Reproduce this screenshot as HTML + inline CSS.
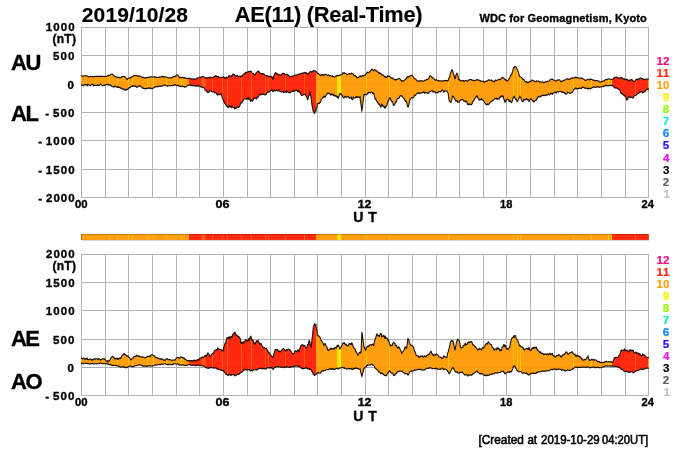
<!DOCTYPE html><html><head><meta charset="utf-8"><title>AE(11) Real-Time 2019/10/28</title>
<style>html,body{margin:0;padding:0;background:#fff;width:700px;height:450px;overflow:hidden}svg{display:block}text{font-family:"Liberation Sans",Arial,Helvetica,sans-serif;font-weight:bold;stroke-width:0.35px}</style></head><body>
<svg width="700" height="450" viewBox="0 0 700 450">
<rect width="700" height="450" fill="#fff"/>
<g stroke="#b4b4b4" stroke-width="1" shape-rendering="crispEdges">
<line x1="81.5" y1="27" x2="81.5" y2="198"/>
<line x1="105.5" y1="27" x2="105.5" y2="198"/>
<line x1="128.5" y1="27" x2="128.5" y2="198"/>
<line x1="152.5" y1="27" x2="152.5" y2="198"/>
<line x1="176.5" y1="27" x2="176.5" y2="198"/>
<line x1="199.5" y1="27" x2="199.5" y2="198"/>
<line x1="223.5" y1="27" x2="223.5" y2="198"/>
<line x1="247.5" y1="27" x2="247.5" y2="198"/>
<line x1="270.5" y1="27" x2="270.5" y2="198"/>
<line x1="294.5" y1="27" x2="294.5" y2="198"/>
<line x1="317.5" y1="27" x2="317.5" y2="198"/>
<line x1="341.5" y1="27" x2="341.5" y2="198"/>
<line x1="365.5" y1="27" x2="365.5" y2="198"/>
<line x1="388.5" y1="27" x2="388.5" y2="198"/>
<line x1="412.5" y1="27" x2="412.5" y2="198"/>
<line x1="436.5" y1="27" x2="436.5" y2="198"/>
<line x1="459.5" y1="27" x2="459.5" y2="198"/>
<line x1="483.5" y1="27" x2="483.5" y2="198"/>
<line x1="506.5" y1="27" x2="506.5" y2="198"/>
<line x1="530.5" y1="27" x2="530.5" y2="198"/>
<line x1="554.5" y1="27" x2="554.5" y2="198"/>
<line x1="577.5" y1="27" x2="577.5" y2="198"/>
<line x1="601.5" y1="27" x2="601.5" y2="198"/>
<line x1="625.5" y1="27" x2="625.5" y2="198"/>
<line x1="648.5" y1="27" x2="648.5" y2="198"/>
<line x1="81" y1="27.5" x2="649" y2="27.5"/>
<line x1="81" y1="55.5" x2="649" y2="55.5"/>
<line x1="81" y1="84.5" x2="649" y2="84.5"/>
<line x1="81" y1="112.5" x2="649" y2="112.5"/>
<line x1="81" y1="140.5" x2="649" y2="140.5"/>
<line x1="81" y1="169.5" x2="649" y2="169.5"/>
<line x1="81" y1="197.5" x2="649" y2="197.5"/>
<line x1="81.5" y1="254" x2="81.5" y2="396"/>
<line x1="105.5" y1="254" x2="105.5" y2="396"/>
<line x1="128.5" y1="254" x2="128.5" y2="396"/>
<line x1="152.5" y1="254" x2="152.5" y2="396"/>
<line x1="176.5" y1="254" x2="176.5" y2="396"/>
<line x1="199.5" y1="254" x2="199.5" y2="396"/>
<line x1="223.5" y1="254" x2="223.5" y2="396"/>
<line x1="247.5" y1="254" x2="247.5" y2="396"/>
<line x1="270.5" y1="254" x2="270.5" y2="396"/>
<line x1="294.5" y1="254" x2="294.5" y2="396"/>
<line x1="317.5" y1="254" x2="317.5" y2="396"/>
<line x1="341.5" y1="254" x2="341.5" y2="396"/>
<line x1="365.5" y1="254" x2="365.5" y2="396"/>
<line x1="388.5" y1="254" x2="388.5" y2="396"/>
<line x1="412.5" y1="254" x2="412.5" y2="396"/>
<line x1="436.5" y1="254" x2="436.5" y2="396"/>
<line x1="459.5" y1="254" x2="459.5" y2="396"/>
<line x1="483.5" y1="254" x2="483.5" y2="396"/>
<line x1="506.5" y1="254" x2="506.5" y2="396"/>
<line x1="530.5" y1="254" x2="530.5" y2="396"/>
<line x1="554.5" y1="254" x2="554.5" y2="396"/>
<line x1="577.5" y1="254" x2="577.5" y2="396"/>
<line x1="601.5" y1="254" x2="601.5" y2="396"/>
<line x1="625.5" y1="254" x2="625.5" y2="396"/>
<line x1="648.5" y1="254" x2="648.5" y2="396"/>
<line x1="81" y1="254.5" x2="649" y2="254.5"/>
<line x1="81" y1="282.5" x2="649" y2="282.5"/>
<line x1="81" y1="310.5" x2="649" y2="310.5"/>
<line x1="81" y1="339.5" x2="649" y2="339.5"/>
<line x1="81" y1="367.5" x2="649" y2="367.5"/>
<line x1="81" y1="395.5" x2="649" y2="395.5"/>
</g>
<clipPath id="c1"><polygon points="81,75.8 81.2,75.8 81.6,75.7 82,75.8 82.4,76 82.8,76.1 83.2,76.2 83.6,76.1 84,75.7 84.3,75.8 84.7,76 85.1,75.8 85.5,75.7 85.9,75.8 86.3,76 86.7,76 87.1,75.8 87.5,76.2 87.9,76.2 88.3,76.6 88.7,76.7 89.1,76.9 89.5,76.7 89.9,76.8 90.3,76.5 90.6,76.3 91,76.3 91.4,76.8 91.8,76.7 92.2,76.6 92.6,76.4 93,76.7 93.4,76.6 93.8,76.7 94.2,76.8 94.6,76.4 95,76.5 95.4,76.4 95.8,76.2 96.2,76.4 96.6,76.4 96.9,76.3 97.3,76.3 97.7,76.6 98.1,76.5 98.5,76.2 98.9,76.6 99.3,76.4 99.7,76.4 100.1,76.6 100.5,76.1 100.9,76.1 101.3,76.5 101.7,76.5 102.1,76.4 102.5,76.5 102.9,76.4 103.2,76.5 103.6,76.4 104,76.2 104.4,76.5 104.8,76.5 105.2,76.6 105.6,76.4 106,76.5 106.4,76.5 106.8,76.3 107.2,75.8 107.6,75.4 108,75.6 108.4,75.6 108.8,75.3 109.2,75.6 109.5,75.4 109.9,75.2 110.3,74.6 110.7,74.3 111.1,74.3 111.5,74.3 111.9,74.2 112.3,74 112.7,74.5 113.1,75 113.5,75.2 113.9,75.6 114.3,75.9 114.7,76.5 115.1,76.7 115.5,77 115.8,76.8 116.2,76.8 116.6,77 117,77.1 117.4,77.4 117.8,77.4 118.2,77.5 118.6,77.3 119,77.6 119.4,77.4 119.8,77.7 120.2,78 120.6,77.8 121,77.7 121.4,77.4 121.8,76.5 122.1,76.7 122.5,76.8 122.9,76.6 123.3,76.3 123.7,76.3 124.1,76.4 124.5,76.6 124.9,76.9 125.3,77.6 125.7,78 126.1,78.3 126.5,79 126.9,79.2 127.3,79.4 127.7,78.8 128.1,78.5 128.4,78.3 128.8,78.3 129.2,78 129.6,78.3 130,78.2 130.4,77.6 130.8,77.8 131.2,77.2 131.6,77.3 132,76.7 132.4,76.6 132.8,76 133.2,75.8 133.6,76.2 134,75.7 134.4,75.3 134.7,75.4 135.1,75.5 135.5,75.6 135.9,75.8 136.3,75.4 136.7,75.6 137.1,75.6 137.5,75.9 137.9,76 138.3,76.4 138.7,76 139.1,76.1 139.5,75.9 139.9,76.1 140.3,76.4 140.7,76.6 141,76.8 141.4,76.8 141.8,77 142.2,77.1 142.6,77.5 143,77.7 143.4,77.3 143.8,77.6 144.2,77.9 144.6,77.8 145,77.6 145.4,77.9 145.8,77.8 146.2,77.8 146.6,78.1 147,77.6 147.3,77.5 147.7,77.3 148.1,77.4 148.5,77.1 148.9,77.1 149.3,77 149.7,77.2 150.1,77.3 150.5,76.8 150.9,76.9 151.3,76.8 151.7,76.9 152.1,77 152.5,77.1 152.9,76.9 153.3,77 153.6,77.1 154,77.1 154.4,76.8 154.8,76.8 155.2,76.9 155.6,77.2 156,77.7 156.4,77.4 156.8,77.3 157.2,77.5 157.6,77.5 158,77.5 158.4,77.3 158.8,77.1 159.2,77.3 159.6,77 159.9,77.3 160.3,77.1 160.7,77 161.1,76.8 161.5,76.4 161.9,76.2 162.3,76.6 162.7,77 163.1,76.7 163.5,76.9 163.9,76.8 164.3,76.5 164.7,76.9 165.1,77.2 165.5,77 165.9,77 166.2,77 166.6,77 167,77.3 167.4,77.6 167.8,77.6 168.2,77.7 168.6,78 169,77.8 169.4,77.8 169.8,77.7 170.2,77.9 170.6,77.8 171,77.9 171.4,77.8 171.8,77.5 172.2,77.5 172.5,77.2 172.9,77 173.3,76.5 173.7,76.8 174.1,76.5 174.5,76.5 174.9,76.4 175.3,76.5 175.7,76.2 176.1,75.6 176.5,75.3 176.9,74.9 177.3,75.1 177.7,75 178.1,75.3 178.5,76.1 178.8,76.4 179.2,77 179.6,77.8 180,77.7 180.4,77.2 180.8,77.2 181.2,77.5 181.6,77.7 182,77.4 182.4,77.4 182.8,77.5 183.2,77.6 183.6,77.7 184,77.6 184.4,77.7 184.8,77.8 185.1,78.2 185.5,78.1 185.9,78.3 186.3,78.1 186.7,78.4 187.1,78.5 187.5,78.5 187.9,78.8 188.3,78.3 188.7,78.1 189.1,78.3 189.5,78.3 189.9,78.3 190.3,79 190.7,78.9 191.1,78.9 191.4,78.9 191.8,79.1 192.2,79.1 192.6,79.1 193,78.9 193.4,78.9 193.8,79 194.2,78.7 194.6,79 195,79.2 195.4,79.4 195.8,78.9 196.2,78.6 196.6,78.3 197,78.2 197.4,78.1 197.7,78.1 198.1,78.1 198.5,78 198.9,77.9 199.3,77.4 199.7,77.3 200.1,77.3 200.5,77.4 200.9,77.4 201.3,76.9 201.7,76.8 202.1,76.7 202.5,76.8 202.9,77 203.3,76.9 203.7,76.8 204,77 204.4,77.2 204.8,77.3 205.2,77.4 205.6,77.9 206,77.9 206.4,78.2 206.8,77.9 207.2,78.1 207.6,77.8 208,77.3 208.4,77.5 208.8,77.8 209.2,77.7 209.6,77.7 210,77.9 210.3,77.7 210.7,77.1 211.1,77.3 211.5,77.5 211.9,77.8 212.3,77.5 212.7,77.7 213.1,77.8 213.5,77.1 213.9,77.2 214.3,76.6 214.7,76.1 215.1,76 215.5,76 215.9,75.6 216.3,76 216.6,76.4 217,77 217.4,77 217.8,76.5 218.2,76.3 218.6,76.8 219,77.2 219.4,77.3 219.8,77.2 220.2,77.3 220.6,77.2 221,77.2 221.4,77.4 221.8,77.5 222.2,77.4 222.6,77.6 222.9,77.4 223.3,76.9 223.7,76.9 224.1,77.2 224.5,77.9 224.9,77.6 225.3,78.3 225.7,78.5 226.1,77.7 226.5,77.1 226.9,77.1 227.3,77.7 227.7,77.6 228.1,77.5 228.5,76.8 228.9,75.5 229.2,75.5 229.6,76 230,76.4 230.4,76.1 230.8,76 231.2,76.3 231.6,75.8 232,76.1 232.4,75.1 232.8,74.4 233.2,74 233.6,74.6 234,74.5 234.4,74.8 234.8,75.1 235.2,75.4 235.5,76 235.9,76.6 236.3,75.9 236.7,75.9 237.1,75.8 237.5,75.4 237.9,76.3 238.3,76.6 238.7,76.4 239.1,76.2 239.5,76.4 239.9,76 240.3,76 240.7,76.7 241.1,77.1 241.5,76.3 241.8,75.8 242.2,76.3 242.6,75.3 243,74.8 243.4,74 243.8,74.2 244.2,74.1 244.6,74.3 245,72.9 245.4,73 245.8,72.2 246.2,72.5 246.6,72.3 247,72.8 247.4,72.6 247.8,71.8 248.1,72.1 248.5,71.4 248.9,71.2 249.3,71.5 249.7,71.6 250.1,71.5 250.5,71.2 250.9,71.2 251.3,71.8 251.7,72.1 252.1,72.9 252.5,73.6 252.9,73.7 253.3,73.4 253.7,74.2 254.1,74.3 254.4,74.6 254.8,75.1 255.2,74.4 255.6,74.1 256,72.9 256.4,72.9 256.8,72.2 257.2,71.9 257.6,71.8 258,71 258.4,71.4 258.8,71.5 259.2,71.9 259.6,72.7 260,73 260.4,73.3 260.7,73.2 261.1,73.8 261.5,73.6 261.9,74.1 262.3,73.5 262.7,73.7 263.1,74.1 263.5,74.1 263.9,73.8 264.3,74.5 264.7,75 265.1,75.3 265.5,75.7 265.9,75.5 266.3,75.8 266.7,76 267,75.7 267.4,75.9 267.8,75.8 268.2,76.1 268.6,76.5 269,77 269.4,76.2 269.8,76.3 270.2,76.4 270.6,76.5 271,76.6 271.4,76.8 271.8,76.4 272.2,77.3 272.6,78.5 273,79.5 273.3,78.6 273.7,76.9 274.1,75.2 274.5,74.2 274.9,73.2 275.3,73 275.7,72.6 276.1,73.7 276.5,73.4 276.9,73.8 277.3,73.5 277.7,74 278.1,74.1 278.5,74.8 278.9,75.1 279.3,74.7 279.6,74.7 280,75.1 280.4,75 280.8,75.2 281.2,74.8 281.6,74.3 282,73.8 282.4,73.4 282.8,73.4 283.2,73.3 283.6,73.6 284,73.6 284.4,73.6 284.8,74.3 285.2,74.9 285.6,74.7 285.9,74.6 286.3,74.5 286.7,74.2 287.1,74.4 287.5,74.4 287.9,74.7 288.3,74.9 288.7,75.4 289.1,75.9 289.5,76.5 289.9,76.8 290.3,76.8 290.7,76.5 291.1,76.3 291.5,76.5 291.9,76.2 292.2,76.4 292.6,76.2 293,76 293.4,76.3 293.8,75.9 294.2,75.5 294.6,75.3 295,75.2 295.4,75.1 295.8,75.2 296.2,75 296.6,75 297,74.7 297.4,74.9 297.8,74.6 298.2,74.3 298.5,74.2 298.9,74.2 299.3,73.9 299.7,74.3 300.1,73.9 300.5,73.7 300.9,73.5 301.3,73.3 301.7,73.5 302.1,73.5 302.5,73.2 302.9,73 303.3,72.9 303.7,73.4 304.1,73.1 304.5,72.6 304.8,72.4 305.2,72.5 305.6,73.2 306,72.8 306.4,72.9 306.8,73.9 307.2,73.5 307.6,74 308,74.2 308.4,74 308.8,73 309.2,72.9 309.6,72.6 310,71.9 310.4,71.3 310.8,71.5 311.1,71.6 311.5,72.1 311.9,72.2 312.3,71.7 312.7,71.2 313.1,71 313.5,70.3 313.9,70.7 314.3,71 314.7,70.9 315.1,71 315.5,70.9 315.9,71.3 316.3,72 316.7,72.1 317.1,72.9 317.4,73.8 317.8,73.4 318.2,73.5 318.6,73.5 319,74.4 319.4,74.5 319.8,74.7 320.2,74.9 320.6,75.7 321,75.4 321.4,74.8 321.8,74.6 322.2,74.8 322.6,74.8 323,74.5 323.4,75.7 323.7,75.6 324.1,75.2 324.5,74.9 324.9,74.4 325.3,74.3 325.7,74.5 326.1,74.8 326.5,74.8 326.9,75.2 327.3,75.4 327.7,75.3 328.1,74.9 328.5,75.3 328.9,75.6 329.3,75.7 329.7,75.5 330,75.7 330.4,75.4 330.8,76 331.2,76.2 331.6,76.3 332,76.1 332.4,75.8 332.8,76.5 333.2,76.8 333.6,76.6 334,76.8 334.4,77.2 334.8,76.7 335.2,76.4 335.6,76.1 336,76.3 336.3,75.8 336.7,75.9 337.1,75.4 337.5,75.8 337.9,76 338.3,75.7 338.7,75.8 339.1,75.3 339.5,75.1 339.9,75.4 340.3,75.2 340.7,75.1 341.1,74.6 341.5,74.8 341.9,74.8 342.3,74.2 342.6,73.3 343,72.7 343.4,73.1 343.8,73.2 344.2,72.7 344.6,73 345,73.5 345.4,73.5 345.8,73.4 346.2,73.8 346.6,74.4 347,74.8 347.4,74.2 347.8,74.3 348.2,74.2 348.6,74 348.9,73.6 349.3,73.8 349.7,73.6 350.1,73.9 350.5,73.8 350.9,74 351.3,73.2 351.7,73.1 352.1,73.4 352.5,73.8 352.9,74.2 353.3,74.1 353.7,75.2 354.1,75.7 354.5,76 354.9,75.2 355.2,75.5 355.6,76.2 356,76.7 356.4,76.6 356.8,77.6 357.2,78.1 357.6,77.6 358,77.4 358.4,77.2 358.8,77.4 359.2,76.6 359.6,76.1 360,76.1 360.4,75.9 360.8,76.8 361.2,76.3 361.5,76.2 361.9,75.8 362.3,75.4 362.7,75.5 363.1,76.1 363.5,75.6 363.9,75.6 364.3,75.3 364.7,75.1 365.1,74.8 365.5,75.2 365.9,74.2 366.3,73.7 366.7,73 367.1,72.1 367.5,72.1 367.8,72.7 368.2,72.7 368.6,72.7 369,72.4 369.4,71.7 369.8,71.9 370.2,71 370.6,71 371,70.2 371.4,69.6 371.8,69.2 372.2,69 372.6,69.4 373,69.9 373.4,70.7 373.8,70.7 374.1,70.1 374.5,69.7 374.9,69.7 375.3,70 375.7,70.7 376.1,70.4 376.5,70.9 376.9,71.2 377.3,71.6 377.7,71.8 378.1,72.2 378.5,72.5 378.9,73.3 379.3,73.5 379.7,72.6 380.1,73.1 380.4,73.6 380.8,73.6 381.2,73.7 381.6,74.6 382,75 382.4,74.8 382.8,75.1 383.2,75.4 383.6,75.1 384,76 384.4,76.4 384.8,77 385.2,76.4 385.6,77.4 386,77.5 386.4,77.5 386.7,76.9 387.1,76.5 387.5,75.9 387.9,76.7 388.3,76.2 388.7,76.2 389.1,76.4 389.5,75.9 389.9,76.2 390.3,77.1 390.7,77.3 391.1,78 391.5,78.2 391.9,78.1 392.3,78.1 392.7,77.8 393,78.3 393.4,79 393.8,79.3 394.2,79.5 394.6,79.8 395,79.4 395.4,79.6 395.8,80.2 396.2,79.6 396.6,79.5 397,79.4 397.4,79.2 397.8,79 398.2,79 398.6,78.5 399,78.5 399.3,78.5 399.7,78.5 400.1,79.2 400.5,79.7 400.9,80.2 401.3,80.5 401.7,81.4 402.1,81.1 402.5,80.8 402.9,80.9 403.3,81.1 403.7,80.8 404.1,80.3 404.5,80.2 404.9,79.7 405.3,79.5 405.6,78.9 406,78.9 406.4,78.5 406.8,77.8 407.2,76.5 407.6,77 408,77.1 408.4,77.2 408.8,76.5 409.2,76.7 409.6,76.4 410,75.9 410.4,75.8 410.8,75.6 411.2,75.2 411.6,75.5 411.9,75.3 412.3,75.6 412.7,75.9 413.1,76.5 413.5,77.7 413.9,78.3 414.3,78.2 414.7,78.3 415.1,78.7 415.5,79.3 415.9,79.4 416.3,79.9 416.7,80.5 417.1,81 417.5,80.8 417.9,81.1 418.2,80.9 418.6,81.2 419,81 419.4,81.2 419.8,81.3 420.2,80.6 420.6,80.6 421,81 421.4,81.1 421.8,81.1 422.2,80.8 422.6,81 423,81.4 423.4,81.3 423.8,81.1 424.2,80.9 424.5,80.4 424.9,80.3 425.3,80.1 425.7,80.4 426.1,80.1 426.5,79.5 426.9,79.4 427.3,79.5 427.7,79.5 428.1,78.9 428.5,78.6 428.9,77.9 429.3,77 429.7,76.1 430.1,75.7 430.5,75.9 430.8,76.3 431.2,76.6 431.6,76.9 432,77.5 432.4,77.6 432.8,77.6 433.2,78.2 433.6,78.6 434,78.7 434.4,79.4 434.8,79.6 435.2,80.2 435.6,80.2 436,79.9 436.4,79.6 436.8,80.1 437.1,80.2 437.5,80.4 437.9,80.6 438.3,80.4 438.7,81 439.1,80.8 439.5,81 439.9,80.8 440.3,80.9 440.7,81.1 441.1,81 441.5,80.8 441.9,80.8 442.3,80.7 442.7,80.9 443.1,81.4 443.4,80.9 443.8,80.7 444.2,80.6 444.6,80.6 445,80.3 445.4,80.5 445.8,80.8 446.2,80.8 446.6,80.5 447,81 447.4,80.7 447.8,80.9 448.2,80.7 448.6,79.1 449,78 449.4,77.4 449.7,76.3 450.1,74.7 450.5,73.1 450.9,72.3 451.3,71.1 451.7,69.8 452.1,69.8 452.5,70.7 452.9,71.9 453.3,73.2 453.7,74.4 454.1,75.5 454.5,77.1 454.9,78.9 455.3,78.5 455.7,76.3 456,74.8 456.4,74 456.8,73.1 457.2,73.6 457.6,74.4 458,76.5 458.4,77.8 458.8,79.5 459.2,79.7 459.6,79.5 460,80.6 460.4,81 460.8,80.8 461.2,80.7 461.6,80.6 462,80.8 462.3,80.8 462.7,80.8 463.1,80.9 463.5,80.5 463.9,81.4 464.3,80.9 464.7,81.1 465.1,80.5 465.5,80.6 465.9,80.8 466.3,80.5 466.7,80.8 467.1,81 467.5,81.3 467.9,81 468.3,80.5 468.6,79.9 469,80 469.4,79.5 469.8,79.6 470.2,79.7 470.6,79.6 471,79.4 471.4,79.8 471.8,80 472.2,80.2 472.6,80.2 473,80.6 473.4,80.2 473.8,80.5 474.2,80.3 474.6,80.7 474.9,80.6 475.3,80.5 475.7,80.6 476.1,79.9 476.5,80 476.9,79.6 477.3,79.5 477.7,80 478.1,80.2 478.5,80.1 478.9,80.1 479.3,80.2 479.7,80.3 480.1,80.9 480.5,80.8 480.9,81.5 481.2,81.1 481.6,81.2 482,81.3 482.4,81.2 482.8,81 483.2,81.4 483.6,81.9 484,82 484.4,82.4 484.8,82.3 485.2,81.3 485.6,81.5 486,81 486.4,81.4 486.8,81.1 487.2,81 487.5,80.9 487.9,80.5 488.3,79.8 488.7,79.9 489.1,80 489.5,80.4 489.9,80.1 490.3,80.3 490.7,80.2 491.1,80.4 491.5,79.9 491.9,80.9 492.3,81.1 492.7,80.8 493.1,81.1 493.5,81.4 493.8,81.5 494.2,81.9 494.6,81.5 495,80.4 495.4,80 495.8,80.5 496.2,80.7 496.6,80.7 497,80.1 497.4,80.3 497.8,80.3 498.2,79.7 498.6,79.2 499,79.2 499.4,79.4 499.8,79.6 500.1,79.4 500.5,79.7 500.9,78.8 501.3,78.6 501.7,78.1 502.1,77.3 502.5,77.2 502.9,78 503.3,77.9 503.7,77.9 504.1,78.5 504.5,79.1 504.9,79.3 505.3,80.1 505.7,79.5 506.1,80.5 506.4,80.9 506.8,80.8 507.2,80.9 507.6,80.8 508,80.7 508.4,79.9 508.8,78.7 509.2,78.7 509.6,77.8 510,77.1 510.4,76.2 510.8,75.3 511.2,75 511.6,74.4 512,73.2 512.4,72.1 512.7,71.4 513.1,69.6 513.5,67.8 513.9,68 514.3,67.7 514.7,66.5 515.1,66.4 515.5,66.6 515.9,66.9 516.3,67.8 516.7,68.6 517.1,69.6 517.5,69.9 517.9,70.8 518.3,71.9 518.7,73.4 519,74.3 519.4,75.6 519.8,76.5 520.2,76.7 520.6,76.9 521,77.1 521.4,77.4 521.8,77.9 522.2,78.3 522.6,78.9 523,78.9 523.4,79.7 523.8,79.5 524.2,79.9 524.6,80.6 525,81.1 525.3,81.6 525.7,81.7 526.1,82.1 526.5,81.5 526.9,81.8 527.3,82.5 527.7,82.4 528.1,82.8 528.5,82.4 528.9,81.7 529.3,81.4 529.7,81.8 530.1,81.9 530.5,81.1 530.9,81 531.3,81.1 531.6,80.8 532,80.1 532.4,80 532.8,80.3 533.2,80.5 533.6,80.5 534,81 534.4,81.4 534.8,81.4 535.2,81.7 535.6,81.6 536,81.5 536.4,80.7 536.8,81.1 537.2,81.2 537.6,81.3 537.9,81.2 538.3,80.9 538.7,81.2 539.1,81.4 539.5,81.9 539.9,82 540.3,81.7 540.7,81.7 541.1,82.1 541.5,82.2 541.9,82.1 542.3,82 542.7,82.3 543.1,82.4 543.5,82.8 543.9,82.8 544.2,82 544.6,82.5 545,82.3 545.4,82 545.8,81.9 546.2,81.9 546.6,81.7 547,81.5 547.4,81.3 547.8,81.6 548.2,81.3 548.6,81.2 549,81 549.4,80.6 549.8,80.1 550.2,79.7 550.5,79.7 550.9,79.3 551.3,79.1 551.7,79 552.1,78.9 552.5,79.3 552.9,79.7 553.3,79.7 553.7,80.3 554.1,80.3 554.5,80.6 554.9,80.8 555.3,81.2 555.7,81.1 556.1,80.9 556.5,80.4 556.8,80.1 557.2,80.1 557.6,80.1 558,80.3 558.4,80 558.8,80 559.2,79.9 559.6,79.8 560,80.2 560.4,81 560.8,81.5 561.2,81.8 561.6,81.8 562,81.1 562.4,80.9 562.8,81.1 563.1,80.7 563.5,80.2 563.9,80.2 564.3,80.3 564.7,80.2 565.1,79.9 565.5,79.7 565.9,79.3 566.3,79.1 566.7,78.9 567.1,78.7 567.5,78.7 567.9,79.3 568.3,79.4 568.7,79.2 569.1,79.3 569.4,79 569.8,79.1 570.2,79.3 570.6,78.7 571,78.4 571.4,78.3 571.8,78 572.2,77.7 572.6,77.6 573,78.2 573.4,78.2 573.8,78 574.2,78 574.6,77.6 575,77 575.4,77.2 575.7,77.6 576.1,77.1 576.5,77.4 576.9,77.8 577.3,77.8 577.7,77.7 578.1,78 578.5,77.8 578.9,78 579.3,78.3 579.7,78.2 580.1,78.1 580.5,78.3 580.9,78.3 581.3,78.4 581.7,77.8 582,78.2 582.4,78.3 582.8,78.7 583.2,79.1 583.6,79.3 584,79.5 584.4,79.6 584.8,80 585.2,80.4 585.6,80.4 586,80.2 586.4,80.1 586.8,79.7 587.2,79.7 587.6,79.5 588,79.2 588.3,79.2 588.7,79.6 589.1,79.7 589.5,79.9 589.9,79.2 590.3,79.5 590.7,79.3 591.1,79.4 591.5,79.2 591.9,79.3 592.3,79.6 592.7,80 593.1,80.1 593.5,80.2 593.9,80.4 594.3,80.4 594.6,80.1 595,80.6 595.4,80.5 595.8,80.7 596.2,80.6 596.6,80.5 597,80.5 597.4,80.5 597.8,81 598.2,80.9 598.6,81.2 599,81.2 599.4,81.3 599.8,81.9 600.2,82.1 600.6,82 600.9,81.8 601.3,81.7 601.7,81.5 602.1,81.7 602.5,81.3 602.9,80.8 603.3,80.8 603.7,80.8 604.1,81.1 604.5,80.7 604.9,80.1 605.3,79.9 605.7,79.6 606.1,79.5 606.5,79.7 606.9,79.3 607.2,79.5 607.6,79.4 608,79.2 608.4,79 608.8,78.9 609.2,78.9 609.6,79.1 610,79.3 610.4,79.2 610.8,79.3 611.2,79.4 611.6,79.5 612,79.4 612.4,79.5 612.8,79.3 613.2,79.2 613.5,78.6 613.9,78.1 614.3,77.3 614.7,77.5 615.1,77.4 615.5,77.2 615.9,77.3 616.3,77.4 616.7,77 617.1,77.3 617.5,77.7 617.9,78.1 618.3,77.9 618.7,77.8 619.1,78.2 619.5,78.3 619.8,78 620.2,77.7 620.6,77.9 621,77.6 621.4,77.4 621.8,78 622.2,78.1 622.6,78.1 623,78.4 623.4,79.2 623.8,79.3 624.2,79.1 624.6,78.8 625,79.8 625.4,79 625.8,79.8 626.1,79.6 626.5,79.4 626.9,79.3 627.3,79.5 627.7,80.2 628.1,80.1 628.5,80.4 628.9,81.2 629.3,80.2 629.7,80.1 630.1,79.8 630.5,80.3 630.9,79.9 631.3,79.6 631.7,79.4 632.1,79.8 632.4,80.4 632.8,80.5 633.2,81.2 633.6,81.6 634,81.2 634.4,81.3 634.8,81.2 635.2,80.9 635.6,80 636,79.6 636.4,79.6 636.8,79.1 637.2,79.4 637.6,79.4 638,78.9 638.4,79.2 638.7,79 639.1,79.2 639.5,78.8 639.9,78.1 640.3,78.2 640.7,77.9 641.1,78.1 641.5,78.6 641.9,79.1 642.3,78.8 642.7,78.4 643.1,78.7 643.5,79.3 643.9,79.5 644.3,79.7 644.7,79.4 645,79.2 645.4,79.1 645.8,78.9 646.2,79 646.6,79 647,79.3 647.4,79.1 647.8,79.2 649,79.2 649,89.1 647.8,89.1 647.4,89.5 647,89.2 646.6,89.5 646.2,89.7 645.8,90.5 645.4,91 645,91.5 644.7,91.8 644.3,91.8 643.9,91.8 643.5,92.5 643.1,92 642.7,93 642.3,92.3 641.9,92.2 641.5,91.6 641.1,91.8 640.7,91.5 640.3,91.8 639.9,92.5 639.5,92.5 639.1,92.6 638.7,93.5 638.4,93.2 638,93.4 637.6,94 637.2,94.1 636.8,94.2 636.4,94.6 636,95.5 635.6,95.5 635.2,95.5 634.8,95.4 634.4,95.9 634,96.2 633.6,97.2 633.2,98.1 632.8,98 632.4,97.2 632.1,97.3 631.7,97.2 631.3,97.5 630.9,97 630.5,97.5 630.1,97.4 629.7,97.5 629.3,97 628.9,96.5 628.5,97 628.1,97.6 627.7,99.1 627.3,99.8 626.9,100.2 626.5,98.8 626.1,98 625.8,96.8 625.4,95.5 625,95 624.6,96.2 624.2,95.6 623.8,95.4 623.4,94.7 623,94.5 622.6,93.9 622.2,93.6 621.8,93.8 621.4,93.7 621,93.2 620.6,92.4 620.2,90.9 619.8,89.7 619.5,89.9 619.1,89.8 618.7,89.3 618.3,88.7 617.9,88.8 617.5,88.5 617.1,87.9 616.7,87.9 616.3,88 615.9,88.3 615.5,87.9 615.1,87.5 614.7,87.9 614.3,87.6 613.9,86.8 613.5,86.5 613.2,86.3 612.8,85.5 612.4,85.7 612,85.6 611.6,85.7 611.2,85 610.8,85.2 610.4,85.4 610,85.8 609.6,85.5 609.2,85.3 608.8,85.7 608.4,85.6 608,85.6 607.6,85.8 607.2,85.7 606.9,85.5 606.5,85.3 606.1,85.8 605.7,85.3 605.3,85.6 604.9,85.9 604.5,86.2 604.1,85.9 603.7,86.5 603.3,86.6 602.9,86.4 602.5,86.4 602.1,86.7 601.7,86.7 601.3,86.9 600.9,87.1 600.6,87 600.2,86.9 599.8,87.1 599.4,87.2 599,87.1 598.6,87.3 598.2,86.8 597.8,86.5 597.4,86.6 597,86.7 596.6,87 596.2,87.3 595.8,87.4 595.4,87.5 595,87.4 594.6,87 594.3,86.9 593.9,86.8 593.5,87 593.1,87.5 592.7,87.4 592.3,87.3 591.9,88 591.5,88.2 591.1,88.1 590.7,88.3 590.3,88.9 589.9,88.9 589.5,88.5 589.1,88.3 588.7,88.2 588.3,88.4 588,89.2 587.6,88.4 587.2,88.5 586.8,88.5 586.4,88.4 586,88 585.6,88.4 585.2,87.8 584.8,88 584.4,88.1 584,87.6 583.6,87.2 583.2,87.4 582.8,86.9 582.4,87.6 582,87.4 581.7,88.3 581.3,88 580.9,88.4 580.5,88.2 580.1,88.2 579.7,88.4 579.3,88 578.9,88.5 578.5,88.4 578.1,88.6 577.7,89.1 577.3,89.1 576.9,88.4 576.5,88.6 576.1,88.1 575.7,87.8 575.4,88.1 575,89.1 574.6,88.8 574.2,89.3 573.8,89.4 573.4,90.1 573,91 572.6,91.6 572.2,92.6 571.8,92.7 571.4,92.7 571,92.9 570.6,93.2 570.2,93.4 569.8,93.2 569.4,93.3 569.1,93 568.7,92.8 568.3,92.2 567.9,92.2 567.5,92.1 567.1,93.4 566.7,93.9 566.3,93.8 565.9,94.2 565.5,94 565.1,93.4 564.7,93.6 564.3,92.5 563.9,92.4 563.5,92.5 563.1,92.6 562.8,92.3 562.4,91.6 562,92.2 561.6,92.3 561.2,91.5 560.8,91.4 560.4,91.4 560,91.6 559.6,91.5 559.2,91.5 558.8,91.5 558.4,92.1 558,91.7 557.6,91.7 557.2,91.7 556.8,91.8 556.5,92.4 556.1,93.2 555.7,92.6 555.3,92 554.9,92.3 554.5,92.2 554.1,92.8 553.7,92.9 553.3,93.1 552.9,93.1 552.5,94.4 552.1,93.8 551.7,93.4 551.3,93.7 550.9,93.1 550.5,93.2 550.2,94.2 549.8,94.5 549.4,94.9 549,94.4 548.6,93.8 548.2,94.3 547.8,94.5 547.4,94.9 547,95.2 546.6,94.7 546.2,95.1 545.8,95.1 545.4,95.3 545,95.7 544.6,95.4 544.2,95.4 543.9,95.6 543.5,95.1 543.1,95.5 542.7,95.5 542.3,95.8 541.9,95.4 541.5,95.5 541.1,96.1 540.7,96.8 540.3,96.4 539.9,96.2 539.5,96.7 539.1,96.9 538.7,97 538.3,96.4 537.9,96.9 537.6,97.8 537.2,98.6 536.8,98.3 536.4,100.1 536,100.3 535.6,100.1 535.2,100.4 534.8,101.3 534.4,101.4 534,101.8 533.6,101.9 533.2,100.7 532.8,100.5 532.4,100.9 532,100.3 531.6,99.4 531.3,99.4 530.9,98.7 530.5,99.2 530.1,99.4 529.7,99.8 529.3,100.4 528.9,101.5 528.5,99.9 528.1,99.7 527.7,99.2 527.3,99.9 526.9,98.9 526.5,98.5 526.1,99.6 525.7,99.5 525.3,99.8 525,99.7 524.6,99.3 524.2,100.1 523.8,99.6 523.4,100.4 523,101.5 522.6,101.6 522.2,101.6 521.8,100.6 521.4,99.7 521,98.5 520.6,97.2 520.2,96.9 519.8,96.1 519.4,97.1 519,98.5 518.7,98.7 518.3,99.3 517.9,100.7 517.5,100.9 517.1,101.9 516.7,100.3 516.3,99.5 515.9,99.2 515.5,99.6 515.1,98.3 514.7,98 514.3,96.3 513.9,96.4 513.5,97.5 513.1,97.8 512.7,99.6 512.4,100.8 512,101.6 511.6,102.5 511.2,102.6 510.8,101.6 510.4,101.7 510,100.9 509.6,100.3 509.2,101.6 508.8,100.1 508.4,99.4 508,99.4 507.6,99 507.2,99.3 506.8,100 506.4,99.8 506.1,99.9 505.7,101.7 505.3,101.6 504.9,102.3 504.5,99.8 504.1,99.7 503.7,99 503.3,96.7 502.9,95.8 502.5,96.2 502.1,96.9 501.7,96 501.3,95.5 500.9,96.9 500.5,97 500.1,97.8 499.8,97.1 499.4,97.5 499,99.2 498.6,98.9 498.2,99.1 497.8,98.5 497.4,98.6 497,99.6 496.6,98.3 496.2,98.1 495.8,98.6 495.4,98.5 495,98.8 494.6,98.8 494.2,99.2 493.8,99.8 493.5,100.2 493.1,100.2 492.7,100.3 492.3,100.5 491.9,101.4 491.5,101.2 491.1,101.8 490.7,102 490.3,102.3 489.9,102.5 489.5,103.6 489.1,103.7 488.7,104.3 488.3,104.6 487.9,104.7 487.5,103.8 487.2,104.4 486.8,104.5 486.4,105 486,104.5 485.6,103.5 485.2,103.5 484.8,102.9 484.4,102.1 484,101.4 483.6,100.4 483.2,100.4 482.8,100.1 482.4,99.8 482,99.9 481.6,98.5 481.2,99 480.9,99.6 480.5,99.4 480.1,99.8 479.7,100.2 479.3,99.2 478.9,99.1 478.5,99.2 478.1,98.1 477.7,97.7 477.3,96.2 476.9,95.5 476.5,96.2 476.1,96.9 475.7,97.4 475.3,97.9 474.9,98 474.6,98.7 474.2,99.9 473.8,100.6 473.4,101.3 473,101.3 472.6,101.7 472.2,103.2 471.8,104.3 471.4,104.8 471,104.3 470.6,104.4 470.2,104.1 469.8,104.4 469.4,104.4 469,103.9 468.6,103.7 468.3,104.8 467.9,104.4 467.5,104.5 467.1,102.3 466.7,101.9 466.3,101.6 465.9,100.6 465.5,101.8 465.1,101.9 464.7,101.2 464.3,100.8 463.9,100.9 463.5,100.9 463.1,100.1 462.7,99.5 462.3,99.3 462,99.5 461.6,99.8 461.2,99.6 460.8,100.1 460.4,100.1 460,100.7 459.6,101 459.2,102.1 458.8,102 458.4,102.1 458,102.4 457.6,102 457.2,100.6 456.8,100.8 456.4,101.3 456,100.4 455.7,101.1 455.3,100 454.9,99.3 454.5,98.7 454.1,97.6 453.7,97.3 453.3,96.3 452.9,95.9 452.5,96.8 452.1,98.1 451.7,100.1 451.3,101.1 450.9,102.6 450.5,102.2 450.1,102 449.7,101.5 449.4,101.3 449,99.6 448.6,96.4 448.2,93.5 447.8,92.6 447.4,92 447,91.6 446.6,90.8 446.2,91 445.8,91 445.4,90.8 445,90.8 444.6,91.1 444.2,91.7 443.8,91.9 443.4,92.1 443.1,90.8 442.7,90.4 442.3,89.8 441.9,89.8 441.5,90.8 441.1,91.3 440.7,91.9 440.3,91.6 439.9,91.8 439.5,91.7 439.1,91.6 438.7,91.8 438.3,92.3 437.9,92.9 437.5,92.7 437.1,92.3 436.8,92.2 436.4,92.3 436,92.3 435.6,92.9 435.2,92.2 434.8,91.9 434.4,91.9 434,92.2 433.6,91.8 433.2,91.2 432.8,91.8 432.4,91.2 432,90.5 431.6,90.6 431.2,91 430.8,91.4 430.5,91.5 430.1,91.7 429.7,91.6 429.3,92.3 428.9,92.5 428.5,93.4 428.1,93.4 427.7,93.2 427.3,92.9 426.9,92.7 426.5,92.6 426.1,92.3 425.7,92.3 425.3,92.9 424.9,93.3 424.5,92.7 424.2,93.1 423.8,91.9 423.4,91.9 423,92.1 422.6,92.5 422.2,92.9 421.8,92.9 421.4,93 421,92.8 420.6,92.8 420.2,93.5 419.8,93.1 419.4,93.3 419,92.8 418.6,93 418.2,93.6 417.9,93 417.5,93 417.1,93.3 416.7,93.7 416.3,94.1 415.9,94.8 415.5,95.3 415.1,95.7 414.7,95.1 414.3,96.2 413.9,97 413.5,97.7 413.1,97.7 412.7,97.5 412.3,97.5 411.9,97.8 411.6,97.7 411.2,97.7 410.8,98.7 410.4,98.8 410,99.6 409.6,101 409.2,102.9 408.8,105.1 408.4,106.4 408,107.3 407.6,106.3 407.2,104.8 406.8,102.8 406.4,102.1 406,101.1 405.6,101.2 405.3,101.4 404.9,100.3 404.5,99.3 404.1,98.6 403.7,98.2 403.3,98 402.9,97.2 402.5,96.5 402.1,96.7 401.7,95.5 401.3,95.6 400.9,95.6 400.5,95.9 400.1,95.9 399.7,96.8 399.3,97.9 399,97.6 398.6,98.5 398.2,98.5 397.8,98.2 397.4,98.3 397,99.9 396.6,101.6 396.2,102 395.8,102.2 395.4,101.9 395,104.1 394.6,104.6 394.2,105 393.8,105.5 393.4,105.2 393,103.3 392.7,102.7 392.3,101.5 391.9,101.7 391.5,101.2 391.1,100.3 390.7,99.8 390.3,98 389.9,97.9 389.5,97.7 389.1,98.7 388.7,100.7 388.3,100.3 387.9,101.8 387.5,103.2 387.1,104.3 386.7,105.7 386.4,106.4 386,106.3 385.6,107 385.2,108 384.8,106.3 384.4,107.8 384,107.1 383.6,106.8 383.2,106.5 382.8,105.2 382.4,104.9 382,105.4 381.6,104.1 381.2,106.3 380.8,107.2 380.4,106.6 380.1,105.7 379.7,104.8 379.3,103.8 378.9,104.5 378.5,103.8 378.1,103.4 377.7,101.9 377.3,102.2 376.9,101.7 376.5,100.5 376.1,100 375.7,99 375.3,99.4 374.9,97.9 374.5,96.5 374.1,94.5 373.8,93.4 373.4,92.9 373,93.6 372.6,93.3 372.2,92.3 371.8,92.3 371.4,91.9 371,92.2 370.6,92.7 370.2,92.9 369.8,92.6 369.4,92.5 369,92.2 368.6,92.2 368.2,92.5 367.8,93.8 367.5,93.3 367.1,94.1 366.7,94.4 366.3,94.9 365.9,94.4 365.5,94.1 365.1,94.2 364.7,94.2 364.3,95.2 363.9,94.5 363.5,98.4 363.1,101.5 362.7,104.9 362.3,108 361.9,111.3 361.5,108.4 361.2,105.7 360.8,103.1 360.4,100.4 360,96.6 359.6,97.4 359.2,97.6 358.8,97.5 358.4,97.2 358,96.5 357.6,96.7 357.2,97.4 356.8,97.5 356.4,96.8 356,97.7 355.6,96.8 355.2,97.5 354.9,97.9 354.5,98.1 354.1,97.9 353.7,97.7 353.3,96.9 352.9,98.6 352.5,99.7 352.1,98.9 351.7,99.2 351.3,97 350.9,97.2 350.5,98 350.1,97.6 349.7,97.7 349.3,98.3 348.9,97.1 348.6,97.1 348.2,96.3 347.8,96.7 347.4,96.7 347,97 346.6,97.3 346.2,97.1 345.8,96.5 345.4,96.3 345,96.8 344.6,97.8 344.2,96.9 343.8,97.8 343.4,97.2 343,97.2 342.6,96.6 342.3,95.5 341.9,94.9 341.5,94.8 341.1,93.8 340.7,94.1 340.3,93.8 339.9,93.6 339.5,94 339.1,96.1 338.7,97 338.3,98.1 337.9,97.3 337.5,96.4 337.1,97.5 336.7,96.4 336.3,96.3 336,95.4 335.6,96.1 335.2,95.8 334.8,96.2 334.4,95.6 334,94.6 333.6,95.2 333.2,95.6 332.8,94.7 332.4,94.1 332,94 331.6,94.8 331.2,93.9 330.8,95.1 330.4,94.5 330,94 329.7,93.6 329.3,93.7 328.9,93.9 328.5,93 328.1,93.1 327.7,93.2 327.3,93.6 326.9,94 326.5,94.7 326.1,94.8 325.7,96.1 325.3,97 324.9,97.4 324.5,96.8 324.1,96.8 323.7,96 323.4,97.2 323,97.1 322.6,98.1 322.2,98.4 321.8,98.8 321.4,99.4 321,100.2 320.6,102 320.2,102.4 319.8,102.5 319.4,103.5 319,103.6 318.6,103.2 318.2,103.6 317.8,103.4 317.4,103.9 317.1,106.7 316.7,107.4 316.3,108.7 315.9,111.2 315.5,110.6 315.1,111.4 314.7,113.4 314.3,113.4 313.9,112.4 313.5,111.8 313.1,111.2 312.7,107.9 312.3,106.5 311.9,104.4 311.5,101.4 311.1,97.8 310.8,95.8 310.4,93 310,91.8 309.6,94.2 309.2,95.5 308.8,95.8 308.4,97.2 308,99.5 307.6,99.8 307.2,98.1 306.8,97.5 306.4,96.4 306,96.3 305.6,95.7 305.2,94 304.8,94.3 304.5,94.5 304.1,94.1 303.7,94.2 303.3,94.2 302.9,95.2 302.5,95.1 302.1,95.5 301.7,95.6 301.3,95.2 300.9,94.4 300.5,93.3 300.1,93 299.7,92.5 299.3,91 298.9,90.5 298.5,91.8 298.2,91.8 297.8,91.9 297.4,91 297,90.6 296.6,89.8 296.2,90 295.8,90.6 295.4,90.7 295,90.9 294.6,91 294.2,90.3 293.8,90.5 293.4,91.4 293,91.1 292.6,91.1 292.2,90.9 291.9,91.3 291.5,91.8 291.1,92.1 290.7,91.9 290.3,92.8 289.9,92.6 289.5,92.4 289.1,92.8 288.7,92.3 288.3,92.3 287.9,92.1 287.5,91.4 287.1,90.8 286.7,91.4 286.3,92.4 285.9,92 285.6,91.2 285.2,91.8 284.8,92.3 284.4,92.1 284,92.2 283.6,92.7 283.2,91.8 282.8,91.6 282.4,91.7 282,91.5 281.6,91.6 281.2,92.1 280.8,91.6 280.4,91.6 280,91 279.6,91.3 279.3,91.1 278.9,91.1 278.5,89.8 278.1,90.5 277.7,90.9 277.3,90.6 276.9,90.4 276.5,90.1 276.1,89.9 275.7,90.2 275.3,90.8 274.9,90.5 274.5,90.6 274.1,90.1 273.7,90.9 273.3,91.6 273,91.7 272.6,90.6 272.2,90.7 271.8,90 271.4,90.4 271,89.9 270.6,90.9 270.2,90.8 269.8,91.6 269.4,91.9 269,92.1 268.6,91.8 268.2,91.6 267.8,92.6 267.4,92.4 267,92.5 266.7,93.1 266.3,94.5 265.9,94.5 265.5,94.7 265.1,94.7 264.7,94.9 264.3,94.8 263.9,94.3 263.5,94.5 263.1,94.3 262.7,94.1 262.3,94 261.9,94.7 261.5,94.7 261.1,94.7 260.7,94.6 260.4,94.3 260,94.8 259.6,94.2 259.2,95 258.8,95.8 258.4,96.1 258,97.6 257.6,97.1 257.2,97.1 256.8,98 256.4,99.1 256,97.9 255.6,98.1 255.2,98.3 254.8,97.8 254.4,98.1 254.1,98.7 253.7,98.2 253.3,99.6 252.9,100.4 252.5,101.1 252.1,100.3 251.7,100.5 251.3,99.9 250.9,101.4 250.5,101 250.1,100.1 249.7,98.7 249.3,97.9 248.9,99.3 248.5,98.8 248.1,98.3 247.8,98.7 247.4,98.1 247,99.2 246.6,98.5 246.2,99.1 245.8,99 245.4,98.9 245,98.8 244.6,98.7 244.2,98.9 243.8,99.3 243.4,100.3 243,100.4 242.6,101.4 242.2,101.8 241.8,103 241.5,102.4 241.1,102.2 240.7,103.3 240.3,104.3 239.9,105.7 239.5,106.5 239.1,106.4 238.7,107.5 238.3,107.4 237.9,106.9 237.5,106.7 237.1,106.9 236.7,107.9 236.3,107.3 235.9,108.1 235.5,108.5 235.2,108.8 234.8,109 234.4,107.4 234,108 233.6,107.2 233.2,107.2 232.8,107.4 232.4,106.7 232,105.8 231.6,106.6 231.2,107.7 230.8,106.4 230.4,106.9 230,105.7 229.6,105.4 229.2,107 228.9,106.7 228.5,106.3 228.1,107.6 227.7,107 227.3,105.9 226.9,106.4 226.5,105.3 226.1,105.6 225.7,104.2 225.3,104.3 224.9,103.5 224.5,102.9 224.1,101.3 223.7,101.8 223.3,99.9 222.9,99 222.6,98.7 222.2,97.3 221.8,95.8 221.4,95.5 221,93.6 220.6,94.3 220.2,94.7 219.8,94.7 219.4,94.5 219,94.2 218.6,94.4 218.2,94.3 217.8,95.3 217.4,94.5 217,94 216.6,94.3 216.3,93.4 215.9,92.6 215.5,92.7 215.1,92.5 214.7,92.7 214.3,92.7 213.9,91.5 213.5,91.4 213.1,91.7 212.7,91.7 212.3,91.9 211.9,91.6 211.5,91.5 211.1,90.8 210.7,90.7 210.3,91.1 210,90.6 209.6,90.7 209.2,91.8 208.8,92.4 208.4,92.1 208,92.4 207.6,92.5 207.2,92.2 206.8,91.2 206.4,90.4 206,90.9 205.6,90 205.2,90 204.8,89.1 204.4,88.4 204,88 203.7,87.2 203.3,87.2 202.9,87.2 202.5,87.3 202.1,87.7 201.7,86.8 201.3,86.2 200.9,86.5 200.5,86.9 200.1,86.4 199.7,86.2 199.3,85.9 198.9,85.5 198.5,86.2 198.1,86.1 197.7,85.7 197.4,85.9 197,85.9 196.6,86.2 196.2,85.6 195.8,85.9 195.4,85.8 195,86.2 194.6,85.6 194.2,85.7 193.8,85.5 193.4,85.8 193,85.9 192.6,85.2 192.2,85.3 191.8,85.4 191.4,85.6 191.1,85.2 190.7,85.5 190.3,85.4 189.9,85 189.5,85 189.1,84.9 188.7,85.3 188.3,85.1 187.9,85.5 187.5,85.8 187.1,85.9 186.7,86.2 186.3,86.4 185.9,86.9 185.5,87.1 185.1,86.8 184.8,86.6 184.4,87.2 184,86.5 183.6,86.8 183.2,86.6 182.8,86.3 182.4,85.9 182,86.1 181.6,86.4 181.2,86.7 180.8,86.6 180.4,86.3 180,86 179.6,86.1 179.2,86 178.8,85.6 178.5,86 178.1,85.4 177.7,85.5 177.3,85.4 176.9,85.5 176.5,85.8 176.1,85.6 175.7,85.2 175.3,84.6 174.9,84.9 174.5,84.6 174.1,84.9 173.7,85.4 173.3,85.1 172.9,85.6 172.5,85.8 172.2,85.6 171.8,85.5 171.4,85.5 171,85.7 170.6,86 170.2,85.8 169.8,85.5 169.4,85.7 169,85.8 168.6,85.8 168.2,85.8 167.8,85.8 167.4,86.3 167,85.7 166.6,85.7 166.2,85.7 165.9,85.7 165.5,85 165.1,85 164.7,84.9 164.3,85.2 163.9,85.1 163.5,85.8 163.1,85.8 162.7,86.1 162.3,86.2 161.9,86.1 161.5,85.9 161.1,85.7 160.7,86.5 160.3,86.5 159.9,86.4 159.6,86.1 159.2,86.2 158.8,86.1 158.4,86.6 158,86.6 157.6,86.3 157.2,86.7 156.8,87 156.4,86.7 156,86.8 155.6,86.5 155.2,86.5 154.8,87.3 154.4,87.5 154,87.4 153.6,87.8 153.3,88.1 152.9,88.1 152.5,88.6 152.1,88.7 151.7,88.8 151.3,88.7 150.9,88.6 150.5,88.6 150.1,87.7 149.7,88.1 149.3,88.2 148.9,88.1 148.5,87.9 148.1,88.4 147.7,88.3 147.3,88 147,88.6 146.6,88.7 146.2,88.3 145.8,88.8 145.4,88.5 145,88.7 144.6,88.8 144.2,88.8 143.8,88.3 143.4,88.2 143,88.1 142.6,88.2 142.2,87.3 141.8,87.1 141.4,87 141,86.4 140.7,86.2 140.3,86.2 139.9,85.7 139.5,85.6 139.1,86.3 138.7,86.1 138.3,86.2 137.9,86.7 137.5,86.9 137.1,86.8 136.7,87.4 136.3,87.1 135.9,86.4 135.5,86.5 135.1,86.1 134.7,85.9 134.4,86.1 134,86.4 133.6,86.2 133.2,85.7 132.8,85.6 132.4,86.5 132,86.4 131.6,86.5 131.2,86.6 130.8,86.6 130.4,87 130,87.7 129.6,87.9 129.2,87.6 128.8,87.7 128.4,88.5 128.1,88.7 127.7,89.5 127.3,89.3 126.9,89 126.5,89.8 126.1,90 125.7,89.9 125.3,90.3 124.9,89.3 124.5,89.3 124.1,89.7 123.7,89 123.3,89.2 122.9,88.6 122.5,89.1 122.1,88.7 121.8,88.6 121.4,88.2 121,87.8 120.6,88.2 120.2,88.1 119.8,87.3 119.4,87.6 119,87.3 118.6,87.2 118.2,87.4 117.8,86.3 117.4,87.3 117,87.5 116.6,86.8 116.2,86.7 115.8,86.8 115.5,86.6 115.1,86.1 114.7,86.1 114.3,86.4 113.9,87.2 113.5,86.6 113.1,86.7 112.7,86.8 112.3,86.8 111.9,86.6 111.5,86.2 111.1,85.6 110.7,85.5 110.3,84.9 109.9,85 109.5,84.9 109.2,84.6 108.8,84.9 108.4,85.1 108,84.2 107.6,84.8 107.2,84.8 106.8,84.3 106.4,84.5 106,84.5 105.6,84.9 105.2,85 104.8,85.6 104.4,85.3 104,85.3 103.6,85.2 103.2,85.6 102.9,85.6 102.5,85.6 102.1,85.4 101.7,85.1 101.3,84.7 100.9,84.4 100.5,84.1 100.1,84.1 99.7,84.9 99.3,85.2 98.9,85.3 98.5,85.4 98.1,85.2 97.7,84.9 97.3,85.2 96.9,85.6 96.6,85.5 96.2,85.5 95.8,85.5 95.4,85.2 95,85.2 94.6,85.4 94.2,85.1 93.8,85.8 93.4,85.4 93,84.7 92.6,84.6 92.2,84.1 91.8,84.8 91.4,84.7 91,85.2 90.6,85.3 90.3,85.6 89.9,85.5 89.5,85 89.1,85 88.7,84.9 88.3,84.9 87.9,84.3 87.5,84.8 87.1,85.9 86.7,84.9 86.3,84.6 85.9,85.1 85.5,84.4 85.1,84.8 84.7,84.5 84.3,84.6 84,85.3 83.6,85.7 83.2,85.6 82.8,85.5 82.4,85 82,85.2 81.6,85.3 81.2,85 81,85"/></clipPath>
<g clip-path="url(#c1)" shape-rendering="crispEdges">
<rect x="81" y="0" width="28" height="450" fill="#ff9f10"/>
<rect x="109" y="0" width="1" height="450" fill="#ffc40a"/>
<rect x="110" y="0" width="7" height="450" fill="#ff9f10"/>
<rect x="117" y="0" width="1" height="450" fill="#ffc40a"/>
<rect x="118" y="0" width="10" height="450" fill="#ff9f10"/>
<rect x="128" y="0" width="1" height="450" fill="#ffc40a"/>
<rect x="129" y="0" width="3" height="450" fill="#ff9f10"/>
<rect x="132" y="0" width="1" height="450" fill="#ffc40a"/>
<rect x="133" y="0" width="14" height="450" fill="#ff9f10"/>
<rect x="147" y="0" width="1" height="450" fill="#ffc40a"/>
<rect x="148" y="0" width="5" height="450" fill="#ff9f10"/>
<rect x="153" y="0" width="1" height="450" fill="#ffc40a"/>
<rect x="154" y="0" width="12" height="450" fill="#ff9f10"/>
<rect x="166" y="0" width="1" height="450" fill="#ffc40a"/>
<rect x="167" y="0" width="14" height="450" fill="#ff9f10"/>
<rect x="181" y="0" width="1" height="450" fill="#ffc40a"/>
<rect x="182" y="0" width="7" height="450" fill="#ff9f10"/>
<rect x="189" y="0" width="12" height="450" fill="#ff2a10"/>
<rect x="201" y="0" width="1" height="450" fill="#ff4512"/>
<rect x="202" y="0" width="3" height="450" fill="#ff5a14"/>
<rect x="205" y="0" width="1" height="450" fill="#ff4512"/>
<rect x="206" y="0" width="6" height="450" fill="#ff2a10"/>
<rect x="212" y="0" width="1" height="450" fill="#ff5a14"/>
<rect x="213" y="0" width="9" height="450" fill="#ff2a10"/>
<rect x="222" y="0" width="1" height="450" fill="#ff5a14"/>
<rect x="223" y="0" width="4" height="450" fill="#ff2a10"/>
<rect x="227" y="0" width="1" height="450" fill="#ff5a14"/>
<rect x="228" y="0" width="13" height="450" fill="#ff2a10"/>
<rect x="241" y="0" width="1" height="450" fill="#ff5a14"/>
<rect x="242" y="0" width="9" height="450" fill="#ff2a10"/>
<rect x="251" y="0" width="1" height="450" fill="#ff5a14"/>
<rect x="252" y="0" width="13" height="450" fill="#ff2a10"/>
<rect x="265" y="0" width="1" height="450" fill="#ff5a14"/>
<rect x="266" y="0" width="2" height="450" fill="#ff2a10"/>
<rect x="268" y="0" width="1" height="450" fill="#ff5a14"/>
<rect x="269" y="0" width="16" height="450" fill="#ff2a10"/>
<rect x="285" y="0" width="1" height="450" fill="#ff5a14"/>
<rect x="286" y="0" width="18" height="450" fill="#ff2a10"/>
<rect x="304" y="0" width="1" height="450" fill="#ff5a14"/>
<rect x="305" y="0" width="11" height="450" fill="#ff2a10"/>
<rect x="316" y="0" width="21" height="450" fill="#ff9f10"/>
<rect x="337" y="0" width="2" height="450" fill="#ffdc05"/>
<rect x="339" y="0" width="2" height="450" fill="#ffee00"/>
<rect x="341" y="0" width="25" height="450" fill="#ff9f10"/>
<rect x="366" y="0" width="1" height="450" fill="#ffc40a"/>
<rect x="367" y="0" width="22" height="450" fill="#ff9f10"/>
<rect x="389" y="0" width="1" height="450" fill="#ffc40a"/>
<rect x="390" y="0" width="58" height="450" fill="#ff9f10"/>
<rect x="448" y="0" width="1" height="450" fill="#ffc40a"/>
<rect x="449" y="0" width="64" height="450" fill="#ff9f10"/>
<rect x="513" y="0" width="1" height="450" fill="#ffc40a"/>
<rect x="514" y="0" width="3" height="450" fill="#ff9f10"/>
<rect x="517" y="0" width="1" height="450" fill="#ffc40a"/>
<rect x="518" y="0" width="2" height="450" fill="#ff9f10"/>
<rect x="520" y="0" width="1" height="450" fill="#ffc40a"/>
<rect x="521" y="0" width="52" height="450" fill="#ff9f10"/>
<rect x="573" y="0" width="1" height="450" fill="#ffc40a"/>
<rect x="574" y="0" width="17" height="450" fill="#ff9f10"/>
<rect x="591" y="0" width="1" height="450" fill="#ffc40a"/>
<rect x="592" y="0" width="16" height="450" fill="#ff9f10"/>
<rect x="608" y="0" width="1" height="450" fill="#ffc40a"/>
<rect x="609" y="0" width="2" height="450" fill="#ff9f10"/>
<rect x="611" y="0" width="1" height="450" fill="#ffdc05"/>
<rect x="612" y="0" width="23" height="450" fill="#ff2a10"/>
<rect x="635" y="0" width="1" height="450" fill="#ff5a14"/>
<rect x="636" y="0" width="12" height="450" fill="#ff2a10"/>
<rect x="648" y="0" width="1" height="450" fill="#ff9f10"/>
</g>
<polyline fill="none" stroke="#1a1008" stroke-width="1.1" stroke-linejoin="round" points="81,75.8 81.2,75.8 81.6,75.7 82,75.8 82.4,76 82.8,76.1 83.2,76.2 83.6,76.1 84,75.7 84.3,75.8 84.7,76 85.1,75.8 85.5,75.7 85.9,75.8 86.3,76 86.7,76 87.1,75.8 87.5,76.2 87.9,76.2 88.3,76.6 88.7,76.7 89.1,76.9 89.5,76.7 89.9,76.8 90.3,76.5 90.6,76.3 91,76.3 91.4,76.8 91.8,76.7 92.2,76.6 92.6,76.4 93,76.7 93.4,76.6 93.8,76.7 94.2,76.8 94.6,76.4 95,76.5 95.4,76.4 95.8,76.2 96.2,76.4 96.6,76.4 96.9,76.3 97.3,76.3 97.7,76.6 98.1,76.5 98.5,76.2 98.9,76.6 99.3,76.4 99.7,76.4 100.1,76.6 100.5,76.1 100.9,76.1 101.3,76.5 101.7,76.5 102.1,76.4 102.5,76.5 102.9,76.4 103.2,76.5 103.6,76.4 104,76.2 104.4,76.5 104.8,76.5 105.2,76.6 105.6,76.4 106,76.5 106.4,76.5 106.8,76.3 107.2,75.8 107.6,75.4 108,75.6 108.4,75.6 108.8,75.3 109.2,75.6 109.5,75.4 109.9,75.2 110.3,74.6 110.7,74.3 111.1,74.3 111.5,74.3 111.9,74.2 112.3,74 112.7,74.5 113.1,75 113.5,75.2 113.9,75.6 114.3,75.9 114.7,76.5 115.1,76.7 115.5,77 115.8,76.8 116.2,76.8 116.6,77 117,77.1 117.4,77.4 117.8,77.4 118.2,77.5 118.6,77.3 119,77.6 119.4,77.4 119.8,77.7 120.2,78 120.6,77.8 121,77.7 121.4,77.4 121.8,76.5 122.1,76.7 122.5,76.8 122.9,76.6 123.3,76.3 123.7,76.3 124.1,76.4 124.5,76.6 124.9,76.9 125.3,77.6 125.7,78 126.1,78.3 126.5,79 126.9,79.2 127.3,79.4 127.7,78.8 128.1,78.5 128.4,78.3 128.8,78.3 129.2,78 129.6,78.3 130,78.2 130.4,77.6 130.8,77.8 131.2,77.2 131.6,77.3 132,76.7 132.4,76.6 132.8,76 133.2,75.8 133.6,76.2 134,75.7 134.4,75.3 134.7,75.4 135.1,75.5 135.5,75.6 135.9,75.8 136.3,75.4 136.7,75.6 137.1,75.6 137.5,75.9 137.9,76 138.3,76.4 138.7,76 139.1,76.1 139.5,75.9 139.9,76.1 140.3,76.4 140.7,76.6 141,76.8 141.4,76.8 141.8,77 142.2,77.1 142.6,77.5 143,77.7 143.4,77.3 143.8,77.6 144.2,77.9 144.6,77.8 145,77.6 145.4,77.9 145.8,77.8 146.2,77.8 146.6,78.1 147,77.6 147.3,77.5 147.7,77.3 148.1,77.4 148.5,77.1 148.9,77.1 149.3,77 149.7,77.2 150.1,77.3 150.5,76.8 150.9,76.9 151.3,76.8 151.7,76.9 152.1,77 152.5,77.1 152.9,76.9 153.3,77 153.6,77.1 154,77.1 154.4,76.8 154.8,76.8 155.2,76.9 155.6,77.2 156,77.7 156.4,77.4 156.8,77.3 157.2,77.5 157.6,77.5 158,77.5 158.4,77.3 158.8,77.1 159.2,77.3 159.6,77 159.9,77.3 160.3,77.1 160.7,77 161.1,76.8 161.5,76.4 161.9,76.2 162.3,76.6 162.7,77 163.1,76.7 163.5,76.9 163.9,76.8 164.3,76.5 164.7,76.9 165.1,77.2 165.5,77 165.9,77 166.2,77 166.6,77 167,77.3 167.4,77.6 167.8,77.6 168.2,77.7 168.6,78 169,77.8 169.4,77.8 169.8,77.7 170.2,77.9 170.6,77.8 171,77.9 171.4,77.8 171.8,77.5 172.2,77.5 172.5,77.2 172.9,77 173.3,76.5 173.7,76.8 174.1,76.5 174.5,76.5 174.9,76.4 175.3,76.5 175.7,76.2 176.1,75.6 176.5,75.3 176.9,74.9 177.3,75.1 177.7,75 178.1,75.3 178.5,76.1 178.8,76.4 179.2,77 179.6,77.8 180,77.7 180.4,77.2 180.8,77.2 181.2,77.5 181.6,77.7 182,77.4 182.4,77.4 182.8,77.5 183.2,77.6 183.6,77.7 184,77.6 184.4,77.7 184.8,77.8 185.1,78.2 185.5,78.1 185.9,78.3 186.3,78.1 186.7,78.4 187.1,78.5 187.5,78.5 187.9,78.8 188.3,78.3 188.7,78.1 189.1,78.3 189.5,78.3 189.9,78.3 190.3,79 190.7,78.9 191.1,78.9 191.4,78.9 191.8,79.1 192.2,79.1 192.6,79.1 193,78.9 193.4,78.9 193.8,79 194.2,78.7 194.6,79 195,79.2 195.4,79.4 195.8,78.9 196.2,78.6 196.6,78.3 197,78.2 197.4,78.1 197.7,78.1 198.1,78.1 198.5,78 198.9,77.9 199.3,77.4 199.7,77.3 200.1,77.3 200.5,77.4 200.9,77.4 201.3,76.9 201.7,76.8 202.1,76.7 202.5,76.8 202.9,77 203.3,76.9 203.7,76.8 204,77 204.4,77.2 204.8,77.3 205.2,77.4 205.6,77.9 206,77.9 206.4,78.2 206.8,77.9 207.2,78.1 207.6,77.8 208,77.3 208.4,77.5 208.8,77.8 209.2,77.7 209.6,77.7 210,77.9 210.3,77.7 210.7,77.1 211.1,77.3 211.5,77.5 211.9,77.8 212.3,77.5 212.7,77.7 213.1,77.8 213.5,77.1 213.9,77.2 214.3,76.6 214.7,76.1 215.1,76 215.5,76 215.9,75.6 216.3,76 216.6,76.4 217,77 217.4,77 217.8,76.5 218.2,76.3 218.6,76.8 219,77.2 219.4,77.3 219.8,77.2 220.2,77.3 220.6,77.2 221,77.2 221.4,77.4 221.8,77.5 222.2,77.4 222.6,77.6 222.9,77.4 223.3,76.9 223.7,76.9 224.1,77.2 224.5,77.9 224.9,77.6 225.3,78.3 225.7,78.5 226.1,77.7 226.5,77.1 226.9,77.1 227.3,77.7 227.7,77.6 228.1,77.5 228.5,76.8 228.9,75.5 229.2,75.5 229.6,76 230,76.4 230.4,76.1 230.8,76 231.2,76.3 231.6,75.8 232,76.1 232.4,75.1 232.8,74.4 233.2,74 233.6,74.6 234,74.5 234.4,74.8 234.8,75.1 235.2,75.4 235.5,76 235.9,76.6 236.3,75.9 236.7,75.9 237.1,75.8 237.5,75.4 237.9,76.3 238.3,76.6 238.7,76.4 239.1,76.2 239.5,76.4 239.9,76 240.3,76 240.7,76.7 241.1,77.1 241.5,76.3 241.8,75.8 242.2,76.3 242.6,75.3 243,74.8 243.4,74 243.8,74.2 244.2,74.1 244.6,74.3 245,72.9 245.4,73 245.8,72.2 246.2,72.5 246.6,72.3 247,72.8 247.4,72.6 247.8,71.8 248.1,72.1 248.5,71.4 248.9,71.2 249.3,71.5 249.7,71.6 250.1,71.5 250.5,71.2 250.9,71.2 251.3,71.8 251.7,72.1 252.1,72.9 252.5,73.6 252.9,73.7 253.3,73.4 253.7,74.2 254.1,74.3 254.4,74.6 254.8,75.1 255.2,74.4 255.6,74.1 256,72.9 256.4,72.9 256.8,72.2 257.2,71.9 257.6,71.8 258,71 258.4,71.4 258.8,71.5 259.2,71.9 259.6,72.7 260,73 260.4,73.3 260.7,73.2 261.1,73.8 261.5,73.6 261.9,74.1 262.3,73.5 262.7,73.7 263.1,74.1 263.5,74.1 263.9,73.8 264.3,74.5 264.7,75 265.1,75.3 265.5,75.7 265.9,75.5 266.3,75.8 266.7,76 267,75.7 267.4,75.9 267.8,75.8 268.2,76.1 268.6,76.5 269,77 269.4,76.2 269.8,76.3 270.2,76.4 270.6,76.5 271,76.6 271.4,76.8 271.8,76.4 272.2,77.3 272.6,78.5 273,79.5 273.3,78.6 273.7,76.9 274.1,75.2 274.5,74.2 274.9,73.2 275.3,73 275.7,72.6 276.1,73.7 276.5,73.4 276.9,73.8 277.3,73.5 277.7,74 278.1,74.1 278.5,74.8 278.9,75.1 279.3,74.7 279.6,74.7 280,75.1 280.4,75 280.8,75.2 281.2,74.8 281.6,74.3 282,73.8 282.4,73.4 282.8,73.4 283.2,73.3 283.6,73.6 284,73.6 284.4,73.6 284.8,74.3 285.2,74.9 285.6,74.7 285.9,74.6 286.3,74.5 286.7,74.2 287.1,74.4 287.5,74.4 287.9,74.7 288.3,74.9 288.7,75.4 289.1,75.9 289.5,76.5 289.9,76.8 290.3,76.8 290.7,76.5 291.1,76.3 291.5,76.5 291.9,76.2 292.2,76.4 292.6,76.2 293,76 293.4,76.3 293.8,75.9 294.2,75.5 294.6,75.3 295,75.2 295.4,75.1 295.8,75.2 296.2,75 296.6,75 297,74.7 297.4,74.9 297.8,74.6 298.2,74.3 298.5,74.2 298.9,74.2 299.3,73.9 299.7,74.3 300.1,73.9 300.5,73.7 300.9,73.5 301.3,73.3 301.7,73.5 302.1,73.5 302.5,73.2 302.9,73 303.3,72.9 303.7,73.4 304.1,73.1 304.5,72.6 304.8,72.4 305.2,72.5 305.6,73.2 306,72.8 306.4,72.9 306.8,73.9 307.2,73.5 307.6,74 308,74.2 308.4,74 308.8,73 309.2,72.9 309.6,72.6 310,71.9 310.4,71.3 310.8,71.5 311.1,71.6 311.5,72.1 311.9,72.2 312.3,71.7 312.7,71.2 313.1,71 313.5,70.3 313.9,70.7 314.3,71 314.7,70.9 315.1,71 315.5,70.9 315.9,71.3 316.3,72 316.7,72.1 317.1,72.9 317.4,73.8 317.8,73.4 318.2,73.5 318.6,73.5 319,74.4 319.4,74.5 319.8,74.7 320.2,74.9 320.6,75.7 321,75.4 321.4,74.8 321.8,74.6 322.2,74.8 322.6,74.8 323,74.5 323.4,75.7 323.7,75.6 324.1,75.2 324.5,74.9 324.9,74.4 325.3,74.3 325.7,74.5 326.1,74.8 326.5,74.8 326.9,75.2 327.3,75.4 327.7,75.3 328.1,74.9 328.5,75.3 328.9,75.6 329.3,75.7 329.7,75.5 330,75.7 330.4,75.4 330.8,76 331.2,76.2 331.6,76.3 332,76.1 332.4,75.8 332.8,76.5 333.2,76.8 333.6,76.6 334,76.8 334.4,77.2 334.8,76.7 335.2,76.4 335.6,76.1 336,76.3 336.3,75.8 336.7,75.9 337.1,75.4 337.5,75.8 337.9,76 338.3,75.7 338.7,75.8 339.1,75.3 339.5,75.1 339.9,75.4 340.3,75.2 340.7,75.1 341.1,74.6 341.5,74.8 341.9,74.8 342.3,74.2 342.6,73.3 343,72.7 343.4,73.1 343.8,73.2 344.2,72.7 344.6,73 345,73.5 345.4,73.5 345.8,73.4 346.2,73.8 346.6,74.4 347,74.8 347.4,74.2 347.8,74.3 348.2,74.2 348.6,74 348.9,73.6 349.3,73.8 349.7,73.6 350.1,73.9 350.5,73.8 350.9,74 351.3,73.2 351.7,73.1 352.1,73.4 352.5,73.8 352.9,74.2 353.3,74.1 353.7,75.2 354.1,75.7 354.5,76 354.9,75.2 355.2,75.5 355.6,76.2 356,76.7 356.4,76.6 356.8,77.6 357.2,78.1 357.6,77.6 358,77.4 358.4,77.2 358.8,77.4 359.2,76.6 359.6,76.1 360,76.1 360.4,75.9 360.8,76.8 361.2,76.3 361.5,76.2 361.9,75.8 362.3,75.4 362.7,75.5 363.1,76.1 363.5,75.6 363.9,75.6 364.3,75.3 364.7,75.1 365.1,74.8 365.5,75.2 365.9,74.2 366.3,73.7 366.7,73 367.1,72.1 367.5,72.1 367.8,72.7 368.2,72.7 368.6,72.7 369,72.4 369.4,71.7 369.8,71.9 370.2,71 370.6,71 371,70.2 371.4,69.6 371.8,69.2 372.2,69 372.6,69.4 373,69.9 373.4,70.7 373.8,70.7 374.1,70.1 374.5,69.7 374.9,69.7 375.3,70 375.7,70.7 376.1,70.4 376.5,70.9 376.9,71.2 377.3,71.6 377.7,71.8 378.1,72.2 378.5,72.5 378.9,73.3 379.3,73.5 379.7,72.6 380.1,73.1 380.4,73.6 380.8,73.6 381.2,73.7 381.6,74.6 382,75 382.4,74.8 382.8,75.1 383.2,75.4 383.6,75.1 384,76 384.4,76.4 384.8,77 385.2,76.4 385.6,77.4 386,77.5 386.4,77.5 386.7,76.9 387.1,76.5 387.5,75.9 387.9,76.7 388.3,76.2 388.7,76.2 389.1,76.4 389.5,75.9 389.9,76.2 390.3,77.1 390.7,77.3 391.1,78 391.5,78.2 391.9,78.1 392.3,78.1 392.7,77.8 393,78.3 393.4,79 393.8,79.3 394.2,79.5 394.6,79.8 395,79.4 395.4,79.6 395.8,80.2 396.2,79.6 396.6,79.5 397,79.4 397.4,79.2 397.8,79 398.2,79 398.6,78.5 399,78.5 399.3,78.5 399.7,78.5 400.1,79.2 400.5,79.7 400.9,80.2 401.3,80.5 401.7,81.4 402.1,81.1 402.5,80.8 402.9,80.9 403.3,81.1 403.7,80.8 404.1,80.3 404.5,80.2 404.9,79.7 405.3,79.5 405.6,78.9 406,78.9 406.4,78.5 406.8,77.8 407.2,76.5 407.6,77 408,77.1 408.4,77.2 408.8,76.5 409.2,76.7 409.6,76.4 410,75.9 410.4,75.8 410.8,75.6 411.2,75.2 411.6,75.5 411.9,75.3 412.3,75.6 412.7,75.9 413.1,76.5 413.5,77.7 413.9,78.3 414.3,78.2 414.7,78.3 415.1,78.7 415.5,79.3 415.9,79.4 416.3,79.9 416.7,80.5 417.1,81 417.5,80.8 417.9,81.1 418.2,80.9 418.6,81.2 419,81 419.4,81.2 419.8,81.3 420.2,80.6 420.6,80.6 421,81 421.4,81.1 421.8,81.1 422.2,80.8 422.6,81 423,81.4 423.4,81.3 423.8,81.1 424.2,80.9 424.5,80.4 424.9,80.3 425.3,80.1 425.7,80.4 426.1,80.1 426.5,79.5 426.9,79.4 427.3,79.5 427.7,79.5 428.1,78.9 428.5,78.6 428.9,77.9 429.3,77 429.7,76.1 430.1,75.7 430.5,75.9 430.8,76.3 431.2,76.6 431.6,76.9 432,77.5 432.4,77.6 432.8,77.6 433.2,78.2 433.6,78.6 434,78.7 434.4,79.4 434.8,79.6 435.2,80.2 435.6,80.2 436,79.9 436.4,79.6 436.8,80.1 437.1,80.2 437.5,80.4 437.9,80.6 438.3,80.4 438.7,81 439.1,80.8 439.5,81 439.9,80.8 440.3,80.9 440.7,81.1 441.1,81 441.5,80.8 441.9,80.8 442.3,80.7 442.7,80.9 443.1,81.4 443.4,80.9 443.8,80.7 444.2,80.6 444.6,80.6 445,80.3 445.4,80.5 445.8,80.8 446.2,80.8 446.6,80.5 447,81 447.4,80.7 447.8,80.9 448.2,80.7 448.6,79.1 449,78 449.4,77.4 449.7,76.3 450.1,74.7 450.5,73.1 450.9,72.3 451.3,71.1 451.7,69.8 452.1,69.8 452.5,70.7 452.9,71.9 453.3,73.2 453.7,74.4 454.1,75.5 454.5,77.1 454.9,78.9 455.3,78.5 455.7,76.3 456,74.8 456.4,74 456.8,73.1 457.2,73.6 457.6,74.4 458,76.5 458.4,77.8 458.8,79.5 459.2,79.7 459.6,79.5 460,80.6 460.4,81 460.8,80.8 461.2,80.7 461.6,80.6 462,80.8 462.3,80.8 462.7,80.8 463.1,80.9 463.5,80.5 463.9,81.4 464.3,80.9 464.7,81.1 465.1,80.5 465.5,80.6 465.9,80.8 466.3,80.5 466.7,80.8 467.1,81 467.5,81.3 467.9,81 468.3,80.5 468.6,79.9 469,80 469.4,79.5 469.8,79.6 470.2,79.7 470.6,79.6 471,79.4 471.4,79.8 471.8,80 472.2,80.2 472.6,80.2 473,80.6 473.4,80.2 473.8,80.5 474.2,80.3 474.6,80.7 474.9,80.6 475.3,80.5 475.7,80.6 476.1,79.9 476.5,80 476.9,79.6 477.3,79.5 477.7,80 478.1,80.2 478.5,80.1 478.9,80.1 479.3,80.2 479.7,80.3 480.1,80.9 480.5,80.8 480.9,81.5 481.2,81.1 481.6,81.2 482,81.3 482.4,81.2 482.8,81 483.2,81.4 483.6,81.9 484,82 484.4,82.4 484.8,82.3 485.2,81.3 485.6,81.5 486,81 486.4,81.4 486.8,81.1 487.2,81 487.5,80.9 487.9,80.5 488.3,79.8 488.7,79.9 489.1,80 489.5,80.4 489.9,80.1 490.3,80.3 490.7,80.2 491.1,80.4 491.5,79.9 491.9,80.9 492.3,81.1 492.7,80.8 493.1,81.1 493.5,81.4 493.8,81.5 494.2,81.9 494.6,81.5 495,80.4 495.4,80 495.8,80.5 496.2,80.7 496.6,80.7 497,80.1 497.4,80.3 497.8,80.3 498.2,79.7 498.6,79.2 499,79.2 499.4,79.4 499.8,79.6 500.1,79.4 500.5,79.7 500.9,78.8 501.3,78.6 501.7,78.1 502.1,77.3 502.5,77.2 502.9,78 503.3,77.9 503.7,77.9 504.1,78.5 504.5,79.1 504.9,79.3 505.3,80.1 505.7,79.5 506.1,80.5 506.4,80.9 506.8,80.8 507.2,80.9 507.6,80.8 508,80.7 508.4,79.9 508.8,78.7 509.2,78.7 509.6,77.8 510,77.1 510.4,76.2 510.8,75.3 511.2,75 511.6,74.4 512,73.2 512.4,72.1 512.7,71.4 513.1,69.6 513.5,67.8 513.9,68 514.3,67.7 514.7,66.5 515.1,66.4 515.5,66.6 515.9,66.9 516.3,67.8 516.7,68.6 517.1,69.6 517.5,69.9 517.9,70.8 518.3,71.9 518.7,73.4 519,74.3 519.4,75.6 519.8,76.5 520.2,76.7 520.6,76.9 521,77.1 521.4,77.4 521.8,77.9 522.2,78.3 522.6,78.9 523,78.9 523.4,79.7 523.8,79.5 524.2,79.9 524.6,80.6 525,81.1 525.3,81.6 525.7,81.7 526.1,82.1 526.5,81.5 526.9,81.8 527.3,82.5 527.7,82.4 528.1,82.8 528.5,82.4 528.9,81.7 529.3,81.4 529.7,81.8 530.1,81.9 530.5,81.1 530.9,81 531.3,81.1 531.6,80.8 532,80.1 532.4,80 532.8,80.3 533.2,80.5 533.6,80.5 534,81 534.4,81.4 534.8,81.4 535.2,81.7 535.6,81.6 536,81.5 536.4,80.7 536.8,81.1 537.2,81.2 537.6,81.3 537.9,81.2 538.3,80.9 538.7,81.2 539.1,81.4 539.5,81.9 539.9,82 540.3,81.7 540.7,81.7 541.1,82.1 541.5,82.2 541.9,82.1 542.3,82 542.7,82.3 543.1,82.4 543.5,82.8 543.9,82.8 544.2,82 544.6,82.5 545,82.3 545.4,82 545.8,81.9 546.2,81.9 546.6,81.7 547,81.5 547.4,81.3 547.8,81.6 548.2,81.3 548.6,81.2 549,81 549.4,80.6 549.8,80.1 550.2,79.7 550.5,79.7 550.9,79.3 551.3,79.1 551.7,79 552.1,78.9 552.5,79.3 552.9,79.7 553.3,79.7 553.7,80.3 554.1,80.3 554.5,80.6 554.9,80.8 555.3,81.2 555.7,81.1 556.1,80.9 556.5,80.4 556.8,80.1 557.2,80.1 557.6,80.1 558,80.3 558.4,80 558.8,80 559.2,79.9 559.6,79.8 560,80.2 560.4,81 560.8,81.5 561.2,81.8 561.6,81.8 562,81.1 562.4,80.9 562.8,81.1 563.1,80.7 563.5,80.2 563.9,80.2 564.3,80.3 564.7,80.2 565.1,79.9 565.5,79.7 565.9,79.3 566.3,79.1 566.7,78.9 567.1,78.7 567.5,78.7 567.9,79.3 568.3,79.4 568.7,79.2 569.1,79.3 569.4,79 569.8,79.1 570.2,79.3 570.6,78.7 571,78.4 571.4,78.3 571.8,78 572.2,77.7 572.6,77.6 573,78.2 573.4,78.2 573.8,78 574.2,78 574.6,77.6 575,77 575.4,77.2 575.7,77.6 576.1,77.1 576.5,77.4 576.9,77.8 577.3,77.8 577.7,77.7 578.1,78 578.5,77.8 578.9,78 579.3,78.3 579.7,78.2 580.1,78.1 580.5,78.3 580.9,78.3 581.3,78.4 581.7,77.8 582,78.2 582.4,78.3 582.8,78.7 583.2,79.1 583.6,79.3 584,79.5 584.4,79.6 584.8,80 585.2,80.4 585.6,80.4 586,80.2 586.4,80.1 586.8,79.7 587.2,79.7 587.6,79.5 588,79.2 588.3,79.2 588.7,79.6 589.1,79.7 589.5,79.9 589.9,79.2 590.3,79.5 590.7,79.3 591.1,79.4 591.5,79.2 591.9,79.3 592.3,79.6 592.7,80 593.1,80.1 593.5,80.2 593.9,80.4 594.3,80.4 594.6,80.1 595,80.6 595.4,80.5 595.8,80.7 596.2,80.6 596.6,80.5 597,80.5 597.4,80.5 597.8,81 598.2,80.9 598.6,81.2 599,81.2 599.4,81.3 599.8,81.9 600.2,82.1 600.6,82 600.9,81.8 601.3,81.7 601.7,81.5 602.1,81.7 602.5,81.3 602.9,80.8 603.3,80.8 603.7,80.8 604.1,81.1 604.5,80.7 604.9,80.1 605.3,79.9 605.7,79.6 606.1,79.5 606.5,79.7 606.9,79.3 607.2,79.5 607.6,79.4 608,79.2 608.4,79 608.8,78.9 609.2,78.9 609.6,79.1 610,79.3 610.4,79.2 610.8,79.3 611.2,79.4 611.6,79.5 612,79.4 612.4,79.5 612.8,79.3 613.2,79.2 613.5,78.6 613.9,78.1 614.3,77.3 614.7,77.5 615.1,77.4 615.5,77.2 615.9,77.3 616.3,77.4 616.7,77 617.1,77.3 617.5,77.7 617.9,78.1 618.3,77.9 618.7,77.8 619.1,78.2 619.5,78.3 619.8,78 620.2,77.7 620.6,77.9 621,77.6 621.4,77.4 621.8,78 622.2,78.1 622.6,78.1 623,78.4 623.4,79.2 623.8,79.3 624.2,79.1 624.6,78.8 625,79.8 625.4,79 625.8,79.8 626.1,79.6 626.5,79.4 626.9,79.3 627.3,79.5 627.7,80.2 628.1,80.1 628.5,80.4 628.9,81.2 629.3,80.2 629.7,80.1 630.1,79.8 630.5,80.3 630.9,79.9 631.3,79.6 631.7,79.4 632.1,79.8 632.4,80.4 632.8,80.5 633.2,81.2 633.6,81.6 634,81.2 634.4,81.3 634.8,81.2 635.2,80.9 635.6,80 636,79.6 636.4,79.6 636.8,79.1 637.2,79.4 637.6,79.4 638,78.9 638.4,79.2 638.7,79 639.1,79.2 639.5,78.8 639.9,78.1 640.3,78.2 640.7,77.9 641.1,78.1 641.5,78.6 641.9,79.1 642.3,78.8 642.7,78.4 643.1,78.7 643.5,79.3 643.9,79.5 644.3,79.7 644.7,79.4 645,79.2 645.4,79.1 645.8,78.9 646.2,79 646.6,79 647,79.3 647.4,79.1 647.8,79.2 649,79.2"/>
<polyline fill="none" stroke="#1a1008" stroke-width="1.1" stroke-linejoin="round" points="81,85 81.2,85 81.6,85.3 82,85.2 82.4,85 82.8,85.5 83.2,85.6 83.6,85.7 84,85.3 84.3,84.6 84.7,84.5 85.1,84.8 85.5,84.4 85.9,85.1 86.3,84.6 86.7,84.9 87.1,85.9 87.5,84.8 87.9,84.3 88.3,84.9 88.7,84.9 89.1,85 89.5,85 89.9,85.5 90.3,85.6 90.6,85.3 91,85.2 91.4,84.7 91.8,84.8 92.2,84.1 92.6,84.6 93,84.7 93.4,85.4 93.8,85.8 94.2,85.1 94.6,85.4 95,85.2 95.4,85.2 95.8,85.5 96.2,85.5 96.6,85.5 96.9,85.6 97.3,85.2 97.7,84.9 98.1,85.2 98.5,85.4 98.9,85.3 99.3,85.2 99.7,84.9 100.1,84.1 100.5,84.1 100.9,84.4 101.3,84.7 101.7,85.1 102.1,85.4 102.5,85.6 102.9,85.6 103.2,85.6 103.6,85.2 104,85.3 104.4,85.3 104.8,85.6 105.2,85 105.6,84.9 106,84.5 106.4,84.5 106.8,84.3 107.2,84.8 107.6,84.8 108,84.2 108.4,85.1 108.8,84.9 109.2,84.6 109.5,84.9 109.9,85 110.3,84.9 110.7,85.5 111.1,85.6 111.5,86.2 111.9,86.6 112.3,86.8 112.7,86.8 113.1,86.7 113.5,86.6 113.9,87.2 114.3,86.4 114.7,86.1 115.1,86.1 115.5,86.6 115.8,86.8 116.2,86.7 116.6,86.8 117,87.5 117.4,87.3 117.8,86.3 118.2,87.4 118.6,87.2 119,87.3 119.4,87.6 119.8,87.3 120.2,88.1 120.6,88.2 121,87.8 121.4,88.2 121.8,88.6 122.1,88.7 122.5,89.1 122.9,88.6 123.3,89.2 123.7,89 124.1,89.7 124.5,89.3 124.9,89.3 125.3,90.3 125.7,89.9 126.1,90 126.5,89.8 126.9,89 127.3,89.3 127.7,89.5 128.1,88.7 128.4,88.5 128.8,87.7 129.2,87.6 129.6,87.9 130,87.7 130.4,87 130.8,86.6 131.2,86.6 131.6,86.5 132,86.4 132.4,86.5 132.8,85.6 133.2,85.7 133.6,86.2 134,86.4 134.4,86.1 134.7,85.9 135.1,86.1 135.5,86.5 135.9,86.4 136.3,87.1 136.7,87.4 137.1,86.8 137.5,86.9 137.9,86.7 138.3,86.2 138.7,86.1 139.1,86.3 139.5,85.6 139.9,85.7 140.3,86.2 140.7,86.2 141,86.4 141.4,87 141.8,87.1 142.2,87.3 142.6,88.2 143,88.1 143.4,88.2 143.8,88.3 144.2,88.8 144.6,88.8 145,88.7 145.4,88.5 145.8,88.8 146.2,88.3 146.6,88.7 147,88.6 147.3,88 147.7,88.3 148.1,88.4 148.5,87.9 148.9,88.1 149.3,88.2 149.7,88.1 150.1,87.7 150.5,88.6 150.9,88.6 151.3,88.7 151.7,88.8 152.1,88.7 152.5,88.6 152.9,88.1 153.3,88.1 153.6,87.8 154,87.4 154.4,87.5 154.8,87.3 155.2,86.5 155.6,86.5 156,86.8 156.4,86.7 156.8,87 157.2,86.7 157.6,86.3 158,86.6 158.4,86.6 158.8,86.1 159.2,86.2 159.6,86.1 159.9,86.4 160.3,86.5 160.7,86.5 161.1,85.7 161.5,85.9 161.9,86.1 162.3,86.2 162.7,86.1 163.1,85.8 163.5,85.8 163.9,85.1 164.3,85.2 164.7,84.9 165.1,85 165.5,85 165.9,85.7 166.2,85.7 166.6,85.7 167,85.7 167.4,86.3 167.8,85.8 168.2,85.8 168.6,85.8 169,85.8 169.4,85.7 169.8,85.5 170.2,85.8 170.6,86 171,85.7 171.4,85.5 171.8,85.5 172.2,85.6 172.5,85.8 172.9,85.6 173.3,85.1 173.7,85.4 174.1,84.9 174.5,84.6 174.9,84.9 175.3,84.6 175.7,85.2 176.1,85.6 176.5,85.8 176.9,85.5 177.3,85.4 177.7,85.5 178.1,85.4 178.5,86 178.8,85.6 179.2,86 179.6,86.1 180,86 180.4,86.3 180.8,86.6 181.2,86.7 181.6,86.4 182,86.1 182.4,85.9 182.8,86.3 183.2,86.6 183.6,86.8 184,86.5 184.4,87.2 184.8,86.6 185.1,86.8 185.5,87.1 185.9,86.9 186.3,86.4 186.7,86.2 187.1,85.9 187.5,85.8 187.9,85.5 188.3,85.1 188.7,85.3 189.1,84.9 189.5,85 189.9,85 190.3,85.4 190.7,85.5 191.1,85.2 191.4,85.6 191.8,85.4 192.2,85.3 192.6,85.2 193,85.9 193.4,85.8 193.8,85.5 194.2,85.7 194.6,85.6 195,86.2 195.4,85.8 195.8,85.9 196.2,85.6 196.6,86.2 197,85.9 197.4,85.9 197.7,85.7 198.1,86.1 198.5,86.2 198.9,85.5 199.3,85.9 199.7,86.2 200.1,86.4 200.5,86.9 200.9,86.5 201.3,86.2 201.7,86.8 202.1,87.7 202.5,87.3 202.9,87.2 203.3,87.2 203.7,87.2 204,88 204.4,88.4 204.8,89.1 205.2,90 205.6,90 206,90.9 206.4,90.4 206.8,91.2 207.2,92.2 207.6,92.5 208,92.4 208.4,92.1 208.8,92.4 209.2,91.8 209.6,90.7 210,90.6 210.3,91.1 210.7,90.7 211.1,90.8 211.5,91.5 211.9,91.6 212.3,91.9 212.7,91.7 213.1,91.7 213.5,91.4 213.9,91.5 214.3,92.7 214.7,92.7 215.1,92.5 215.5,92.7 215.9,92.6 216.3,93.4 216.6,94.3 217,94 217.4,94.5 217.8,95.3 218.2,94.3 218.6,94.4 219,94.2 219.4,94.5 219.8,94.7 220.2,94.7 220.6,94.3 221,93.6 221.4,95.5 221.8,95.8 222.2,97.3 222.6,98.7 222.9,99 223.3,99.9 223.7,101.8 224.1,101.3 224.5,102.9 224.9,103.5 225.3,104.3 225.7,104.2 226.1,105.6 226.5,105.3 226.9,106.4 227.3,105.9 227.7,107 228.1,107.6 228.5,106.3 228.9,106.7 229.2,107 229.6,105.4 230,105.7 230.4,106.9 230.8,106.4 231.2,107.7 231.6,106.6 232,105.8 232.4,106.7 232.8,107.4 233.2,107.2 233.6,107.2 234,108 234.4,107.4 234.8,109 235.2,108.8 235.5,108.5 235.9,108.1 236.3,107.3 236.7,107.9 237.1,106.9 237.5,106.7 237.9,106.9 238.3,107.4 238.7,107.5 239.1,106.4 239.5,106.5 239.9,105.7 240.3,104.3 240.7,103.3 241.1,102.2 241.5,102.4 241.8,103 242.2,101.8 242.6,101.4 243,100.4 243.4,100.3 243.8,99.3 244.2,98.9 244.6,98.7 245,98.8 245.4,98.9 245.8,99 246.2,99.1 246.6,98.5 247,99.2 247.4,98.1 247.8,98.7 248.1,98.3 248.5,98.8 248.9,99.3 249.3,97.9 249.7,98.7 250.1,100.1 250.5,101 250.9,101.4 251.3,99.9 251.7,100.5 252.1,100.3 252.5,101.1 252.9,100.4 253.3,99.6 253.7,98.2 254.1,98.7 254.4,98.1 254.8,97.8 255.2,98.3 255.6,98.1 256,97.9 256.4,99.1 256.8,98 257.2,97.1 257.6,97.1 258,97.6 258.4,96.1 258.8,95.8 259.2,95 259.6,94.2 260,94.8 260.4,94.3 260.7,94.6 261.1,94.7 261.5,94.7 261.9,94.7 262.3,94 262.7,94.1 263.1,94.3 263.5,94.5 263.9,94.3 264.3,94.8 264.7,94.9 265.1,94.7 265.5,94.7 265.9,94.5 266.3,94.5 266.7,93.1 267,92.5 267.4,92.4 267.8,92.6 268.2,91.6 268.6,91.8 269,92.1 269.4,91.9 269.8,91.6 270.2,90.8 270.6,90.9 271,89.9 271.4,90.4 271.8,90 272.2,90.7 272.6,90.6 273,91.7 273.3,91.6 273.7,90.9 274.1,90.1 274.5,90.6 274.9,90.5 275.3,90.8 275.7,90.2 276.1,89.9 276.5,90.1 276.9,90.4 277.3,90.6 277.7,90.9 278.1,90.5 278.5,89.8 278.9,91.1 279.3,91.1 279.6,91.3 280,91 280.4,91.6 280.8,91.6 281.2,92.1 281.6,91.6 282,91.5 282.4,91.7 282.8,91.6 283.2,91.8 283.6,92.7 284,92.2 284.4,92.1 284.8,92.3 285.2,91.8 285.6,91.2 285.9,92 286.3,92.4 286.7,91.4 287.1,90.8 287.5,91.4 287.9,92.1 288.3,92.3 288.7,92.3 289.1,92.8 289.5,92.4 289.9,92.6 290.3,92.8 290.7,91.9 291.1,92.1 291.5,91.8 291.9,91.3 292.2,90.9 292.6,91.1 293,91.1 293.4,91.4 293.8,90.5 294.2,90.3 294.6,91 295,90.9 295.4,90.7 295.8,90.6 296.2,90 296.6,89.8 297,90.6 297.4,91 297.8,91.9 298.2,91.8 298.5,91.8 298.9,90.5 299.3,91 299.7,92.5 300.1,93 300.5,93.3 300.9,94.4 301.3,95.2 301.7,95.6 302.1,95.5 302.5,95.1 302.9,95.2 303.3,94.2 303.7,94.2 304.1,94.1 304.5,94.5 304.8,94.3 305.2,94 305.6,95.7 306,96.3 306.4,96.4 306.8,97.5 307.2,98.1 307.6,99.8 308,99.5 308.4,97.2 308.8,95.8 309.2,95.5 309.6,94.2 310,91.8 310.4,93 310.8,95.8 311.1,97.8 311.5,101.4 311.9,104.4 312.3,106.5 312.7,107.9 313.1,111.2 313.5,111.8 313.9,112.4 314.3,113.4 314.7,113.4 315.1,111.4 315.5,110.6 315.9,111.2 316.3,108.7 316.7,107.4 317.1,106.7 317.4,103.9 317.8,103.4 318.2,103.6 318.6,103.2 319,103.6 319.4,103.5 319.8,102.5 320.2,102.4 320.6,102 321,100.2 321.4,99.4 321.8,98.8 322.2,98.4 322.6,98.1 323,97.1 323.4,97.2 323.7,96 324.1,96.8 324.5,96.8 324.9,97.4 325.3,97 325.7,96.1 326.1,94.8 326.5,94.7 326.9,94 327.3,93.6 327.7,93.2 328.1,93.1 328.5,93 328.9,93.9 329.3,93.7 329.7,93.6 330,94 330.4,94.5 330.8,95.1 331.2,93.9 331.6,94.8 332,94 332.4,94.1 332.8,94.7 333.2,95.6 333.6,95.2 334,94.6 334.4,95.6 334.8,96.2 335.2,95.8 335.6,96.1 336,95.4 336.3,96.3 336.7,96.4 337.1,97.5 337.5,96.4 337.9,97.3 338.3,98.1 338.7,97 339.1,96.1 339.5,94 339.9,93.6 340.3,93.8 340.7,94.1 341.1,93.8 341.5,94.8 341.9,94.9 342.3,95.5 342.6,96.6 343,97.2 343.4,97.2 343.8,97.8 344.2,96.9 344.6,97.8 345,96.8 345.4,96.3 345.8,96.5 346.2,97.1 346.6,97.3 347,97 347.4,96.7 347.8,96.7 348.2,96.3 348.6,97.1 348.9,97.1 349.3,98.3 349.7,97.7 350.1,97.6 350.5,98 350.9,97.2 351.3,97 351.7,99.2 352.1,98.9 352.5,99.7 352.9,98.6 353.3,96.9 353.7,97.7 354.1,97.9 354.5,98.1 354.9,97.9 355.2,97.5 355.6,96.8 356,97.7 356.4,96.8 356.8,97.5 357.2,97.4 357.6,96.7 358,96.5 358.4,97.2 358.8,97.5 359.2,97.6 359.6,97.4 360,96.6 360.4,100.4 360.8,103.1 361.2,105.7 361.5,108.4 361.9,111.3 362.3,108 362.7,104.9 363.1,101.5 363.5,98.4 363.9,94.5 364.3,95.2 364.7,94.2 365.1,94.2 365.5,94.1 365.9,94.4 366.3,94.9 366.7,94.4 367.1,94.1 367.5,93.3 367.8,93.8 368.2,92.5 368.6,92.2 369,92.2 369.4,92.5 369.8,92.6 370.2,92.9 370.6,92.7 371,92.2 371.4,91.9 371.8,92.3 372.2,92.3 372.6,93.3 373,93.6 373.4,92.9 373.8,93.4 374.1,94.5 374.5,96.5 374.9,97.9 375.3,99.4 375.7,99 376.1,100 376.5,100.5 376.9,101.7 377.3,102.2 377.7,101.9 378.1,103.4 378.5,103.8 378.9,104.5 379.3,103.8 379.7,104.8 380.1,105.7 380.4,106.6 380.8,107.2 381.2,106.3 381.6,104.1 382,105.4 382.4,104.9 382.8,105.2 383.2,106.5 383.6,106.8 384,107.1 384.4,107.8 384.8,106.3 385.2,108 385.6,107 386,106.3 386.4,106.4 386.7,105.7 387.1,104.3 387.5,103.2 387.9,101.8 388.3,100.3 388.7,100.7 389.1,98.7 389.5,97.7 389.9,97.9 390.3,98 390.7,99.8 391.1,100.3 391.5,101.2 391.9,101.7 392.3,101.5 392.7,102.7 393,103.3 393.4,105.2 393.8,105.5 394.2,105 394.6,104.6 395,104.1 395.4,101.9 395.8,102.2 396.2,102 396.6,101.6 397,99.9 397.4,98.3 397.8,98.2 398.2,98.5 398.6,98.5 399,97.6 399.3,97.9 399.7,96.8 400.1,95.9 400.5,95.9 400.9,95.6 401.3,95.6 401.7,95.5 402.1,96.7 402.5,96.5 402.9,97.2 403.3,98 403.7,98.2 404.1,98.6 404.5,99.3 404.9,100.3 405.3,101.4 405.6,101.2 406,101.1 406.4,102.1 406.8,102.8 407.2,104.8 407.6,106.3 408,107.3 408.4,106.4 408.8,105.1 409.2,102.9 409.6,101 410,99.6 410.4,98.8 410.8,98.7 411.2,97.7 411.6,97.7 411.9,97.8 412.3,97.5 412.7,97.5 413.1,97.7 413.5,97.7 413.9,97 414.3,96.2 414.7,95.1 415.1,95.7 415.5,95.3 415.9,94.8 416.3,94.1 416.7,93.7 417.1,93.3 417.5,93 417.9,93 418.2,93.6 418.6,93 419,92.8 419.4,93.3 419.8,93.1 420.2,93.5 420.6,92.8 421,92.8 421.4,93 421.8,92.9 422.2,92.9 422.6,92.5 423,92.1 423.4,91.9 423.8,91.9 424.2,93.1 424.5,92.7 424.9,93.3 425.3,92.9 425.7,92.3 426.1,92.3 426.5,92.6 426.9,92.7 427.3,92.9 427.7,93.2 428.1,93.4 428.5,93.4 428.9,92.5 429.3,92.3 429.7,91.6 430.1,91.7 430.5,91.5 430.8,91.4 431.2,91 431.6,90.6 432,90.5 432.4,91.2 432.8,91.8 433.2,91.2 433.6,91.8 434,92.2 434.4,91.9 434.8,91.9 435.2,92.2 435.6,92.9 436,92.3 436.4,92.3 436.8,92.2 437.1,92.3 437.5,92.7 437.9,92.9 438.3,92.3 438.7,91.8 439.1,91.6 439.5,91.7 439.9,91.8 440.3,91.6 440.7,91.9 441.1,91.3 441.5,90.8 441.9,89.8 442.3,89.8 442.7,90.4 443.1,90.8 443.4,92.1 443.8,91.9 444.2,91.7 444.6,91.1 445,90.8 445.4,90.8 445.8,91 446.2,91 446.6,90.8 447,91.6 447.4,92 447.8,92.6 448.2,93.5 448.6,96.4 449,99.6 449.4,101.3 449.7,101.5 450.1,102 450.5,102.2 450.9,102.6 451.3,101.1 451.7,100.1 452.1,98.1 452.5,96.8 452.9,95.9 453.3,96.3 453.7,97.3 454.1,97.6 454.5,98.7 454.9,99.3 455.3,100 455.7,101.1 456,100.4 456.4,101.3 456.8,100.8 457.2,100.6 457.6,102 458,102.4 458.4,102.1 458.8,102 459.2,102.1 459.6,101 460,100.7 460.4,100.1 460.8,100.1 461.2,99.6 461.6,99.8 462,99.5 462.3,99.3 462.7,99.5 463.1,100.1 463.5,100.9 463.9,100.9 464.3,100.8 464.7,101.2 465.1,101.9 465.5,101.8 465.9,100.6 466.3,101.6 466.7,101.9 467.1,102.3 467.5,104.5 467.9,104.4 468.3,104.8 468.6,103.7 469,103.9 469.4,104.4 469.8,104.4 470.2,104.1 470.6,104.4 471,104.3 471.4,104.8 471.8,104.3 472.2,103.2 472.6,101.7 473,101.3 473.4,101.3 473.8,100.6 474.2,99.9 474.6,98.7 474.9,98 475.3,97.9 475.7,97.4 476.1,96.9 476.5,96.2 476.9,95.5 477.3,96.2 477.7,97.7 478.1,98.1 478.5,99.2 478.9,99.1 479.3,99.2 479.7,100.2 480.1,99.8 480.5,99.4 480.9,99.6 481.2,99 481.6,98.5 482,99.9 482.4,99.8 482.8,100.1 483.2,100.4 483.6,100.4 484,101.4 484.4,102.1 484.8,102.9 485.2,103.5 485.6,103.5 486,104.5 486.4,105 486.8,104.5 487.2,104.4 487.5,103.8 487.9,104.7 488.3,104.6 488.7,104.3 489.1,103.7 489.5,103.6 489.9,102.5 490.3,102.3 490.7,102 491.1,101.8 491.5,101.2 491.9,101.4 492.3,100.5 492.7,100.3 493.1,100.2 493.5,100.2 493.8,99.8 494.2,99.2 494.6,98.8 495,98.8 495.4,98.5 495.8,98.6 496.2,98.1 496.6,98.3 497,99.6 497.4,98.6 497.8,98.5 498.2,99.1 498.6,98.9 499,99.2 499.4,97.5 499.8,97.1 500.1,97.8 500.5,97 500.9,96.9 501.3,95.5 501.7,96 502.1,96.9 502.5,96.2 502.9,95.8 503.3,96.7 503.7,99 504.1,99.7 504.5,99.8 504.9,102.3 505.3,101.6 505.7,101.7 506.1,99.9 506.4,99.8 506.8,100 507.2,99.3 507.6,99 508,99.4 508.4,99.4 508.8,100.1 509.2,101.6 509.6,100.3 510,100.9 510.4,101.7 510.8,101.6 511.2,102.6 511.6,102.5 512,101.6 512.4,100.8 512.7,99.6 513.1,97.8 513.5,97.5 513.9,96.4 514.3,96.3 514.7,98 515.1,98.3 515.5,99.6 515.9,99.2 516.3,99.5 516.7,100.3 517.1,101.9 517.5,100.9 517.9,100.7 518.3,99.3 518.7,98.7 519,98.5 519.4,97.1 519.8,96.1 520.2,96.9 520.6,97.2 521,98.5 521.4,99.7 521.8,100.6 522.2,101.6 522.6,101.6 523,101.5 523.4,100.4 523.8,99.6 524.2,100.1 524.6,99.3 525,99.7 525.3,99.8 525.7,99.5 526.1,99.6 526.5,98.5 526.9,98.9 527.3,99.9 527.7,99.2 528.1,99.7 528.5,99.9 528.9,101.5 529.3,100.4 529.7,99.8 530.1,99.4 530.5,99.2 530.9,98.7 531.3,99.4 531.6,99.4 532,100.3 532.4,100.9 532.8,100.5 533.2,100.7 533.6,101.9 534,101.8 534.4,101.4 534.8,101.3 535.2,100.4 535.6,100.1 536,100.3 536.4,100.1 536.8,98.3 537.2,98.6 537.6,97.8 537.9,96.9 538.3,96.4 538.7,97 539.1,96.9 539.5,96.7 539.9,96.2 540.3,96.4 540.7,96.8 541.1,96.1 541.5,95.5 541.9,95.4 542.3,95.8 542.7,95.5 543.1,95.5 543.5,95.1 543.9,95.6 544.2,95.4 544.6,95.4 545,95.7 545.4,95.3 545.8,95.1 546.2,95.1 546.6,94.7 547,95.2 547.4,94.9 547.8,94.5 548.2,94.3 548.6,93.8 549,94.4 549.4,94.9 549.8,94.5 550.2,94.2 550.5,93.2 550.9,93.1 551.3,93.7 551.7,93.4 552.1,93.8 552.5,94.4 552.9,93.1 553.3,93.1 553.7,92.9 554.1,92.8 554.5,92.2 554.9,92.3 555.3,92 555.7,92.6 556.1,93.2 556.5,92.4 556.8,91.8 557.2,91.7 557.6,91.7 558,91.7 558.4,92.1 558.8,91.5 559.2,91.5 559.6,91.5 560,91.6 560.4,91.4 560.8,91.4 561.2,91.5 561.6,92.3 562,92.2 562.4,91.6 562.8,92.3 563.1,92.6 563.5,92.5 563.9,92.4 564.3,92.5 564.7,93.6 565.1,93.4 565.5,94 565.9,94.2 566.3,93.8 566.7,93.9 567.1,93.4 567.5,92.1 567.9,92.2 568.3,92.2 568.7,92.8 569.1,93 569.4,93.3 569.8,93.2 570.2,93.4 570.6,93.2 571,92.9 571.4,92.7 571.8,92.7 572.2,92.6 572.6,91.6 573,91 573.4,90.1 573.8,89.4 574.2,89.3 574.6,88.8 575,89.1 575.4,88.1 575.7,87.8 576.1,88.1 576.5,88.6 576.9,88.4 577.3,89.1 577.7,89.1 578.1,88.6 578.5,88.4 578.9,88.5 579.3,88 579.7,88.4 580.1,88.2 580.5,88.2 580.9,88.4 581.3,88 581.7,88.3 582,87.4 582.4,87.6 582.8,86.9 583.2,87.4 583.6,87.2 584,87.6 584.4,88.1 584.8,88 585.2,87.8 585.6,88.4 586,88 586.4,88.4 586.8,88.5 587.2,88.5 587.6,88.4 588,89.2 588.3,88.4 588.7,88.2 589.1,88.3 589.5,88.5 589.9,88.9 590.3,88.9 590.7,88.3 591.1,88.1 591.5,88.2 591.9,88 592.3,87.3 592.7,87.4 593.1,87.5 593.5,87 593.9,86.8 594.3,86.9 594.6,87 595,87.4 595.4,87.5 595.8,87.4 596.2,87.3 596.6,87 597,86.7 597.4,86.6 597.8,86.5 598.2,86.8 598.6,87.3 599,87.1 599.4,87.2 599.8,87.1 600.2,86.9 600.6,87 600.9,87.1 601.3,86.9 601.7,86.7 602.1,86.7 602.5,86.4 602.9,86.4 603.3,86.6 603.7,86.5 604.1,85.9 604.5,86.2 604.9,85.9 605.3,85.6 605.7,85.3 606.1,85.8 606.5,85.3 606.9,85.5 607.2,85.7 607.6,85.8 608,85.6 608.4,85.6 608.8,85.7 609.2,85.3 609.6,85.5 610,85.8 610.4,85.4 610.8,85.2 611.2,85 611.6,85.7 612,85.6 612.4,85.7 612.8,85.5 613.2,86.3 613.5,86.5 613.9,86.8 614.3,87.6 614.7,87.9 615.1,87.5 615.5,87.9 615.9,88.3 616.3,88 616.7,87.9 617.1,87.9 617.5,88.5 617.9,88.8 618.3,88.7 618.7,89.3 619.1,89.8 619.5,89.9 619.8,89.7 620.2,90.9 620.6,92.4 621,93.2 621.4,93.7 621.8,93.8 622.2,93.6 622.6,93.9 623,94.5 623.4,94.7 623.8,95.4 624.2,95.6 624.6,96.2 625,95 625.4,95.5 625.8,96.8 626.1,98 626.5,98.8 626.9,100.2 627.3,99.8 627.7,99.1 628.1,97.6 628.5,97 628.9,96.5 629.3,97 629.7,97.5 630.1,97.4 630.5,97.5 630.9,97 631.3,97.5 631.7,97.2 632.1,97.3 632.4,97.2 632.8,98 633.2,98.1 633.6,97.2 634,96.2 634.4,95.9 634.8,95.4 635.2,95.5 635.6,95.5 636,95.5 636.4,94.6 636.8,94.2 637.2,94.1 637.6,94 638,93.4 638.4,93.2 638.7,93.5 639.1,92.6 639.5,92.5 639.9,92.5 640.3,91.8 640.7,91.5 641.1,91.8 641.5,91.6 641.9,92.2 642.3,92.3 642.7,93 643.1,92 643.5,92.5 643.9,91.8 644.3,91.8 644.7,91.8 645,91.5 645.4,91 645.8,90.5 646.2,89.7 646.6,89.5 647,89.2 647.4,89.5 647.8,89.1 649,89.1"/>
<clipPath id="c2"><polygon points="81,358.5 81.2,358.5 81.6,358.1 82,358.4 82.4,358.8 82.8,358.4 83.2,358.4 83.6,358.1 84,358.2 84.3,359 84.7,359.3 85.1,358.9 85.5,359.2 85.9,358.6 86.3,359.3 86.7,358.9 87.1,357.8 87.5,359.3 87.9,359.7 88.3,359.6 88.7,359.7 89.1,359.8 89.5,359.6 89.9,359.2 90.3,358.8 90.6,358.9 91,359 91.4,360 91.8,359.8 92.2,360.3 92.6,359.6 93,359.9 93.4,359.1 93.8,358.9 94.2,359.5 94.6,358.8 95,359.3 95.4,359.2 95.8,358.6 96.2,358.8 96.6,358.7 96.9,358.7 97.3,359 97.7,359.6 98.1,359.2 98.5,358.6 98.9,359.2 99.3,359 99.7,359.4 100.1,360.3 100.5,359.8 100.9,359.5 101.3,359.7 101.7,359.3 102.1,358.9 102.5,358.8 102.9,358.7 103.2,358.8 103.6,359.1 104,358.8 104.4,359.1 104.8,358.8 105.2,359.7 105.6,359.9 106,360.9 106.4,361.1 106.8,361.4 107.2,360.9 107.6,360.8 108,362.1 108.4,361 108.8,360.7 109.2,361.2 109.5,360.5 109.9,360 110.3,359.4 110.7,358.3 111.1,358 111.5,357.3 111.9,356.7 112.3,356.1 112.7,356.6 113.1,357 113.5,357.4 113.9,357 114.3,358.2 114.7,358.9 115.1,359.1 115.5,358.9 115.8,358.4 116.2,358.5 116.6,358.7 117,358 117.4,358.6 117.8,359.5 118.2,358.5 118.6,358.5 119,358.6 119.4,358.1 119.8,358.7 120.2,358.1 120.6,357.7 121,358.1 121.4,357.1 121.8,355.7 122.1,355.7 122.5,355.2 122.9,355.3 123.3,354.2 123.7,354.3 124.1,353.5 124.5,354.2 124.9,354.5 125.3,354.3 125.7,355.1 126.1,355.3 126.5,355.7 126.9,356.4 127.3,356.3 127.7,355.8 128.1,356.5 128.4,356.6 128.8,357.4 129.2,357.6 129.6,358 130,358.5 130.4,359 130.8,360.1 131.2,359.5 131.6,359.4 132,358.6 132.4,358.2 132.8,358.3 133.2,357.8 133.6,357.3 134,356.5 134.4,356.4 134.7,356.6 135.1,356.5 135.5,356.2 135.9,356.5 136.3,355.4 136.7,355.2 137.1,355.7 137.5,355.7 137.9,355.9 138.3,356.5 138.7,356.1 139.1,355.9 139.5,356.4 139.9,356.6 140.3,356.6 140.7,356.9 141,357.1 141.4,356.7 141.8,356.9 142.2,357.1 142.6,356.9 143,357.3 143.4,357 143.8,357.4 144.2,357.4 144.6,357.6 145,357.7 145.4,358 145.8,357.3 146.2,357.5 146.6,357.1 147,356.5 147.3,356.9 147.7,356.4 148.1,356.3 148.5,356.5 148.9,356.3 149.3,356.1 149.7,356.3 150.1,356.8 150.5,355.3 150.9,355.3 151.3,355 151.7,354.8 152.1,354.9 152.5,355 152.9,355.2 153.3,355.3 153.6,355.8 154,356.2 154.4,355.9 154.8,356.2 155.2,357.1 155.6,357.5 156,357.7 156.4,357.6 156.8,357.3 157.2,357.8 157.6,358.2 158,358 158.4,358.1 158.8,358.6 159.2,358.8 159.6,358.8 159.9,359.1 160.3,358.8 160.7,358.7 161.1,359.4 161.5,358.9 161.9,358.6 162.3,358.9 162.7,359.4 163.1,359.5 163.5,359.8 163.9,360.4 164.3,359.9 164.7,360.4 165.1,360.4 165.5,359.9 165.9,358.9 166.2,358.8 166.6,358.8 167,359.1 167.4,358.8 167.8,359.3 168.2,359.5 168.6,359.8 169,359.6 169.4,359.6 169.8,359.7 170.2,359.7 170.6,359.7 171,360.1 171.4,360.4 171.8,360.3 172.2,360.3 172.5,360.1 172.9,360.2 173.3,360 173.7,359.9 174.1,360.1 174.5,360.1 174.9,359.7 175.3,360 175.7,359.3 176.1,358.3 176.5,357.9 176.9,357.8 177.3,357.8 177.7,357.5 178.1,357.7 178.5,357.5 178.8,357.9 179.2,357.8 179.6,358.3 180,358 180.4,357.2 180.8,356.8 181.2,356.9 181.6,357.2 182,357.1 182.4,357.6 182.8,357.6 183.2,357.8 183.6,358 184,358.5 184.4,358.2 184.8,359.2 185.1,359.6 185.5,359.3 185.9,359.8 186.3,359.9 186.7,360.3 187.1,360.6 187.5,360.4 187.9,361 188.3,360.8 188.7,360.3 189.1,360.9 189.5,360.7 189.9,360.6 190.3,360.9 190.7,360.7 191.1,360.9 191.4,360.5 191.8,361 192.2,361.1 192.6,361.1 193,360.2 193.4,360.3 193.8,360.7 194.2,360.3 194.6,360.6 195,360.1 195.4,360.9 195.8,360.4 196.2,360.6 196.6,360 197,360.3 197.4,360.1 197.7,360.2 198.1,359.7 198.5,359.4 198.9,359.9 199.3,358.9 199.7,358.3 200.1,358.2 200.5,357.8 200.9,358.3 201.3,358.2 201.7,357.5 202.1,356.7 202.5,357.1 202.9,357.6 203.3,357.5 203.7,357.4 204,356.8 204.4,356.6 204.8,355.9 205.2,355.3 205.6,356.3 206,355.8 206.4,356.3 206.8,355 207.2,354.1 207.6,353.4 208,352.9 208.4,353.8 208.8,354 209.2,354.9 209.6,356.2 210,356.9 210.3,356 210.7,355.5 211.1,355.2 211.5,354.4 211.9,354.2 212.3,353.4 212.7,353.5 213.1,353.4 213.5,352.9 213.9,352.8 214.3,351 214.7,350.3 215.1,350.4 215.5,350.4 215.9,350.1 216.3,349.8 216.6,349.5 217,350.4 217.4,349.5 217.8,347.9 218.2,348.7 218.6,349.1 219,349.6 219.4,349.4 219.8,349.1 220.2,349.2 220.6,349.5 221,350.2 221.4,349.6 221.8,350.7 222.2,350.4 222.6,350.5 222.9,351.3 223.3,349.3 223.7,346.8 224.1,346.8 224.5,345.2 224.9,343.6 225.3,343.2 225.7,343.4 226.1,340.8 226.5,339.8 226.9,337.7 227.3,338.8 227.7,337.8 228.1,337.4 228.5,338.3 228.9,336.9 229.2,336.7 229.6,338.6 230,338.7 230.4,337.1 230.8,337.3 231.2,336.2 231.6,336.7 232,337.7 232.4,335.8 232.8,334.4 233.2,334 233.6,334.2 234,333 234.4,333.7 234.8,332.1 235.2,332.5 235.5,333.7 235.9,334.9 236.3,335.2 236.7,334.9 237.1,336 237.5,335.9 237.9,336.8 238.3,336.6 238.7,336.3 239.1,337.3 239.5,337.4 239.9,337.8 240.3,339.5 240.7,341.5 241.1,343.3 241.5,342.7 241.8,342.1 242.2,343.8 242.6,342.8 243,342.9 243.4,341.8 243.8,342.5 244.2,342.5 244.6,342.6 245,340.9 245.4,340.7 245.8,339.5 246.2,339.7 246.6,340.2 247,340.2 247.4,341.3 247.8,340.2 248.1,341 248.5,339.5 248.9,338.5 249.3,340 249.7,339 250.1,337.4 250.5,336.4 250.9,336.1 251.3,338.5 251.7,338.8 252.1,340.1 252.5,339.8 252.9,340.2 253.3,340.7 253.7,343.1 254.1,342.6 254.4,343.7 254.8,344.6 255.2,343.3 255.6,343.2 256,342.1 256.4,340.8 256.8,341.2 257.2,341.7 257.6,341.5 258,340.1 258.4,341.8 258.8,341.9 259.2,342.8 259.6,344.1 260,343.6 260.4,344 260.7,343.4 261.1,344 261.5,344.4 261.9,345.4 262.3,346.2 262.7,346.9 263.1,347.6 263.5,347.4 263.9,347.4 264.3,347.7 264.7,348.1 265.1,348.5 265.5,348.5 265.9,348.2 266.3,348.1 266.7,349.4 267,349.6 267.4,350.2 267.8,350.3 268.2,352.1 268.6,352.6 269,353.2 269.4,352.8 269.8,353.4 270.2,354.4 270.6,354.7 271,356.1 271.4,355.9 271.8,356.2 272.2,356.4 272.6,357.6 273,357.4 273.3,356.3 273.7,354.8 274.1,353.5 274.5,351.6 274.9,350.4 275.3,349.4 275.7,349.2 276.1,350.3 276.5,349.9 276.9,350 277.3,349.5 277.7,349.8 278.1,350.4 278.5,351.9 278.9,351.3 279.3,351.1 279.6,351.2 280,352 280.4,351.3 280.8,351.4 281.2,350.4 281.6,350.2 282,349.7 282.4,349 282.8,349 283.2,348.7 283.6,348.4 284,349 284.4,349.2 284.8,350 285.2,351.1 285.6,351.2 285.9,350.2 286.3,349.5 286.7,349.9 287.1,350.5 287.5,349.7 287.9,349.3 288.3,349.2 288.7,349.5 289.1,349.4 289.5,350.2 289.9,350.1 290.3,350.3 290.7,351.2 291.1,351.4 291.5,352.2 291.9,352.8 292.2,353.9 292.6,354 293,354.2 293.4,353.7 293.8,353.7 294.2,353.1 294.6,351.7 295,351.2 295.4,351 295.8,350.8 296.2,351.3 296.6,351.7 297,350.9 297.4,351 297.8,350 298.2,350.1 298.5,350.3 298.9,351.9 299.3,350.7 299.7,349.2 300.1,348 300.5,347.5 300.9,346.1 301.3,345.2 301.7,344.9 302.1,345.1 302.5,345 302.9,344.6 303.3,345.5 303.7,346 304.1,345.7 304.5,345.3 304.8,345.7 305.2,347.2 305.6,347.8 306,348.2 306.4,347.8 306.8,347.4 307.2,346 307.6,344.5 308,344.6 308.4,343.9 308.8,341.6 309.2,340.3 309.6,341.2 310,342.9 310.4,345 310.8,346.7 311.1,347.4 311.5,344 311.9,340.7 312.3,337 312.7,333.8 313.1,329.1 313.5,326.9 313.9,325.8 314.3,324.4 314.7,323.6 315.1,325 315.5,325.1 315.9,324.2 316.3,327.5 316.7,329.3 317.1,331.1 317.4,335.2 317.8,335.8 318.2,335.6 318.6,335.9 319,336.3 319.4,336.3 319.8,337.4 320.2,337.8 320.6,338.8 321,340.3 321.4,340.6 321.8,341.2 322.2,341.9 322.6,342.4 323,343.2 323.4,344.4 323.7,345.6 324.1,344.6 324.5,344.4 324.9,343.4 325.3,343.7 325.7,344.8 326.1,346.3 326.5,346.2 326.9,347.1 327.3,348.5 327.7,349.8 328.1,350.4 328.5,350.6 328.9,349.8 329.3,349.9 329.7,349.5 330,349.2 330.4,348.2 330.8,348 331.2,349.2 331.6,348.4 332,349 332.4,348.7 332.8,348.9 333.2,348.3 333.6,348.5 334,349.4 334.4,348.7 334.8,347.7 335.2,347.8 335.6,347.4 336,348.4 336.3,346.9 336.7,346.9 337.1,345.3 337.5,346.8 337.9,346.1 338.3,345 338.7,346.2 339.1,346.7 339.5,348.5 339.9,349.1 340.3,348.4 340.7,347.8 341.1,347.3 341.5,346.2 341.9,345.8 342.3,344.9 342.6,343.6 343,343 343.4,343.3 343.8,342.9 344.2,343.4 344.6,342.7 345,344.2 345.4,344.8 345.8,344.5 346.2,344.3 346.6,344.9 347,345.7 347.4,345.6 347.8,345.9 348.2,346.2 348.6,345.1 348.9,344.6 349.3,343.5 349.7,343.8 350.1,344.1 350.5,343.6 350.9,344.6 351.3,344.5 351.7,342.9 352.1,344 352.5,343.8 352.9,345.4 353.3,347.2 353.7,347.5 354.1,348.1 354.5,348.7 354.9,348.7 355.2,349.7 355.6,351.5 356,351.4 356.4,352.3 356.8,352.5 357.2,353.6 357.6,354.5 358,355.3 358.4,354.2 358.8,353.9 359.2,352.9 359.6,352.4 360,353 360.4,351.8 360.8,353 361.2,349.6 361.5,341.2 361.9,332.3 362.3,334.2 362.7,337.2 363.1,341 363.5,343.4 363.9,347.1 364.3,346.8 364.7,348.5 365.1,349 365.5,350.3 365.9,349.9 366.3,348.6 366.7,347.6 367.1,346.3 367.5,346.5 367.8,346 368.2,346.7 368.6,346.5 369,345.6 369.4,345.1 369.8,345.4 370.2,344.6 370.6,345 371,345 371.4,345.1 371.8,344.5 372.2,344.5 372.6,344 373,344.2 373.4,345.8 373.8,345.3 374.1,343.6 374.5,341.3 374.9,339.9 375.3,338 375.7,338.3 376.1,336.1 376.5,335.4 376.9,333.9 377.3,334.3 377.7,335.8 378.1,335.5 378.5,335.5 378.9,335.7 379.3,336.8 379.7,334.9 380.1,334.6 380.4,334.1 380.8,333.3 381.2,334.1 381.6,337 382,335.9 382.4,336.4 382.8,336.6 383.2,335.9 383.6,335.4 384,336.2 384.4,336.1 384.8,338.4 385.2,336.1 385.6,337.8 386,338.3 386.4,338 386.7,337.8 387.1,338.4 387.5,338.5 387.9,340.2 388.3,340.8 388.7,340.1 389.1,342.1 389.5,343.7 389.9,344.7 390.3,346.1 390.7,344.9 391.1,345.6 391.5,345.4 391.9,345.2 392.3,345.5 392.7,343.7 393,343.4 393.4,342.3 393.8,342.3 394.2,343 394.6,343.5 395,343.4 395.4,345.6 395.8,345.8 396.2,345.2 396.6,345.4 397,346.8 397.4,348.1 397.8,347.9 398.2,347.4 398.6,346.9 399,347.7 399.3,347.2 399.7,348.2 400.1,349.7 400.5,350.2 400.9,351.1 401.3,351.8 401.7,353.5 402.1,352.4 402.5,352.3 402.9,351.7 403.3,351.1 403.7,350.5 404.1,349.7 404.5,348.8 404.9,347.4 405.3,346.9 405.6,347.4 406,348.5 406.4,348.2 406.8,347.8 407.2,343.9 407.6,341.1 408,338.4 408.4,339.1 408.8,339.5 409.2,341.7 409.6,343.1 410,343.9 410.4,344.7 410.8,344.7 411.2,345.3 411.6,345.7 411.9,345.5 412.3,345.9 412.7,346.2 413.1,346.5 413.5,347.6 413.9,348.8 414.3,349.9 414.7,351.5 415.1,351.7 415.5,353.2 415.9,354.2 416.3,355.2 416.7,355.6 417.1,355.8 417.5,356 417.9,356.2 418.2,355.7 418.6,356.9 419,357.2 419.4,357 419.8,357.3 420.2,356.1 420.6,356.5 421,356.5 421.4,356.2 421.8,356 422.2,355.6 422.6,356.2 423,357 423.4,357.2 423.8,357.1 424.2,355.9 424.5,356.2 424.9,356 425.3,356.1 425.7,357 426.1,356.7 426.5,355.8 426.9,355.5 427.3,355.4 427.7,355.1 428.1,354.3 428.5,354.3 428.9,354.9 429.3,354.1 429.7,353.6 430.1,352.8 430.5,352 430.8,351.2 431.2,351.5 431.6,352.7 432,353.8 432.4,354.1 432.8,354.2 433.2,355.6 433.6,355.2 434,354.5 434.4,355.3 434.8,355.2 435.2,355.2 435.6,354.2 436,354.2 436.4,354.1 436.8,354.8 437.1,354.9 437.5,354.8 437.9,355 438.3,355.5 438.7,356.7 439.1,356.9 439.5,357.1 439.9,357 440.3,357.2 440.7,357.1 441.1,357.5 441.5,357.7 441.9,358.6 442.3,358.4 442.7,357.9 443.1,357.9 443.4,356.2 443.8,355.9 444.2,356.1 444.6,356.7 445,356.7 445.4,357.1 445.8,357.2 446.2,357.4 446.6,357.4 447,357.2 447.4,354.8 447.8,352.6 448.2,351.9 448.6,350.2 449,348.7 449.4,346.9 449.7,345.8 450.1,343.9 450.5,342.2 450.9,341.2 451.3,341.2 451.7,340.4 452.1,341.4 452.5,341.1 452.9,340.7 453.3,342.2 453.7,343.9 454.1,346.3 454.5,347.8 454.9,350 455.3,349.3 455.7,346.1 456,345.2 456.4,342.5 456.8,341.1 457.2,340.7 457.6,339 458,339.7 458.4,339.8 458.8,340.2 459.2,340.2 459.6,342.1 460,344.6 460.4,346.7 460.8,347.6 461.2,348.3 461.6,347.5 462,347.5 462.3,347.6 462.7,347.2 463.1,346.7 463.5,345.2 463.9,345.8 464.3,345.1 464.7,344.7 465.1,343.3 465.5,343.7 465.9,345.3 466.3,344.3 466.7,344.4 467.1,344.5 467.5,342.9 467.9,342.8 468.3,342 468.6,342.7 469,342.7 469.4,341.8 469.8,342 470.2,342.4 470.6,342 471,341.8 471.4,341.5 471.8,341.9 472.2,342.9 472.6,344.4 473,345 473.4,344.6 473.8,345.4 474.2,345.6 474.6,346.6 474.9,346.6 475.3,346.6 475.7,347.4 476.1,347.4 476.5,348.3 476.9,348.7 477.3,349.1 477.7,349.5 478.1,350.2 478.5,349 478.9,349.1 479.3,349.1 479.7,348.1 480.1,349.1 480.5,349.2 480.9,349.4 481.2,349.4 481.6,349.9 482,348.3 482.4,348.2 482.8,347.5 483.2,347.6 483.6,348.1 484,347.2 484.4,347 484.8,346.2 485.2,344.7 485.6,345 486,343.6 486.4,343.6 486.8,343.9 487.2,343.9 487.5,344 487.9,342.3 488.3,341.7 488.7,342 489.1,342.7 489.5,343.3 489.9,344 490.3,344.3 490.7,344.2 491.1,344.6 491.5,345 491.9,346.1 492.3,347.3 492.7,347.5 493.1,348.1 493.5,348.7 493.8,349.4 494.2,350.3 494.6,350.2 495,349 495.4,348.9 495.8,349.1 496.2,349.8 496.6,349.3 497,347.5 497.4,348.8 497.8,349.1 498.2,348.2 498.6,348.1 499,348.2 499.4,350.1 499.8,350.8 500.1,349.8 500.5,350.6 500.9,349.6 501.3,350.6 501.7,349.3 502.1,347.1 502.5,346.8 502.9,347 503.3,346.3 503.7,344.6 504.1,345.3 504.5,346.4 504.9,344.8 505.3,346.4 505.7,345.7 506.1,348.5 506.4,348.9 506.8,348.6 507.2,349.2 507.6,349.2 508,348.6 508.4,349.3 508.8,348.6 509.2,347.6 509.6,347.4 510,345.5 510.4,343.2 510.8,341.7 511.2,339.8 511.6,338.9 512,338 512.4,337.5 512.7,337.8 513.1,337.5 513.5,335.9 513.9,336.9 514.3,337.4 514.7,335.5 515.1,336 515.5,335.7 515.9,337.4 516.3,338.7 516.7,339.6 517.1,339.5 517.5,340.2 517.9,340.8 518.3,342.6 518.7,343.8 519,343.9 519.4,345.4 519.8,346.1 520.2,345.7 520.6,346.7 521,346.7 521.4,346.7 521.8,347.1 522.2,347 522.6,347.3 523,347.4 523.4,349.2 523.8,349.6 524.2,349.2 524.6,349.9 525,349.3 525.3,349.1 525.7,348.9 526.1,348.6 526.5,348.8 526.9,348.4 527.3,348.3 527.7,349.2 528.1,349.5 528.5,349.2 528.9,347.3 529.3,348.3 529.7,349.7 530.1,350.5 530.5,350 530.9,350.6 531.3,350.1 531.6,349.9 532,348.3 532.4,347.8 532.8,348.6 533.2,348.6 533.6,347.3 534,347.8 534.4,347.9 534.8,347.1 535.2,347.9 535.6,348.1 536,347.7 536.4,347.1 536.8,349.3 537.2,349.1 537.6,350 537.9,350.7 538.3,351 538.7,350.8 539.1,351.2 539.5,352 539.9,352.8 540.3,352.2 540.7,351.8 541.1,352.9 541.5,353.6 541.9,353.6 542.3,353.1 542.7,353.6 543.1,353.7 543.5,354.6 543.9,354.2 544.2,353.7 544.6,354.4 545,354 545.4,354.1 545.8,354.4 546.2,354.4 546.6,354.5 547,353.7 547.4,353.8 547.8,354.5 548.2,354.4 548.6,354.9 549,354.2 549.4,353.3 549.8,353.3 550.2,353.3 550.5,354.7 550.9,354.6 551.3,353.9 551.7,354.2 552.1,353.7 552.5,353.6 552.9,355.3 553.3,355.2 553.7,355.9 554.1,356 554.5,356.7 554.9,356.6 555.3,357.3 555.7,356.7 556.1,355.9 556.5,356 556.8,355.9 557.2,355.8 557.6,355.5 558,355.5 558.4,354.7 558.8,355.1 559.2,355.1 559.6,354.9 560,355.4 560.4,356.4 560.8,356.8 561.2,357.2 561.6,356.3 562,355.6 562.4,355.9 562.8,355.5 563.1,354.7 563.5,354.4 563.9,354.6 564.3,354.7 564.7,353.6 565.1,353.5 565.5,352.6 565.9,351.9 566.3,352.1 566.7,352 567.1,352.3 567.5,353.8 567.9,354.4 568.3,354.5 568.7,353.7 569.1,353.5 569.4,352.9 569.8,353 570.2,353 570.6,352.5 571,352.6 571.4,352.4 571.8,351.9 572.2,351.6 572.6,352.3 573,353.4 573.4,354 573.8,354.4 574.2,354.4 574.6,354.7 575,354 575.4,355.4 575.7,356.2 576.1,355.5 576.5,355.4 576.9,356.2 577.3,355.5 577.7,355.4 578.1,356.2 578.5,356.1 578.9,356.3 579.3,357 579.7,356.6 580.1,356.8 580.5,357.4 580.9,357.6 581.3,358.5 581.7,358.2 582,359.8 582.4,359.4 582.8,360.3 583.2,360 583.6,360.1 584,359.7 584.4,359.3 584.8,359.7 585.2,360 585.6,359.4 586,359.2 586.4,358.4 586.8,357.8 587.2,357.5 587.6,357 588,355.7 588.3,357.2 588.7,358.7 589.1,359.6 589.5,360.4 589.9,360.3 590.3,360.3 590.7,360.2 591.1,360 591.5,359.3 591.9,359.1 592.3,359.8 592.7,359.7 593.1,359.4 593.5,360 593.9,360.3 594.3,360.3 594.6,359.8 595,360 595.4,359.8 595.8,360.1 596.2,360.3 596.6,360.5 597,361 597.4,361.2 597.8,361.8 598.2,361.5 598.6,361.4 599,361.5 599.4,361.7 599.8,362.5 600.2,362.8 600.6,362.5 600.9,362.1 601.3,362.3 601.7,362.6 602.1,362.9 602.5,362.8 602.9,362.6 603.3,362.3 603.7,362.3 604.1,362.9 604.5,362.2 604.9,361.7 605.3,361.7 605.7,361.6 606.1,361 606.5,361.9 606.9,361.6 607.2,361.8 607.6,361.7 608,361.9 608.4,361.7 608.8,361.6 609.2,361.9 609.6,361.8 610,361.6 610.4,361.8 610.8,361.9 611.2,362.3 611.6,361.9 612,362.1 612.4,361.9 612.8,362 613.2,361 613.5,360.3 613.9,359.4 614.3,357.8 614.7,357.6 615.1,358 615.5,357.4 615.9,357.1 616.3,357.6 616.7,357.3 617.1,357.7 617.5,357.5 617.9,357.6 618.3,357.2 618.7,356 619.1,355.4 619.5,355.2 619.8,354.9 620.2,353.4 620.6,351.9 621,350.8 621.4,350 621.8,350.4 622.2,350.7 622.6,350.3 623,350.1 623.4,350.7 623.8,350 624.2,349.6 624.6,348.7 625,350.8 625.4,350.5 625.8,350.8 626.1,350.4 626.5,350.5 626.9,350.1 627.3,350.3 627.7,350.8 628.1,351.4 628.5,351.5 628.9,352 629.3,350.4 629.7,349.9 630.1,349.8 630.5,350.4 630.9,350.7 631.3,350 631.7,350.3 632.1,350.6 632.4,351.1 632.8,350 633.2,350.5 633.6,351.8 634,352.6 634.4,352.9 634.8,353.2 635.2,353 635.6,352.3 636,352 636.4,352.8 636.8,352.7 637.2,353 637.6,353.1 638,353.1 638.4,353.7 638.7,353.4 639.1,354.6 639.5,354.4 639.9,353.7 640.3,354.8 640.7,355.2 641.1,355.4 641.5,355.9 641.9,355.7 642.3,355 642.7,353.8 643.1,354.9 643.5,354.8 643.9,355.3 644.3,355.5 644.7,355.2 645,355.6 645.4,356 645.8,356.4 646.2,357.3 646.6,357.3 647,357.8 647.4,357.3 647.8,357.6 649,357.6 649,368.1 647.8,368.1 647.4,368.2 647,368.1 646.6,368 646.2,368 645.8,368.3 645.4,368.6 645,368.9 644.7,369 644.3,369 643.9,368.9 643.5,369.3 643.1,368.9 642.7,369.3 642.3,369.3 641.9,369.6 641.5,369.2 641.1,369.1 640.7,368.9 640.3,369.2 639.9,369.5 639.5,369.8 639.1,370 638.7,370.4 638.4,370.3 638,370.2 637.6,370.6 637.2,370.6 636.8,370.4 636.4,370.8 636,371.1 635.6,371.3 635.2,371.7 634.8,371.7 634.4,372.1 634,372.2 633.6,372.8 633.2,373 632.8,372.5 632.4,371.9 632.1,371.5 631.7,371.4 631.3,371.8 630.9,371.7 630.5,372.2 630.1,371.9 629.7,372.2 629.3,372.1 628.9,372.4 628.5,371.8 628.1,371.5 627.7,372 627.3,371.8 626.9,371.8 626.5,371.6 626.1,371.7 625.8,371.6 625.4,371.1 625,371.7 624.6,371.5 624.2,371.3 623.8,371.1 623.4,370.5 623,369.8 622.6,369.5 622.2,369.4 621.8,369.5 621.4,369.1 621,369 620.6,368.7 620.2,367.8 619.8,367.4 619.5,367.7 619.1,367.7 618.7,367.2 618.3,367 617.9,367.1 617.5,366.8 617.1,366.2 616.7,366.2 616.3,366.5 615.9,366.6 615.5,366.4 615.1,366.4 614.7,366.6 614.3,366.2 613.9,366.2 613.5,366.2 613.2,366.4 612.8,366 612.4,366.2 612,366.1 611.6,366.3 611.2,366 610.8,366 610.4,366.1 610,366.2 609.6,366 609.2,365.8 608.8,366 608.4,366 608,366.1 607.6,366.2 607.2,366.1 606.9,365.9 606.5,365.9 606.1,366 605.7,365.8 605.3,366 604.9,366.2 604.5,366.6 604.1,366.7 603.7,366.8 603.3,366.9 602.9,366.7 602.5,366.9 602.1,367.3 601.7,367.2 601.3,367.3 600.9,367.5 600.6,367.7 600.2,367.7 599.8,367.8 599.4,367.6 599,367.6 598.6,367.7 598.2,367.4 597.8,367.3 597.4,367.2 597,367.3 596.6,367.4 596.2,367.6 595.8,367.7 595.4,367.6 595,367.6 594.6,367.1 594.3,367.2 593.9,367.2 593.5,367.1 593.1,367.3 592.7,367.2 592.3,367.1 591.9,367.3 591.5,367.3 591.1,367.4 590.7,367.5 590.3,367.9 589.9,367.7 589.5,367.7 589.1,367.4 588.7,367.1 588.3,366.9 588,367.1 587.6,366.9 587.2,367.1 586.8,367.1 586.4,367.3 586,367.2 585.6,367.5 585.2,367.2 584.8,367.2 584.4,367.3 584,367.2 583.6,367 583.2,367.1 582.8,366.8 582.4,367 582,367 581.7,367.2 581.3,367.4 580.9,367.5 580.5,367.5 580.1,367.3 579.7,367.5 579.3,367.4 578.9,367.5 578.5,367.3 578.1,367.5 577.7,367.6 577.3,367.7 576.9,367.4 576.5,367.3 576.1,366.9 575.7,367 575.4,367 575,367.4 574.6,367.5 574.2,368 573.8,368 573.4,368.4 573,368.9 572.6,368.9 572.2,369.4 571.8,369.6 571.4,369.7 571,369.8 570.6,370.1 570.2,370.5 569.8,370.3 569.4,370.3 569.1,370.4 568.7,370.2 568.3,370 567.9,370 567.5,369.6 567.1,370.2 566.7,370.5 566.3,370.6 565.9,370.9 565.5,370.9 565.1,370.8 564.7,370.9 564.3,370.3 563.9,370.1 563.5,370 563.1,370.2 562.8,370.1 562.4,369.6 562,369.9 561.6,370.2 561.2,369.6 560.8,369.5 560.4,369.3 560,369.2 559.6,369 559.2,369.2 558.8,369.3 558.4,369.5 558,369.4 557.6,369.2 557.2,369.1 556.8,369 556.5,369.3 556.1,369.8 555.7,369.6 555.3,369.1 554.9,369 554.5,368.9 554.1,369.2 553.7,369.3 553.3,369.1 552.9,369.2 552.5,369.8 552.1,369.4 551.7,369.3 551.3,369.5 550.9,369.4 550.5,369.6 550.2,370 549.8,370.4 549.4,370.7 549,370.6 548.6,370.4 548.2,370.6 547.8,370.8 547.4,370.8 547,371 546.6,370.8 546.2,371 545.8,370.9 545.4,371.1 545,371.4 544.6,371.2 544.2,371 543.9,371.4 543.5,371.1 543.1,371 542.7,371.1 542.3,371.1 541.9,371.1 541.5,371.2 541.1,371.5 540.7,371.7 540.3,371.6 539.9,371.7 539.5,372 539.1,372 538.7,371.9 538.3,371.6 537.9,372 537.6,372.4 537.2,372.7 536.8,372.4 536.4,373 536,373.4 535.6,373.2 535.2,373.3 534.8,373.5 534.4,373.5 534,373.3 533.6,373.4 533.2,373 532.8,373.1 532.4,373.3 532,373.4 531.6,373.3 531.3,373.6 530.9,373.3 530.5,373.7 530.1,374.2 529.7,374.4 529.3,374.4 528.9,375.1 528.5,374.6 528.1,374.6 527.7,374.1 527.3,374.3 526.9,373.4 526.5,372.9 526.1,373.6 525.7,373.4 525.3,373.5 525,373.3 524.6,372.9 524.2,373 523.8,372.6 523.4,373 523,373.1 522.6,373.1 522.2,372.8 521.8,372.3 521.4,372.1 521,371.8 520.6,371.6 520.2,371.8 519.8,371.7 519.4,371.8 519,371.9 518.7,371.6 518.3,371.1 517.9,371.1 517.5,370.5 517.1,370.7 516.7,369.4 516.3,368.7 515.9,368.1 515.5,367.9 515.1,366.9 514.7,366.5 514.3,365.9 513.9,365.8 513.5,366.2 513.1,367.1 512.7,368.9 512.4,369.7 512,370.5 511.6,371.5 511.2,371.9 510.8,371.5 510.4,371.9 510,371.8 509.6,371.6 509.2,372.6 508.8,371.7 508.4,371.8 508,372 507.6,372 507.2,372.2 506.8,372.7 506.4,372.8 506.1,372.9 505.7,373.3 505.3,373.7 504.9,373.9 504.5,372.8 504.1,372.6 503.7,372.2 503.3,371.4 502.9,371.1 502.5,371 502.1,371.5 501.7,371.5 501.3,371.4 500.9,372.1 500.5,372.5 500.1,372.6 499.8,372.2 499.4,372.2 499,372.8 498.6,372.6 498.2,372.9 497.8,372.9 497.4,372.9 497,373.3 496.6,373 496.2,372.9 495.8,373 495.4,372.6 495,372.9 494.6,373.4 494.2,373.7 493.8,373.7 493.5,373.9 493.1,373.7 492.7,373.7 492.3,373.9 491.9,374.3 491.5,373.7 491.1,374.3 490.7,374.3 490.3,374.5 489.9,374.5 489.5,375.2 489.1,374.9 488.7,375.2 488.3,375.2 487.9,375.5 487.5,375.1 487.2,375.3 486.8,375.4 486.4,375.9 486,375.5 485.6,375.4 485.2,375.3 484.8,375.7 484.4,375.4 484,375 483.6,374.5 483.2,374.3 482.8,373.9 482.4,373.9 482,374 481.6,373.3 481.2,373.5 480.9,374 480.5,373.6 480.1,373.9 479.7,373.7 479.3,373.1 478.9,373 478.5,373 478.1,372.5 477.7,372.1 477.3,371.1 476.9,370.8 476.5,371.3 476.1,371.5 475.7,372.1 475.3,372.3 474.9,372.4 474.6,372.8 474.2,373.2 473.8,373.6 473.4,373.8 473,374 472.6,373.9 472.2,374.7 471.8,375.1 471.4,375.2 471,374.7 470.6,375 470.2,375.1 469.8,375.2 469.4,375.1 469,375 468.6,374.8 468.3,375.7 467.9,375.7 467.5,376 467.1,374.9 466.7,374.8 466.3,374.6 465.9,374.4 465.5,375 465.1,375.2 464.7,374.9 464.3,374.3 463.9,374.3 463.5,373.6 463.1,373.1 462.7,372.5 462.3,372.2 462,372.1 461.6,372.2 461.2,372.1 460.8,372.5 460.4,372.6 460,372.6 459.6,372.2 459.2,372.9 458.8,373.1 458.4,372.9 458,373.1 457.6,372.4 457.2,371.9 456.8,371.9 456.4,372.2 456,371.8 455.7,372.1 455.3,371.7 454.9,371.2 454.5,370.3 454.1,369.4 453.7,369 453.3,367.9 452.9,367.3 452.5,367.8 452.1,368.5 451.7,369.3 451.3,369.9 450.9,370.9 450.5,371.3 450.1,372.2 449.7,373.1 449.4,373.8 449,373.5 448.6,372.5 448.2,371.9 447.8,371.5 447.4,370.7 447,370.4 446.6,369.5 446.2,369.4 445.8,369.3 445.4,369.1 445,369 444.6,369.2 444.2,369.4 443.8,369.5 443.4,369.6 443.1,369.1 442.7,368.5 442.3,368.1 441.9,368.1 441.5,368.6 441.1,369 440.7,369.4 440.3,369.1 439.9,369.2 439.5,369.3 439.1,369.1 438.7,369.2 438.3,369.2 437.9,369.5 437.5,369.2 437.1,368.6 436.8,368.4 436.4,368.1 436,368.1 435.6,368.7 435.2,368.7 434.8,368.5 434.4,368.6 434,368.7 433.6,368.6 433.2,368.4 432.8,368.6 432.4,368.5 432,368.3 431.6,368 431.2,368.1 430.8,368.1 430.5,367.9 430.1,367.8 429.7,367.6 429.3,368 428.9,368.1 428.5,368.5 428.1,368.2 427.7,368.4 427.3,368.3 426.9,368.3 426.5,368.3 426.1,368.6 425.7,368.9 425.3,369.2 424.9,369.7 424.5,369.6 424.2,370.2 423.8,369.7 423.4,369.8 423,370 422.6,369.9 422.2,370 421.8,370.1 421.4,370 421,369.6 420.6,369.3 420.2,369.4 419.8,369.5 419.4,369.5 419,369.1 418.6,369.3 418.2,369.5 417.9,369.3 417.5,369.5 417.1,370 416.7,370 416.3,369.9 415.9,370 415.5,370.2 415.1,370 414.7,369.5 414.3,370 413.9,370.5 413.5,371 413.1,370.8 412.7,370.7 412.3,371 411.9,371.2 411.6,371.1 411.2,370.8 410.8,371.3 410.4,371.3 410,371.5 409.6,372.3 409.2,373.2 408.8,374.1 408.4,375 408,375.2 407.6,374.7 407.2,373.8 406.8,373.6 406.4,373.7 406,373.4 405.6,373.6 405.3,374 404.9,373.6 404.5,373.2 404.1,372.8 403.7,372.6 403.3,372.6 402.9,372 402.5,371.4 402.1,371.5 401.7,371.2 401.3,371.1 400.9,371.1 400.5,371.1 400.1,371 399.7,371 399.3,371.5 399,371.2 398.6,371.6 398.2,371.7 397.8,371.4 397.4,371.5 397,372.2 396.6,373.3 396.2,373.6 395.8,374 395.4,373.7 395,374.8 394.6,375.3 394.2,375.5 393.8,375.6 393.4,375.3 393,374 392.7,373.5 392.3,373.1 391.9,373.3 391.5,373.3 391.1,372.8 390.7,372.4 390.3,371.5 389.9,371.1 389.5,370.7 389.1,371.4 388.7,372.2 388.3,372.1 387.9,373.1 387.5,373.4 387.1,374.3 386.7,375.2 386.4,375.7 386,375.5 385.6,375.8 385.2,375.6 384.8,375 384.4,375.5 384,375 383.6,374.4 383.2,374.4 382.8,373.6 382.4,373.3 382,373.6 381.6,372.8 381.2,373.4 380.8,373.8 380.4,373.4 380.1,372.7 379.7,372 379.3,371.9 378.9,372.1 378.5,371.3 378.1,371 377.7,370.1 377.3,370.2 376.9,369.8 376.5,369.2 376.1,368.8 375.7,368.4 375.3,368.2 374.9,367.4 374.5,366.6 374.1,365.8 373.8,365.6 373.4,365.3 373,365.2 372.6,364.9 372.2,364.2 371.8,364.2 371.4,364.1 371,364.4 370.6,364.9 370.2,364.9 369.8,365.1 369.4,364.9 369,365 368.6,365 368.2,365 367.8,365.5 367.5,364.9 367.1,365.1 366.7,365.8 366.3,366.6 365.9,366.8 365.5,367.3 365.1,367.3 364.7,367.6 364.3,368.4 363.9,368.3 363.5,370.3 363.1,372.1 362.7,373.4 362.3,374.9 361.9,376.7 361.5,375.3 361.2,373.8 360.8,372.6 360.4,370.6 360,368.7 359.6,368.9 359.2,369.1 358.8,369.2 358.4,368.8 358,368.3 357.6,368.3 357.2,368.7 356.8,368.5 356.4,367.8 356,368.5 355.6,368 355.2,368.1 354.9,368.3 354.5,369 354.1,368.9 353.7,368.7 353.3,368 352.9,369.1 352.5,369.6 352.1,369.3 351.7,369.3 351.3,368.3 350.9,368.7 350.5,369 350.1,368.8 349.7,368.6 349.3,369.1 348.9,368.5 348.6,368.6 348.2,368.4 347.8,368.7 347.4,368.7 347,369.1 346.6,369.2 346.2,368.8 345.8,368.3 345.4,368.2 345,368.4 344.6,368.5 344.2,367.7 343.8,368.3 343.4,367.7 343,367.4 342.6,367.5 342.3,367.6 341.9,367.8 341.5,367.8 341.1,367.5 340.7,368 340.3,368 339.9,368 339.5,367.8 339.1,368.6 338.7,368.9 338.3,369.1 337.9,368.5 337.5,368.1 337.1,368.6 336.7,368.4 336.3,368.5 336,368.4 335.6,368.8 335.2,369 334.8,369.4 334.4,369.6 334,368.9 333.6,369.2 333.2,369.6 332.8,369.1 332.4,368.5 332,368.7 331.6,369.3 331.2,368.8 330.8,369.4 330.4,368.9 330,368.8 329.7,368.8 329.3,369.3 328.9,369.6 328.5,369.3 328.1,369.5 327.7,369.7 327.3,369.8 326.9,369.8 326.5,369.8 326.1,369.7 325.7,370.2 325.3,370.5 324.9,370.8 324.5,370.7 324.1,370.8 323.7,370.5 323.4,371.1 323,370.4 322.6,371 322.2,371.1 321.8,371.1 321.4,371.5 321,372.2 320.6,373.1 320.2,372.8 319.8,372.8 319.4,373.2 319,373.2 318.6,372.6 318.2,372.8 317.8,372.6 317.4,372.9 317.1,373.6 316.7,373.4 316.3,373.8 315.9,374.6 315.5,374.1 315.1,374.5 314.7,375.3 314.3,375.4 313.9,374.7 313.5,374.2 313.1,374.2 312.7,372.6 312.3,372 311.9,371.4 311.5,370.7 311.1,369.6 310.8,369.5 310.4,369 310,369.4 309.6,369.7 309.2,369.3 308.8,368.3 308.4,368.5 308,368.7 307.6,369 307.2,368.2 306.8,368.4 306.4,367.6 306,367.7 305.6,368.2 305.2,367.7 304.8,368.2 304.5,368.4 304.1,368.5 303.7,368.8 303.3,368.5 302.9,368.9 302.5,368.5 302.1,368.4 301.7,368.4 301.3,368 300.9,367.7 300.5,367.2 300.1,367.1 299.7,367 299.3,366 298.9,365.9 298.5,366.5 298.2,366.5 297.8,366.6 297.4,366.3 297,366 296.6,365.7 296.2,365.8 295.8,366.1 295.4,366.1 295,366.2 294.6,366.2 294.2,366 293.8,366.2 293.4,366.9 293,366.5 292.6,366.6 292.2,366.5 291.9,366.6 291.5,366.9 291.1,366.9 290.7,366.9 290.3,367.5 289.9,367.4 289.5,367.3 289.1,367.4 288.7,367.1 288.3,367.1 287.9,367.1 287.5,366.8 287.1,366.7 286.7,366.9 286.3,367.5 285.9,367.2 285.6,366.8 285.2,367 284.8,367.1 284.4,366.9 284,367.2 283.6,367.7 283.2,367.3 282.8,367.3 282.4,367.2 282,367.1 281.6,367.2 281.2,367.5 280.8,367.3 280.4,367.1 280,366.7 279.6,366.7 279.3,366.8 278.9,367.1 278.5,366.5 278.1,366.7 277.7,366.9 277.3,366.6 276.9,366.8 276.5,366.5 276.1,366.6 275.7,366.5 275.3,367.4 274.9,367.6 274.5,367.7 274.1,367.6 273.7,368.4 273.3,369.2 273,369.4 272.6,368.8 272.2,368.6 271.8,367.8 271.4,368 271,367.5 270.6,367.8 270.2,367.5 269.8,367.8 269.4,367.8 269,368.2 268.6,367.8 268.2,367.5 267.8,367.9 267.4,367.9 267,367.8 266.7,368.2 266.3,368.9 265.9,368.7 265.5,369 265.1,368.9 264.7,369 264.3,368.8 263.9,368.3 263.5,368.8 263.1,368.8 262.7,368.5 262.3,368.3 261.9,368.8 261.5,368.6 261.1,368.5 260.7,368.3 260.4,368.3 260,368.5 259.6,368.2 259.2,368.4 258.8,368.7 258.4,368.9 258,369.6 257.6,369.5 257.2,369.3 256.8,369.6 256.4,370.2 256,369.3 255.6,369.7 255.2,369.8 254.8,369.7 254.4,369.7 254.1,369.8 253.7,369.6 253.3,369.9 252.9,370.5 252.5,370.9 252.1,370.2 251.7,370.3 251.3,370.2 250.9,371 250.5,370.9 250.1,370.7 249.7,369.9 249.3,369.5 248.9,369.8 248.5,369.6 248.1,369.6 247.8,369.6 247.4,369.6 247,370.2 246.6,369.5 246.2,369.7 245.8,369.4 245.4,369.7 245,369.5 244.6,370.1 244.2,369.9 243.8,370 243.4,370.4 243,370.7 242.6,371.3 242.2,372 241.8,372.2 241.5,372.1 241.1,372.2 240.7,372.6 240.3,372.8 239.9,373.4 239.5,374 239.1,373.9 238.7,374.6 238.3,374.6 237.9,374.2 237.5,373.8 237.1,374.2 236.7,375 236.3,374.8 235.9,375.6 235.5,375.7 235.2,375.7 234.8,375.7 234.4,374.8 234,375 233.6,374.7 233.2,374.4 232.8,374.7 232.4,374.6 232,374.6 231.6,374.8 231.2,375.6 230.8,374.8 230.4,375.1 230,374.6 229.6,374.2 229.2,374.7 228.9,374.5 228.5,374.8 228.1,375.7 227.7,375.3 227.3,374.7 226.9,374.6 226.5,373.9 226.1,374.3 225.7,373.9 225.3,373.6 224.9,372.8 224.5,372.5 224.1,371.2 223.7,371.4 223.3,370.4 222.9,370.3 222.6,370.7 222.2,370.4 221.8,370.1 221.4,370.4 221,369.7 220.6,369.9 220.2,370 219.8,369.8 219.4,369.7 219,369.4 218.6,369.2 218.2,368.8 217.8,369.4 217.4,369.1 217,368.8 216.6,368.8 216.3,368.2 215.9,367.7 215.5,368 215.1,367.9 214.7,368 214.3,368.2 213.9,367.8 213.5,367.6 213.1,368.1 212.7,367.9 212.3,367.7 211.9,367.6 211.5,367.5 211.1,367.3 210.7,367.3 210.3,368 210,368 209.6,367.8 209.2,368.1 208.8,368.4 208.4,368 208,367.9 207.6,368.2 207.2,368.3 206.8,367.7 206.4,367.5 206,367.7 205.6,367.4 205.2,367.2 204.8,366.8 204.4,366.4 204,366.2 203.7,365.8 203.3,365.9 202.9,365.9 202.5,365.9 202.1,365.9 201.7,365.5 201.3,365.2 200.9,365.6 200.5,365.6 200.1,365.3 199.7,365.2 199.3,365.1 198.9,365.1 198.5,365.4 198.1,365.3 197.7,365.1 197.4,365.3 197,365.2 196.6,365.4 196.2,365.2 195.8,365.5 195.4,365.7 195,365.7 194.6,365.3 194.2,365.2 193.8,365.2 193.4,365.3 193,365.4 192.6,365.2 192.2,365.2 191.8,365.2 191.4,365.2 191.1,365 190.7,365.2 190.3,365.2 189.9,364.7 189.5,364.6 189.1,364.6 188.7,364.7 188.3,364.8 187.9,365.1 187.5,365.2 187.1,365.2 186.7,365.4 186.3,365.3 185.9,365.6 185.5,365.6 185.1,365.5 184.8,365.2 184.4,365.4 184,365.1 183.6,365.3 183.2,365.1 182.8,365 182.4,364.7 182,364.8 181.6,365.2 181.2,365.2 180.8,365 180.4,364.9 180,365.1 179.6,365.2 179.2,364.8 178.8,364.5 178.5,364.6 178.1,363.9 177.7,363.9 177.3,364 176.9,364 176.5,364.2 176.1,364.1 175.7,364 175.3,363.8 174.9,363.8 174.5,363.7 174.1,363.8 173.7,364.2 173.3,363.9 172.9,364.4 172.5,364.6 172.2,364.7 171.8,364.6 171.4,364.6 171,364.7 170.6,364.7 170.2,364.6 169.8,364.3 169.4,364.5 169,364.5 168.6,364.7 168.2,364.5 167.8,364.5 167.4,364.8 167,364.3 166.6,364.2 166.2,364.2 165.9,364.2 165.5,363.9 165.1,364 164.7,363.7 164.3,363.7 163.9,363.8 163.5,364.2 163.1,364.2 162.7,364.5 162.3,364.3 161.9,364 161.5,364 161.1,364.1 160.7,364.6 160.3,364.7 159.9,364.7 159.6,364.4 159.2,364.6 158.8,364.4 158.4,364.7 158,364.7 157.6,364.7 157.2,364.9 156.8,365 156.4,365 156,365.2 155.6,364.9 155.2,364.8 154.8,365.1 154.4,365.3 154,365.4 153.6,365.6 153.3,365.8 152.9,365.7 152.5,366.1 152.1,366.1 151.7,366 151.3,366 150.9,366 150.5,365.9 150.1,365.7 149.7,365.9 149.3,365.9 148.9,365.8 148.5,365.7 148.1,366.1 147.7,366 147.3,365.9 147,366.3 146.6,366.5 146.2,366.1 145.8,366.2 145.4,366 145,365.9 144.6,366.1 144.2,366.3 143.8,365.9 143.4,365.8 143,366.1 142.6,366.1 142.2,365.5 141.8,365.4 141.4,365.4 141,365.1 140.7,365 140.3,365 139.9,364.7 139.5,364.6 139.1,365 138.7,364.9 138.3,365.2 137.9,365.3 137.5,365.4 137.1,365.2 136.7,365.6 136.3,365.6 135.9,365.6 135.5,365.7 135.1,365.7 134.7,365.7 134.4,366 134,366.5 133.6,366.8 133.2,366.5 132.8,366.5 132.4,366.9 132,366.5 131.6,366.5 131.2,366.2 130.8,366.2 130.4,366 130,366.2 129.6,366.3 129.2,366 128.8,366.2 128.4,366.5 128.1,366.7 127.7,367.3 127.3,367.5 126.9,367.3 126.5,367.8 126.1,367.7 125.7,367.6 125.3,367.7 124.9,367 124.5,366.9 124.1,367.2 123.7,366.8 123.3,366.9 122.9,366.7 122.5,367.1 122.1,366.9 121.8,366.7 121.4,366.9 121,366.9 120.6,367.1 120.2,367.2 119.8,366.6 119.4,366.5 119,366.4 118.6,366.1 118.2,366.1 117.8,365.5 117.4,366 117,366 116.6,365.6 116.2,365.5 115.8,365.5 115.5,365.6 115.1,365.3 114.7,365.3 114.3,365.3 113.9,365.7 113.5,365.3 113.1,365.4 112.7,365.4 112.3,365.3 111.9,365.4 111.5,365.2 111.1,364.8 110.7,364.7 110.3,364.4 109.9,364.7 109.5,364.6 109.2,364.4 108.8,364.2 108.4,364.4 108,363.8 107.6,363.8 107.2,363.9 106.8,363.7 106.4,363.7 106,363.6 105.6,363.6 105.2,363.6 104.8,363.8 104.4,363.6 104,363.4 103.6,363.5 103.2,363.8 102.9,363.7 102.5,363.8 102.1,363.7 101.7,363.6 101.3,363.4 100.9,363 100.5,362.9 100.1,363.1 99.7,363.5 99.3,363.6 98.9,363.8 98.5,363.7 98.1,363.7 97.7,363.7 97.3,363.6 96.9,363.9 96.6,363.9 96.2,363.8 95.8,363.8 95.4,363.7 95,363.8 94.6,363.8 94.2,363.9 93.8,364.2 93.4,364 93,363.6 92.6,363.5 92.2,363.3 91.8,363.7 91.4,363.7 91,363.7 90.6,363.8 90.3,364 89.9,364.1 89.5,363.8 89.1,363.9 88.7,363.8 88.3,363.7 87.9,363.2 87.5,363.4 87.1,363.8 86.7,363.4 86.3,363.3 85.9,363.4 85.5,363 85.1,363.3 84.7,363.2 84.3,363.2 84,363.4 83.6,363.9 83.2,363.8 82.8,363.7 82.4,363.4 82,363.4 81.6,363.4 81.2,363.3 81,363.3"/></clipPath>
<g clip-path="url(#c2)" shape-rendering="crispEdges">
<rect x="81" y="0" width="28" height="450" fill="#ff9f10"/>
<rect x="109" y="0" width="1" height="450" fill="#ffc40a"/>
<rect x="110" y="0" width="7" height="450" fill="#ff9f10"/>
<rect x="117" y="0" width="1" height="450" fill="#ffc40a"/>
<rect x="118" y="0" width="10" height="450" fill="#ff9f10"/>
<rect x="128" y="0" width="1" height="450" fill="#ffc40a"/>
<rect x="129" y="0" width="3" height="450" fill="#ff9f10"/>
<rect x="132" y="0" width="1" height="450" fill="#ffc40a"/>
<rect x="133" y="0" width="14" height="450" fill="#ff9f10"/>
<rect x="147" y="0" width="1" height="450" fill="#ffc40a"/>
<rect x="148" y="0" width="5" height="450" fill="#ff9f10"/>
<rect x="153" y="0" width="1" height="450" fill="#ffc40a"/>
<rect x="154" y="0" width="12" height="450" fill="#ff9f10"/>
<rect x="166" y="0" width="1" height="450" fill="#ffc40a"/>
<rect x="167" y="0" width="14" height="450" fill="#ff9f10"/>
<rect x="181" y="0" width="1" height="450" fill="#ffc40a"/>
<rect x="182" y="0" width="7" height="450" fill="#ff9f10"/>
<rect x="189" y="0" width="12" height="450" fill="#ff2a10"/>
<rect x="201" y="0" width="1" height="450" fill="#ff4512"/>
<rect x="202" y="0" width="3" height="450" fill="#ff5a14"/>
<rect x="205" y="0" width="1" height="450" fill="#ff4512"/>
<rect x="206" y="0" width="6" height="450" fill="#ff2a10"/>
<rect x="212" y="0" width="1" height="450" fill="#ff5a14"/>
<rect x="213" y="0" width="9" height="450" fill="#ff2a10"/>
<rect x="222" y="0" width="1" height="450" fill="#ff5a14"/>
<rect x="223" y="0" width="4" height="450" fill="#ff2a10"/>
<rect x="227" y="0" width="1" height="450" fill="#ff5a14"/>
<rect x="228" y="0" width="13" height="450" fill="#ff2a10"/>
<rect x="241" y="0" width="1" height="450" fill="#ff5a14"/>
<rect x="242" y="0" width="9" height="450" fill="#ff2a10"/>
<rect x="251" y="0" width="1" height="450" fill="#ff5a14"/>
<rect x="252" y="0" width="13" height="450" fill="#ff2a10"/>
<rect x="265" y="0" width="1" height="450" fill="#ff5a14"/>
<rect x="266" y="0" width="2" height="450" fill="#ff2a10"/>
<rect x="268" y="0" width="1" height="450" fill="#ff5a14"/>
<rect x="269" y="0" width="16" height="450" fill="#ff2a10"/>
<rect x="285" y="0" width="1" height="450" fill="#ff5a14"/>
<rect x="286" y="0" width="18" height="450" fill="#ff2a10"/>
<rect x="304" y="0" width="1" height="450" fill="#ff5a14"/>
<rect x="305" y="0" width="11" height="450" fill="#ff2a10"/>
<rect x="316" y="0" width="21" height="450" fill="#ff9f10"/>
<rect x="337" y="0" width="2" height="450" fill="#ffdc05"/>
<rect x="339" y="0" width="2" height="450" fill="#ffee00"/>
<rect x="341" y="0" width="25" height="450" fill="#ff9f10"/>
<rect x="366" y="0" width="1" height="450" fill="#ffc40a"/>
<rect x="367" y="0" width="22" height="450" fill="#ff9f10"/>
<rect x="389" y="0" width="1" height="450" fill="#ffc40a"/>
<rect x="390" y="0" width="58" height="450" fill="#ff9f10"/>
<rect x="448" y="0" width="1" height="450" fill="#ffc40a"/>
<rect x="449" y="0" width="64" height="450" fill="#ff9f10"/>
<rect x="513" y="0" width="1" height="450" fill="#ffc40a"/>
<rect x="514" y="0" width="3" height="450" fill="#ff9f10"/>
<rect x="517" y="0" width="1" height="450" fill="#ffc40a"/>
<rect x="518" y="0" width="2" height="450" fill="#ff9f10"/>
<rect x="520" y="0" width="1" height="450" fill="#ffc40a"/>
<rect x="521" y="0" width="52" height="450" fill="#ff9f10"/>
<rect x="573" y="0" width="1" height="450" fill="#ffc40a"/>
<rect x="574" y="0" width="17" height="450" fill="#ff9f10"/>
<rect x="591" y="0" width="1" height="450" fill="#ffc40a"/>
<rect x="592" y="0" width="16" height="450" fill="#ff9f10"/>
<rect x="608" y="0" width="1" height="450" fill="#ffc40a"/>
<rect x="609" y="0" width="2" height="450" fill="#ff9f10"/>
<rect x="611" y="0" width="1" height="450" fill="#ffdc05"/>
<rect x="612" y="0" width="23" height="450" fill="#ff2a10"/>
<rect x="635" y="0" width="1" height="450" fill="#ff5a14"/>
<rect x="636" y="0" width="12" height="450" fill="#ff2a10"/>
<rect x="648" y="0" width="1" height="450" fill="#ff9f10"/>
</g>
<polyline fill="none" stroke="#1a1008" stroke-width="1.1" stroke-linejoin="round" points="81,358.5 81.2,358.5 81.6,358.1 82,358.4 82.4,358.8 82.8,358.4 83.2,358.4 83.6,358.1 84,358.2 84.3,359 84.7,359.3 85.1,358.9 85.5,359.2 85.9,358.6 86.3,359.3 86.7,358.9 87.1,357.8 87.5,359.3 87.9,359.7 88.3,359.6 88.7,359.7 89.1,359.8 89.5,359.6 89.9,359.2 90.3,358.8 90.6,358.9 91,359 91.4,360 91.8,359.8 92.2,360.3 92.6,359.6 93,359.9 93.4,359.1 93.8,358.9 94.2,359.5 94.6,358.8 95,359.3 95.4,359.2 95.8,358.6 96.2,358.8 96.6,358.7 96.9,358.7 97.3,359 97.7,359.6 98.1,359.2 98.5,358.6 98.9,359.2 99.3,359 99.7,359.4 100.1,360.3 100.5,359.8 100.9,359.5 101.3,359.7 101.7,359.3 102.1,358.9 102.5,358.8 102.9,358.7 103.2,358.8 103.6,359.1 104,358.8 104.4,359.1 104.8,358.8 105.2,359.7 105.6,359.9 106,360.9 106.4,361.1 106.8,361.4 107.2,360.9 107.6,360.8 108,362.1 108.4,361 108.8,360.7 109.2,361.2 109.5,360.5 109.9,360 110.3,359.4 110.7,358.3 111.1,358 111.5,357.3 111.9,356.7 112.3,356.1 112.7,356.6 113.1,357 113.5,357.4 113.9,357 114.3,358.2 114.7,358.9 115.1,359.1 115.5,358.9 115.8,358.4 116.2,358.5 116.6,358.7 117,358 117.4,358.6 117.8,359.5 118.2,358.5 118.6,358.5 119,358.6 119.4,358.1 119.8,358.7 120.2,358.1 120.6,357.7 121,358.1 121.4,357.1 121.8,355.7 122.1,355.7 122.5,355.2 122.9,355.3 123.3,354.2 123.7,354.3 124.1,353.5 124.5,354.2 124.9,354.5 125.3,354.3 125.7,355.1 126.1,355.3 126.5,355.7 126.9,356.4 127.3,356.3 127.7,355.8 128.1,356.5 128.4,356.6 128.8,357.4 129.2,357.6 129.6,358 130,358.5 130.4,359 130.8,360.1 131.2,359.5 131.6,359.4 132,358.6 132.4,358.2 132.8,358.3 133.2,357.8 133.6,357.3 134,356.5 134.4,356.4 134.7,356.6 135.1,356.5 135.5,356.2 135.9,356.5 136.3,355.4 136.7,355.2 137.1,355.7 137.5,355.7 137.9,355.9 138.3,356.5 138.7,356.1 139.1,355.9 139.5,356.4 139.9,356.6 140.3,356.6 140.7,356.9 141,357.1 141.4,356.7 141.8,356.9 142.2,357.1 142.6,356.9 143,357.3 143.4,357 143.8,357.4 144.2,357.4 144.6,357.6 145,357.7 145.4,358 145.8,357.3 146.2,357.5 146.6,357.1 147,356.5 147.3,356.9 147.7,356.4 148.1,356.3 148.5,356.5 148.9,356.3 149.3,356.1 149.7,356.3 150.1,356.8 150.5,355.3 150.9,355.3 151.3,355 151.7,354.8 152.1,354.9 152.5,355 152.9,355.2 153.3,355.3 153.6,355.8 154,356.2 154.4,355.9 154.8,356.2 155.2,357.1 155.6,357.5 156,357.7 156.4,357.6 156.8,357.3 157.2,357.8 157.6,358.2 158,358 158.4,358.1 158.8,358.6 159.2,358.8 159.6,358.8 159.9,359.1 160.3,358.8 160.7,358.7 161.1,359.4 161.5,358.9 161.9,358.6 162.3,358.9 162.7,359.4 163.1,359.5 163.5,359.8 163.9,360.4 164.3,359.9 164.7,360.4 165.1,360.4 165.5,359.9 165.9,358.9 166.2,358.8 166.6,358.8 167,359.1 167.4,358.8 167.8,359.3 168.2,359.5 168.6,359.8 169,359.6 169.4,359.6 169.8,359.7 170.2,359.7 170.6,359.7 171,360.1 171.4,360.4 171.8,360.3 172.2,360.3 172.5,360.1 172.9,360.2 173.3,360 173.7,359.9 174.1,360.1 174.5,360.1 174.9,359.7 175.3,360 175.7,359.3 176.1,358.3 176.5,357.9 176.9,357.8 177.3,357.8 177.7,357.5 178.1,357.7 178.5,357.5 178.8,357.9 179.2,357.8 179.6,358.3 180,358 180.4,357.2 180.8,356.8 181.2,356.9 181.6,357.2 182,357.1 182.4,357.6 182.8,357.6 183.2,357.8 183.6,358 184,358.5 184.4,358.2 184.8,359.2 185.1,359.6 185.5,359.3 185.9,359.8 186.3,359.9 186.7,360.3 187.1,360.6 187.5,360.4 187.9,361 188.3,360.8 188.7,360.3 189.1,360.9 189.5,360.7 189.9,360.6 190.3,360.9 190.7,360.7 191.1,360.9 191.4,360.5 191.8,361 192.2,361.1 192.6,361.1 193,360.2 193.4,360.3 193.8,360.7 194.2,360.3 194.6,360.6 195,360.1 195.4,360.9 195.8,360.4 196.2,360.6 196.6,360 197,360.3 197.4,360.1 197.7,360.2 198.1,359.7 198.5,359.4 198.9,359.9 199.3,358.9 199.7,358.3 200.1,358.2 200.5,357.8 200.9,358.3 201.3,358.2 201.7,357.5 202.1,356.7 202.5,357.1 202.9,357.6 203.3,357.5 203.7,357.4 204,356.8 204.4,356.6 204.8,355.9 205.2,355.3 205.6,356.3 206,355.8 206.4,356.3 206.8,355 207.2,354.1 207.6,353.4 208,352.9 208.4,353.8 208.8,354 209.2,354.9 209.6,356.2 210,356.9 210.3,356 210.7,355.5 211.1,355.2 211.5,354.4 211.9,354.2 212.3,353.4 212.7,353.5 213.1,353.4 213.5,352.9 213.9,352.8 214.3,351 214.7,350.3 215.1,350.4 215.5,350.4 215.9,350.1 216.3,349.8 216.6,349.5 217,350.4 217.4,349.5 217.8,347.9 218.2,348.7 218.6,349.1 219,349.6 219.4,349.4 219.8,349.1 220.2,349.2 220.6,349.5 221,350.2 221.4,349.6 221.8,350.7 222.2,350.4 222.6,350.5 222.9,351.3 223.3,349.3 223.7,346.8 224.1,346.8 224.5,345.2 224.9,343.6 225.3,343.2 225.7,343.4 226.1,340.8 226.5,339.8 226.9,337.7 227.3,338.8 227.7,337.8 228.1,337.4 228.5,338.3 228.9,336.9 229.2,336.7 229.6,338.6 230,338.7 230.4,337.1 230.8,337.3 231.2,336.2 231.6,336.7 232,337.7 232.4,335.8 232.8,334.4 233.2,334 233.6,334.2 234,333 234.4,333.7 234.8,332.1 235.2,332.5 235.5,333.7 235.9,334.9 236.3,335.2 236.7,334.9 237.1,336 237.5,335.9 237.9,336.8 238.3,336.6 238.7,336.3 239.1,337.3 239.5,337.4 239.9,337.8 240.3,339.5 240.7,341.5 241.1,343.3 241.5,342.7 241.8,342.1 242.2,343.8 242.6,342.8 243,342.9 243.4,341.8 243.8,342.5 244.2,342.5 244.6,342.6 245,340.9 245.4,340.7 245.8,339.5 246.2,339.7 246.6,340.2 247,340.2 247.4,341.3 247.8,340.2 248.1,341 248.5,339.5 248.9,338.5 249.3,340 249.7,339 250.1,337.4 250.5,336.4 250.9,336.1 251.3,338.5 251.7,338.8 252.1,340.1 252.5,339.8 252.9,340.2 253.3,340.7 253.7,343.1 254.1,342.6 254.4,343.7 254.8,344.6 255.2,343.3 255.6,343.2 256,342.1 256.4,340.8 256.8,341.2 257.2,341.7 257.6,341.5 258,340.1 258.4,341.8 258.8,341.9 259.2,342.8 259.6,344.1 260,343.6 260.4,344 260.7,343.4 261.1,344 261.5,344.4 261.9,345.4 262.3,346.2 262.7,346.9 263.1,347.6 263.5,347.4 263.9,347.4 264.3,347.7 264.7,348.1 265.1,348.5 265.5,348.5 265.9,348.2 266.3,348.1 266.7,349.4 267,349.6 267.4,350.2 267.8,350.3 268.2,352.1 268.6,352.6 269,353.2 269.4,352.8 269.8,353.4 270.2,354.4 270.6,354.7 271,356.1 271.4,355.9 271.8,356.2 272.2,356.4 272.6,357.6 273,357.4 273.3,356.3 273.7,354.8 274.1,353.5 274.5,351.6 274.9,350.4 275.3,349.4 275.7,349.2 276.1,350.3 276.5,349.9 276.9,350 277.3,349.5 277.7,349.8 278.1,350.4 278.5,351.9 278.9,351.3 279.3,351.1 279.6,351.2 280,352 280.4,351.3 280.8,351.4 281.2,350.4 281.6,350.2 282,349.7 282.4,349 282.8,349 283.2,348.7 283.6,348.4 284,349 284.4,349.2 284.8,350 285.2,351.1 285.6,351.2 285.9,350.2 286.3,349.5 286.7,349.9 287.1,350.5 287.5,349.7 287.9,349.3 288.3,349.2 288.7,349.5 289.1,349.4 289.5,350.2 289.9,350.1 290.3,350.3 290.7,351.2 291.1,351.4 291.5,352.2 291.9,352.8 292.2,353.9 292.6,354 293,354.2 293.4,353.7 293.8,353.7 294.2,353.1 294.6,351.7 295,351.2 295.4,351 295.8,350.8 296.2,351.3 296.6,351.7 297,350.9 297.4,351 297.8,350 298.2,350.1 298.5,350.3 298.9,351.9 299.3,350.7 299.7,349.2 300.1,348 300.5,347.5 300.9,346.1 301.3,345.2 301.7,344.9 302.1,345.1 302.5,345 302.9,344.6 303.3,345.5 303.7,346 304.1,345.7 304.5,345.3 304.8,345.7 305.2,347.2 305.6,347.8 306,348.2 306.4,347.8 306.8,347.4 307.2,346 307.6,344.5 308,344.6 308.4,343.9 308.8,341.6 309.2,340.3 309.6,341.2 310,342.9 310.4,345 310.8,346.7 311.1,347.4 311.5,344 311.9,340.7 312.3,337 312.7,333.8 313.1,329.1 313.5,326.9 313.9,325.8 314.3,324.4 314.7,323.6 315.1,325 315.5,325.1 315.9,324.2 316.3,327.5 316.7,329.3 317.1,331.1 317.4,335.2 317.8,335.8 318.2,335.6 318.6,335.9 319,336.3 319.4,336.3 319.8,337.4 320.2,337.8 320.6,338.8 321,340.3 321.4,340.6 321.8,341.2 322.2,341.9 322.6,342.4 323,343.2 323.4,344.4 323.7,345.6 324.1,344.6 324.5,344.4 324.9,343.4 325.3,343.7 325.7,344.8 326.1,346.3 326.5,346.2 326.9,347.1 327.3,348.5 327.7,349.8 328.1,350.4 328.5,350.6 328.9,349.8 329.3,349.9 329.7,349.5 330,349.2 330.4,348.2 330.8,348 331.2,349.2 331.6,348.4 332,349 332.4,348.7 332.8,348.9 333.2,348.3 333.6,348.5 334,349.4 334.4,348.7 334.8,347.7 335.2,347.8 335.6,347.4 336,348.4 336.3,346.9 336.7,346.9 337.1,345.3 337.5,346.8 337.9,346.1 338.3,345 338.7,346.2 339.1,346.7 339.5,348.5 339.9,349.1 340.3,348.4 340.7,347.8 341.1,347.3 341.5,346.2 341.9,345.8 342.3,344.9 342.6,343.6 343,343 343.4,343.3 343.8,342.9 344.2,343.4 344.6,342.7 345,344.2 345.4,344.8 345.8,344.5 346.2,344.3 346.6,344.9 347,345.7 347.4,345.6 347.8,345.9 348.2,346.2 348.6,345.1 348.9,344.6 349.3,343.5 349.7,343.8 350.1,344.1 350.5,343.6 350.9,344.6 351.3,344.5 351.7,342.9 352.1,344 352.5,343.8 352.9,345.4 353.3,347.2 353.7,347.5 354.1,348.1 354.5,348.7 354.9,348.7 355.2,349.7 355.6,351.5 356,351.4 356.4,352.3 356.8,352.5 357.2,353.6 357.6,354.5 358,355.3 358.4,354.2 358.8,353.9 359.2,352.9 359.6,352.4 360,353 360.4,351.8 360.8,353 361.2,349.6 361.5,341.2 361.9,332.3 362.3,334.2 362.7,337.2 363.1,341 363.5,343.4 363.9,347.1 364.3,346.8 364.7,348.5 365.1,349 365.5,350.3 365.9,349.9 366.3,348.6 366.7,347.6 367.1,346.3 367.5,346.5 367.8,346 368.2,346.7 368.6,346.5 369,345.6 369.4,345.1 369.8,345.4 370.2,344.6 370.6,345 371,345 371.4,345.1 371.8,344.5 372.2,344.5 372.6,344 373,344.2 373.4,345.8 373.8,345.3 374.1,343.6 374.5,341.3 374.9,339.9 375.3,338 375.7,338.3 376.1,336.1 376.5,335.4 376.9,333.9 377.3,334.3 377.7,335.8 378.1,335.5 378.5,335.5 378.9,335.7 379.3,336.8 379.7,334.9 380.1,334.6 380.4,334.1 380.8,333.3 381.2,334.1 381.6,337 382,335.9 382.4,336.4 382.8,336.6 383.2,335.9 383.6,335.4 384,336.2 384.4,336.1 384.8,338.4 385.2,336.1 385.6,337.8 386,338.3 386.4,338 386.7,337.8 387.1,338.4 387.5,338.5 387.9,340.2 388.3,340.8 388.7,340.1 389.1,342.1 389.5,343.7 389.9,344.7 390.3,346.1 390.7,344.9 391.1,345.6 391.5,345.4 391.9,345.2 392.3,345.5 392.7,343.7 393,343.4 393.4,342.3 393.8,342.3 394.2,343 394.6,343.5 395,343.4 395.4,345.6 395.8,345.8 396.2,345.2 396.6,345.4 397,346.8 397.4,348.1 397.8,347.9 398.2,347.4 398.6,346.9 399,347.7 399.3,347.2 399.7,348.2 400.1,349.7 400.5,350.2 400.9,351.1 401.3,351.8 401.7,353.5 402.1,352.4 402.5,352.3 402.9,351.7 403.3,351.1 403.7,350.5 404.1,349.7 404.5,348.8 404.9,347.4 405.3,346.9 405.6,347.4 406,348.5 406.4,348.2 406.8,347.8 407.2,343.9 407.6,341.1 408,338.4 408.4,339.1 408.8,339.5 409.2,341.7 409.6,343.1 410,343.9 410.4,344.7 410.8,344.7 411.2,345.3 411.6,345.7 411.9,345.5 412.3,345.9 412.7,346.2 413.1,346.5 413.5,347.6 413.9,348.8 414.3,349.9 414.7,351.5 415.1,351.7 415.5,353.2 415.9,354.2 416.3,355.2 416.7,355.6 417.1,355.8 417.5,356 417.9,356.2 418.2,355.7 418.6,356.9 419,357.2 419.4,357 419.8,357.3 420.2,356.1 420.6,356.5 421,356.5 421.4,356.2 421.8,356 422.2,355.6 422.6,356.2 423,357 423.4,357.2 423.8,357.1 424.2,355.9 424.5,356.2 424.9,356 425.3,356.1 425.7,357 426.1,356.7 426.5,355.8 426.9,355.5 427.3,355.4 427.7,355.1 428.1,354.3 428.5,354.3 428.9,354.9 429.3,354.1 429.7,353.6 430.1,352.8 430.5,352 430.8,351.2 431.2,351.5 431.6,352.7 432,353.8 432.4,354.1 432.8,354.2 433.2,355.6 433.6,355.2 434,354.5 434.4,355.3 434.8,355.2 435.2,355.2 435.6,354.2 436,354.2 436.4,354.1 436.8,354.8 437.1,354.9 437.5,354.8 437.9,355 438.3,355.5 438.7,356.7 439.1,356.9 439.5,357.1 439.9,357 440.3,357.2 440.7,357.1 441.1,357.5 441.5,357.7 441.9,358.6 442.3,358.4 442.7,357.9 443.1,357.9 443.4,356.2 443.8,355.9 444.2,356.1 444.6,356.7 445,356.7 445.4,357.1 445.8,357.2 446.2,357.4 446.6,357.4 447,357.2 447.4,354.8 447.8,352.6 448.2,351.9 448.6,350.2 449,348.7 449.4,346.9 449.7,345.8 450.1,343.9 450.5,342.2 450.9,341.2 451.3,341.2 451.7,340.4 452.1,341.4 452.5,341.1 452.9,340.7 453.3,342.2 453.7,343.9 454.1,346.3 454.5,347.8 454.9,350 455.3,349.3 455.7,346.1 456,345.2 456.4,342.5 456.8,341.1 457.2,340.7 457.6,339 458,339.7 458.4,339.8 458.8,340.2 459.2,340.2 459.6,342.1 460,344.6 460.4,346.7 460.8,347.6 461.2,348.3 461.6,347.5 462,347.5 462.3,347.6 462.7,347.2 463.1,346.7 463.5,345.2 463.9,345.8 464.3,345.1 464.7,344.7 465.1,343.3 465.5,343.7 465.9,345.3 466.3,344.3 466.7,344.4 467.1,344.5 467.5,342.9 467.9,342.8 468.3,342 468.6,342.7 469,342.7 469.4,341.8 469.8,342 470.2,342.4 470.6,342 471,341.8 471.4,341.5 471.8,341.9 472.2,342.9 472.6,344.4 473,345 473.4,344.6 473.8,345.4 474.2,345.6 474.6,346.6 474.9,346.6 475.3,346.6 475.7,347.4 476.1,347.4 476.5,348.3 476.9,348.7 477.3,349.1 477.7,349.5 478.1,350.2 478.5,349 478.9,349.1 479.3,349.1 479.7,348.1 480.1,349.1 480.5,349.2 480.9,349.4 481.2,349.4 481.6,349.9 482,348.3 482.4,348.2 482.8,347.5 483.2,347.6 483.6,348.1 484,347.2 484.4,347 484.8,346.2 485.2,344.7 485.6,345 486,343.6 486.4,343.6 486.8,343.9 487.2,343.9 487.5,344 487.9,342.3 488.3,341.7 488.7,342 489.1,342.7 489.5,343.3 489.9,344 490.3,344.3 490.7,344.2 491.1,344.6 491.5,345 491.9,346.1 492.3,347.3 492.7,347.5 493.1,348.1 493.5,348.7 493.8,349.4 494.2,350.3 494.6,350.2 495,349 495.4,348.9 495.8,349.1 496.2,349.8 496.6,349.3 497,347.5 497.4,348.8 497.8,349.1 498.2,348.2 498.6,348.1 499,348.2 499.4,350.1 499.8,350.8 500.1,349.8 500.5,350.6 500.9,349.6 501.3,350.6 501.7,349.3 502.1,347.1 502.5,346.8 502.9,347 503.3,346.3 503.7,344.6 504.1,345.3 504.5,346.4 504.9,344.8 505.3,346.4 505.7,345.7 506.1,348.5 506.4,348.9 506.8,348.6 507.2,349.2 507.6,349.2 508,348.6 508.4,349.3 508.8,348.6 509.2,347.6 509.6,347.4 510,345.5 510.4,343.2 510.8,341.7 511.2,339.8 511.6,338.9 512,338 512.4,337.5 512.7,337.8 513.1,337.5 513.5,335.9 513.9,336.9 514.3,337.4 514.7,335.5 515.1,336 515.5,335.7 515.9,337.4 516.3,338.7 516.7,339.6 517.1,339.5 517.5,340.2 517.9,340.8 518.3,342.6 518.7,343.8 519,343.9 519.4,345.4 519.8,346.1 520.2,345.7 520.6,346.7 521,346.7 521.4,346.7 521.8,347.1 522.2,347 522.6,347.3 523,347.4 523.4,349.2 523.8,349.6 524.2,349.2 524.6,349.9 525,349.3 525.3,349.1 525.7,348.9 526.1,348.6 526.5,348.8 526.9,348.4 527.3,348.3 527.7,349.2 528.1,349.5 528.5,349.2 528.9,347.3 529.3,348.3 529.7,349.7 530.1,350.5 530.5,350 530.9,350.6 531.3,350.1 531.6,349.9 532,348.3 532.4,347.8 532.8,348.6 533.2,348.6 533.6,347.3 534,347.8 534.4,347.9 534.8,347.1 535.2,347.9 535.6,348.1 536,347.7 536.4,347.1 536.8,349.3 537.2,349.1 537.6,350 537.9,350.7 538.3,351 538.7,350.8 539.1,351.2 539.5,352 539.9,352.8 540.3,352.2 540.7,351.8 541.1,352.9 541.5,353.6 541.9,353.6 542.3,353.1 542.7,353.6 543.1,353.7 543.5,354.6 543.9,354.2 544.2,353.7 544.6,354.4 545,354 545.4,354.1 545.8,354.4 546.2,354.4 546.6,354.5 547,353.7 547.4,353.8 547.8,354.5 548.2,354.4 548.6,354.9 549,354.2 549.4,353.3 549.8,353.3 550.2,353.3 550.5,354.7 550.9,354.6 551.3,353.9 551.7,354.2 552.1,353.7 552.5,353.6 552.9,355.3 553.3,355.2 553.7,355.9 554.1,356 554.5,356.7 554.9,356.6 555.3,357.3 555.7,356.7 556.1,355.9 556.5,356 556.8,355.9 557.2,355.8 557.6,355.5 558,355.5 558.4,354.7 558.8,355.1 559.2,355.1 559.6,354.9 560,355.4 560.4,356.4 560.8,356.8 561.2,357.2 561.6,356.3 562,355.6 562.4,355.9 562.8,355.5 563.1,354.7 563.5,354.4 563.9,354.6 564.3,354.7 564.7,353.6 565.1,353.5 565.5,352.6 565.9,351.9 566.3,352.1 566.7,352 567.1,352.3 567.5,353.8 567.9,354.4 568.3,354.5 568.7,353.7 569.1,353.5 569.4,352.9 569.8,353 570.2,353 570.6,352.5 571,352.6 571.4,352.4 571.8,351.9 572.2,351.6 572.6,352.3 573,353.4 573.4,354 573.8,354.4 574.2,354.4 574.6,354.7 575,354 575.4,355.4 575.7,356.2 576.1,355.5 576.5,355.4 576.9,356.2 577.3,355.5 577.7,355.4 578.1,356.2 578.5,356.1 578.9,356.3 579.3,357 579.7,356.6 580.1,356.8 580.5,357.4 580.9,357.6 581.3,358.5 581.7,358.2 582,359.8 582.4,359.4 582.8,360.3 583.2,360 583.6,360.1 584,359.7 584.4,359.3 584.8,359.7 585.2,360 585.6,359.4 586,359.2 586.4,358.4 586.8,357.8 587.2,357.5 587.6,357 588,355.7 588.3,357.2 588.7,358.7 589.1,359.6 589.5,360.4 589.9,360.3 590.3,360.3 590.7,360.2 591.1,360 591.5,359.3 591.9,359.1 592.3,359.8 592.7,359.7 593.1,359.4 593.5,360 593.9,360.3 594.3,360.3 594.6,359.8 595,360 595.4,359.8 595.8,360.1 596.2,360.3 596.6,360.5 597,361 597.4,361.2 597.8,361.8 598.2,361.5 598.6,361.4 599,361.5 599.4,361.7 599.8,362.5 600.2,362.8 600.6,362.5 600.9,362.1 601.3,362.3 601.7,362.6 602.1,362.9 602.5,362.8 602.9,362.6 603.3,362.3 603.7,362.3 604.1,362.9 604.5,362.2 604.9,361.7 605.3,361.7 605.7,361.6 606.1,361 606.5,361.9 606.9,361.6 607.2,361.8 607.6,361.7 608,361.9 608.4,361.7 608.8,361.6 609.2,361.9 609.6,361.8 610,361.6 610.4,361.8 610.8,361.9 611.2,362.3 611.6,361.9 612,362.1 612.4,361.9 612.8,362 613.2,361 613.5,360.3 613.9,359.4 614.3,357.8 614.7,357.6 615.1,358 615.5,357.4 615.9,357.1 616.3,357.6 616.7,357.3 617.1,357.7 617.5,357.5 617.9,357.6 618.3,357.2 618.7,356 619.1,355.4 619.5,355.2 619.8,354.9 620.2,353.4 620.6,351.9 621,350.8 621.4,350 621.8,350.4 622.2,350.7 622.6,350.3 623,350.1 623.4,350.7 623.8,350 624.2,349.6 624.6,348.7 625,350.8 625.4,350.5 625.8,350.8 626.1,350.4 626.5,350.5 626.9,350.1 627.3,350.3 627.7,350.8 628.1,351.4 628.5,351.5 628.9,352 629.3,350.4 629.7,349.9 630.1,349.8 630.5,350.4 630.9,350.7 631.3,350 631.7,350.3 632.1,350.6 632.4,351.1 632.8,350 633.2,350.5 633.6,351.8 634,352.6 634.4,352.9 634.8,353.2 635.2,353 635.6,352.3 636,352 636.4,352.8 636.8,352.7 637.2,353 637.6,353.1 638,353.1 638.4,353.7 638.7,353.4 639.1,354.6 639.5,354.4 639.9,353.7 640.3,354.8 640.7,355.2 641.1,355.4 641.5,355.9 641.9,355.7 642.3,355 642.7,353.8 643.1,354.9 643.5,354.8 643.9,355.3 644.3,355.5 644.7,355.2 645,355.6 645.4,356 645.8,356.4 646.2,357.3 646.6,357.3 647,357.8 647.4,357.3 647.8,357.6 649,357.6"/>
<polyline fill="none" stroke="#1a1008" stroke-width="1.1" stroke-linejoin="round" points="81,363.3 81.2,363.3 81.6,363.4 82,363.4 82.4,363.4 82.8,363.7 83.2,363.8 83.6,363.9 84,363.4 84.3,363.2 84.7,363.2 85.1,363.3 85.5,363 85.9,363.4 86.3,363.3 86.7,363.4 87.1,363.8 87.5,363.4 87.9,363.2 88.3,363.7 88.7,363.8 89.1,363.9 89.5,363.8 89.9,364.1 90.3,364 90.6,363.8 91,363.7 91.4,363.7 91.8,363.7 92.2,363.3 92.6,363.5 93,363.6 93.4,364 93.8,364.2 94.2,363.9 94.6,363.8 95,363.8 95.4,363.7 95.8,363.8 96.2,363.8 96.6,363.9 96.9,363.9 97.3,363.6 97.7,363.7 98.1,363.7 98.5,363.7 98.9,363.8 99.3,363.6 99.7,363.5 100.1,363.1 100.5,362.9 100.9,363 101.3,363.4 101.7,363.6 102.1,363.7 102.5,363.8 102.9,363.7 103.2,363.8 103.6,363.5 104,363.4 104.4,363.6 104.8,363.8 105.2,363.6 105.6,363.6 106,363.6 106.4,363.7 106.8,363.7 107.2,363.9 107.6,363.8 108,363.8 108.4,364.4 108.8,364.2 109.2,364.4 109.5,364.6 109.9,364.7 110.3,364.4 110.7,364.7 111.1,364.8 111.5,365.2 111.9,365.4 112.3,365.3 112.7,365.4 113.1,365.4 113.5,365.3 113.9,365.7 114.3,365.3 114.7,365.3 115.1,365.3 115.5,365.6 115.8,365.5 116.2,365.5 116.6,365.6 117,366 117.4,366 117.8,365.5 118.2,366.1 118.6,366.1 119,366.4 119.4,366.5 119.8,366.6 120.2,367.2 120.6,367.1 121,366.9 121.4,366.9 121.8,366.7 122.1,366.9 122.5,367.1 122.9,366.7 123.3,366.9 123.7,366.8 124.1,367.2 124.5,366.9 124.9,367 125.3,367.7 125.7,367.6 126.1,367.7 126.5,367.8 126.9,367.3 127.3,367.5 127.7,367.3 128.1,366.7 128.4,366.5 128.8,366.2 129.2,366 129.6,366.3 130,366.2 130.4,366 130.8,366.2 131.2,366.2 131.6,366.5 132,366.5 132.4,366.9 132.8,366.5 133.2,366.5 133.6,366.8 134,366.5 134.4,366 134.7,365.7 135.1,365.7 135.5,365.7 135.9,365.6 136.3,365.6 136.7,365.6 137.1,365.2 137.5,365.4 137.9,365.3 138.3,365.2 138.7,364.9 139.1,365 139.5,364.6 139.9,364.7 140.3,365 140.7,365 141,365.1 141.4,365.4 141.8,365.4 142.2,365.5 142.6,366.1 143,366.1 143.4,365.8 143.8,365.9 144.2,366.3 144.6,366.1 145,365.9 145.4,366 145.8,366.2 146.2,366.1 146.6,366.5 147,366.3 147.3,365.9 147.7,366 148.1,366.1 148.5,365.7 148.9,365.8 149.3,365.9 149.7,365.9 150.1,365.7 150.5,365.9 150.9,366 151.3,366 151.7,366 152.1,366.1 152.5,366.1 152.9,365.7 153.3,365.8 153.6,365.6 154,365.4 154.4,365.3 154.8,365.1 155.2,364.8 155.6,364.9 156,365.2 156.4,365 156.8,365 157.2,364.9 157.6,364.7 158,364.7 158.4,364.7 158.8,364.4 159.2,364.6 159.6,364.4 159.9,364.7 160.3,364.7 160.7,364.6 161.1,364.1 161.5,364 161.9,364 162.3,364.3 162.7,364.5 163.1,364.2 163.5,364.2 163.9,363.8 164.3,363.7 164.7,363.7 165.1,364 165.5,363.9 165.9,364.2 166.2,364.2 166.6,364.2 167,364.3 167.4,364.8 167.8,364.5 168.2,364.5 168.6,364.7 169,364.5 169.4,364.5 169.8,364.3 170.2,364.6 170.6,364.7 171,364.7 171.4,364.6 171.8,364.6 172.2,364.7 172.5,364.6 172.9,364.4 173.3,363.9 173.7,364.2 174.1,363.8 174.5,363.7 174.9,363.8 175.3,363.8 175.7,364 176.1,364.1 176.5,364.2 176.9,364 177.3,364 177.7,363.9 178.1,363.9 178.5,364.6 178.8,364.5 179.2,364.8 179.6,365.2 180,365.1 180.4,364.9 180.8,365 181.2,365.2 181.6,365.2 182,364.8 182.4,364.7 182.8,365 183.2,365.1 183.6,365.3 184,365.1 184.4,365.4 184.8,365.2 185.1,365.5 185.5,365.6 185.9,365.6 186.3,365.3 186.7,365.4 187.1,365.2 187.5,365.2 187.9,365.1 188.3,364.8 188.7,364.7 189.1,364.6 189.5,364.6 189.9,364.7 190.3,365.2 190.7,365.2 191.1,365 191.4,365.2 191.8,365.2 192.2,365.2 192.6,365.2 193,365.4 193.4,365.3 193.8,365.2 194.2,365.2 194.6,365.3 195,365.7 195.4,365.7 195.8,365.5 196.2,365.2 196.6,365.4 197,365.2 197.4,365.3 197.7,365.1 198.1,365.3 198.5,365.4 198.9,365.1 199.3,365.1 199.7,365.2 200.1,365.3 200.5,365.6 200.9,365.6 201.3,365.2 201.7,365.5 202.1,365.9 202.5,365.9 202.9,365.9 203.3,365.9 203.7,365.8 204,366.2 204.4,366.4 204.8,366.8 205.2,367.2 205.6,367.4 206,367.7 206.4,367.5 206.8,367.7 207.2,368.3 207.6,368.2 208,367.9 208.4,368 208.8,368.4 209.2,368.1 209.6,367.8 210,368 210.3,368 210.7,367.3 211.1,367.3 211.5,367.5 211.9,367.6 212.3,367.7 212.7,367.9 213.1,368.1 213.5,367.6 213.9,367.8 214.3,368.2 214.7,368 215.1,367.9 215.5,368 215.9,367.7 216.3,368.2 216.6,368.8 217,368.8 217.4,369.1 217.8,369.4 218.2,368.8 218.6,369.2 219,369.4 219.4,369.7 219.8,369.8 220.2,370 220.6,369.9 221,369.7 221.4,370.4 221.8,370.1 222.2,370.4 222.6,370.7 222.9,370.3 223.3,370.4 223.7,371.4 224.1,371.2 224.5,372.5 224.9,372.8 225.3,373.6 225.7,373.9 226.1,374.3 226.5,373.9 226.9,374.6 227.3,374.7 227.7,375.3 228.1,375.7 228.5,374.8 228.9,374.5 229.2,374.7 229.6,374.2 230,374.6 230.4,375.1 230.8,374.8 231.2,375.6 231.6,374.8 232,374.6 232.4,374.6 232.8,374.7 233.2,374.4 233.6,374.7 234,375 234.4,374.8 234.8,375.7 235.2,375.7 235.5,375.7 235.9,375.6 236.3,374.8 236.7,375 237.1,374.2 237.5,373.8 237.9,374.2 238.3,374.6 238.7,374.6 239.1,373.9 239.5,374 239.9,373.4 240.3,372.8 240.7,372.6 241.1,372.2 241.5,372.1 241.8,372.2 242.2,372 242.6,371.3 243,370.7 243.4,370.4 243.8,370 244.2,369.9 244.6,370.1 245,369.5 245.4,369.7 245.8,369.4 246.2,369.7 246.6,369.5 247,370.2 247.4,369.6 247.8,369.6 248.1,369.6 248.5,369.6 248.9,369.8 249.3,369.5 249.7,369.9 250.1,370.7 250.5,370.9 250.9,371 251.3,370.2 251.7,370.3 252.1,370.2 252.5,370.9 252.9,370.5 253.3,369.9 253.7,369.6 254.1,369.8 254.4,369.7 254.8,369.7 255.2,369.8 255.6,369.7 256,369.3 256.4,370.2 256.8,369.6 257.2,369.3 257.6,369.5 258,369.6 258.4,368.9 258.8,368.7 259.2,368.4 259.6,368.2 260,368.5 260.4,368.3 260.7,368.3 261.1,368.5 261.5,368.6 261.9,368.8 262.3,368.3 262.7,368.5 263.1,368.8 263.5,368.8 263.9,368.3 264.3,368.8 264.7,369 265.1,368.9 265.5,369 265.9,368.7 266.3,368.9 266.7,368.2 267,367.8 267.4,367.9 267.8,367.9 268.2,367.5 268.6,367.8 269,368.2 269.4,367.8 269.8,367.8 270.2,367.5 270.6,367.8 271,367.5 271.4,368 271.8,367.8 272.2,368.6 272.6,368.8 273,369.4 273.3,369.2 273.7,368.4 274.1,367.6 274.5,367.7 274.9,367.6 275.3,367.4 275.7,366.5 276.1,366.6 276.5,366.5 276.9,366.8 277.3,366.6 277.7,366.9 278.1,366.7 278.5,366.5 278.9,367.1 279.3,366.8 279.6,366.7 280,366.7 280.4,367.1 280.8,367.3 281.2,367.5 281.6,367.2 282,367.1 282.4,367.2 282.8,367.3 283.2,367.3 283.6,367.7 284,367.2 284.4,366.9 284.8,367.1 285.2,367 285.6,366.8 285.9,367.2 286.3,367.5 286.7,366.9 287.1,366.7 287.5,366.8 287.9,367.1 288.3,367.1 288.7,367.1 289.1,367.4 289.5,367.3 289.9,367.4 290.3,367.5 290.7,366.9 291.1,366.9 291.5,366.9 291.9,366.6 292.2,366.5 292.6,366.6 293,366.5 293.4,366.9 293.8,366.2 294.2,366 294.6,366.2 295,366.2 295.4,366.1 295.8,366.1 296.2,365.8 296.6,365.7 297,366 297.4,366.3 297.8,366.6 298.2,366.5 298.5,366.5 298.9,365.9 299.3,366 299.7,367 300.1,367.1 300.5,367.2 300.9,367.7 301.3,368 301.7,368.4 302.1,368.4 302.5,368.5 302.9,368.9 303.3,368.5 303.7,368.8 304.1,368.5 304.5,368.4 304.8,368.2 305.2,367.7 305.6,368.2 306,367.7 306.4,367.6 306.8,368.4 307.2,368.2 307.6,369 308,368.7 308.4,368.5 308.8,368.3 309.2,369.3 309.6,369.7 310,369.4 310.4,369 310.8,369.5 311.1,369.6 311.5,370.7 311.9,371.4 312.3,372 312.7,372.6 313.1,374.2 313.5,374.2 313.9,374.7 314.3,375.4 314.7,375.3 315.1,374.5 315.5,374.1 315.9,374.6 316.3,373.8 316.7,373.4 317.1,373.6 317.4,372.9 317.8,372.6 318.2,372.8 318.6,372.6 319,373.2 319.4,373.2 319.8,372.8 320.2,372.8 320.6,373.1 321,372.2 321.4,371.5 321.8,371.1 322.2,371.1 322.6,371 323,370.4 323.4,371.1 323.7,370.5 324.1,370.8 324.5,370.7 324.9,370.8 325.3,370.5 325.7,370.2 326.1,369.7 326.5,369.8 326.9,369.8 327.3,369.8 327.7,369.7 328.1,369.5 328.5,369.3 328.9,369.6 329.3,369.3 329.7,368.8 330,368.8 330.4,368.9 330.8,369.4 331.2,368.8 331.6,369.3 332,368.7 332.4,368.5 332.8,369.1 333.2,369.6 333.6,369.2 334,368.9 334.4,369.6 334.8,369.4 335.2,369 335.6,368.8 336,368.4 336.3,368.5 336.7,368.4 337.1,368.6 337.5,368.1 337.9,368.5 338.3,369.1 338.7,368.9 339.1,368.6 339.5,367.8 339.9,368 340.3,368 340.7,368 341.1,367.5 341.5,367.8 341.9,367.8 342.3,367.6 342.6,367.5 343,367.4 343.4,367.7 343.8,368.3 344.2,367.7 344.6,368.5 345,368.4 345.4,368.2 345.8,368.3 346.2,368.8 346.6,369.2 347,369.1 347.4,368.7 347.8,368.7 348.2,368.4 348.6,368.6 348.9,368.5 349.3,369.1 349.7,368.6 350.1,368.8 350.5,369 350.9,368.7 351.3,368.3 351.7,369.3 352.1,369.3 352.5,369.6 352.9,369.1 353.3,368 353.7,368.7 354.1,368.9 354.5,369 354.9,368.3 355.2,368.1 355.6,368 356,368.5 356.4,367.8 356.8,368.5 357.2,368.7 357.6,368.3 358,368.3 358.4,368.8 358.8,369.2 359.2,369.1 359.6,368.9 360,368.7 360.4,370.6 360.8,372.6 361.2,373.8 361.5,375.3 361.9,376.7 362.3,374.9 362.7,373.4 363.1,372.1 363.5,370.3 363.9,368.3 364.3,368.4 364.7,367.6 365.1,367.3 365.5,367.3 365.9,366.8 366.3,366.6 366.7,365.8 367.1,365.1 367.5,364.9 367.8,365.5 368.2,365 368.6,365 369,365 369.4,364.9 369.8,365.1 370.2,364.9 370.6,364.9 371,364.4 371.4,364.1 371.8,364.2 372.2,364.2 372.6,364.9 373,365.2 373.4,365.3 373.8,365.6 374.1,365.8 374.5,366.6 374.9,367.4 375.3,368.2 375.7,368.4 376.1,368.8 376.5,369.2 376.9,369.8 377.3,370.2 377.7,370.1 378.1,371 378.5,371.3 378.9,372.1 379.3,371.9 379.7,372 380.1,372.7 380.4,373.4 380.8,373.8 381.2,373.4 381.6,372.8 382,373.6 382.4,373.3 382.8,373.6 383.2,374.4 383.6,374.4 384,375 384.4,375.5 384.8,375 385.2,375.6 385.6,375.8 386,375.5 386.4,375.7 386.7,375.2 387.1,374.3 387.5,373.4 387.9,373.1 388.3,372.1 388.7,372.2 389.1,371.4 389.5,370.7 389.9,371.1 390.3,371.5 390.7,372.4 391.1,372.8 391.5,373.3 391.9,373.3 392.3,373.1 392.7,373.5 393,374 393.4,375.3 393.8,375.6 394.2,375.5 394.6,375.3 395,374.8 395.4,373.7 395.8,374 396.2,373.6 396.6,373.3 397,372.2 397.4,371.5 397.8,371.4 398.2,371.7 398.6,371.6 399,371.2 399.3,371.5 399.7,371 400.1,371 400.5,371.1 400.9,371.1 401.3,371.1 401.7,371.2 402.1,371.5 402.5,371.4 402.9,372 403.3,372.6 403.7,372.6 404.1,372.8 404.5,373.2 404.9,373.6 405.3,374 405.6,373.6 406,373.4 406.4,373.7 406.8,373.6 407.2,373.8 407.6,374.7 408,375.2 408.4,375 408.8,374.1 409.2,373.2 409.6,372.3 410,371.5 410.4,371.3 410.8,371.3 411.2,370.8 411.6,371.1 411.9,371.2 412.3,371 412.7,370.7 413.1,370.8 413.5,371 413.9,370.5 414.3,370 414.7,369.5 415.1,370 415.5,370.2 415.9,370 416.3,369.9 416.7,370 417.1,370 417.5,369.5 417.9,369.3 418.2,369.5 418.6,369.3 419,369.1 419.4,369.5 419.8,369.5 420.2,369.4 420.6,369.3 421,369.6 421.4,370 421.8,370.1 422.2,370 422.6,369.9 423,370 423.4,369.8 423.8,369.7 424.2,370.2 424.5,369.6 424.9,369.7 425.3,369.2 425.7,368.9 426.1,368.6 426.5,368.3 426.9,368.3 427.3,368.3 427.7,368.4 428.1,368.2 428.5,368.5 428.9,368.1 429.3,368 429.7,367.6 430.1,367.8 430.5,367.9 430.8,368.1 431.2,368.1 431.6,368 432,368.3 432.4,368.5 432.8,368.6 433.2,368.4 433.6,368.6 434,368.7 434.4,368.6 434.8,368.5 435.2,368.7 435.6,368.7 436,368.1 436.4,368.1 436.8,368.4 437.1,368.6 437.5,369.2 437.9,369.5 438.3,369.2 438.7,369.2 439.1,369.1 439.5,369.3 439.9,369.2 440.3,369.1 440.7,369.4 441.1,369 441.5,368.6 441.9,368.1 442.3,368.1 442.7,368.5 443.1,369.1 443.4,369.6 443.8,369.5 444.2,369.4 444.6,369.2 445,369 445.4,369.1 445.8,369.3 446.2,369.4 446.6,369.5 447,370.4 447.4,370.7 447.8,371.5 448.2,371.9 448.6,372.5 449,373.5 449.4,373.8 449.7,373.1 450.1,372.2 450.5,371.3 450.9,370.9 451.3,369.9 451.7,369.3 452.1,368.5 452.5,367.8 452.9,367.3 453.3,367.9 453.7,369 454.1,369.4 454.5,370.3 454.9,371.2 455.3,371.7 455.7,372.1 456,371.8 456.4,372.2 456.8,371.9 457.2,371.9 457.6,372.4 458,373.1 458.4,372.9 458.8,373.1 459.2,372.9 459.6,372.2 460,372.6 460.4,372.6 460.8,372.5 461.2,372.1 461.6,372.2 462,372.1 462.3,372.2 462.7,372.5 463.1,373.1 463.5,373.6 463.9,374.3 464.3,374.3 464.7,374.9 465.1,375.2 465.5,375 465.9,374.4 466.3,374.6 466.7,374.8 467.1,374.9 467.5,376 467.9,375.7 468.3,375.7 468.6,374.8 469,375 469.4,375.1 469.8,375.2 470.2,375.1 470.6,375 471,374.7 471.4,375.2 471.8,375.1 472.2,374.7 472.6,373.9 473,374 473.4,373.8 473.8,373.6 474.2,373.2 474.6,372.8 474.9,372.4 475.3,372.3 475.7,372.1 476.1,371.5 476.5,371.3 476.9,370.8 477.3,371.1 477.7,372.1 478.1,372.5 478.5,373 478.9,373 479.3,373.1 479.7,373.7 480.1,373.9 480.5,373.6 480.9,374 481.2,373.5 481.6,373.3 482,374 482.4,373.9 482.8,373.9 483.2,374.3 483.6,374.5 484,375 484.4,375.4 484.8,375.7 485.2,375.3 485.6,375.4 486,375.5 486.4,375.9 486.8,375.4 487.2,375.3 487.5,375.1 487.9,375.5 488.3,375.2 488.7,375.2 489.1,374.9 489.5,375.2 489.9,374.5 490.3,374.5 490.7,374.3 491.1,374.3 491.5,373.7 491.9,374.3 492.3,373.9 492.7,373.7 493.1,373.7 493.5,373.9 493.8,373.7 494.2,373.7 494.6,373.4 495,372.9 495.4,372.6 495.8,373 496.2,372.9 496.6,373 497,373.3 497.4,372.9 497.8,372.9 498.2,372.9 498.6,372.6 499,372.8 499.4,372.2 499.8,372.2 500.1,372.6 500.5,372.5 500.9,372.1 501.3,371.4 501.7,371.5 502.1,371.5 502.5,371 502.9,371.1 503.3,371.4 503.7,372.2 504.1,372.6 504.5,372.8 504.9,373.9 505.3,373.7 505.7,373.3 506.1,372.9 506.4,372.8 506.8,372.7 507.2,372.2 507.6,372 508,372 508.4,371.8 508.8,371.7 509.2,372.6 509.6,371.6 510,371.8 510.4,371.9 510.8,371.5 511.2,371.9 511.6,371.5 512,370.5 512.4,369.7 512.7,368.9 513.1,367.1 513.5,366.2 513.9,365.8 514.3,365.9 514.7,366.5 515.1,366.9 515.5,367.9 515.9,368.1 516.3,368.7 516.7,369.4 517.1,370.7 517.5,370.5 517.9,371.1 518.3,371.1 518.7,371.6 519,371.9 519.4,371.8 519.8,371.7 520.2,371.8 520.6,371.6 521,371.8 521.4,372.1 521.8,372.3 522.2,372.8 522.6,373.1 523,373.1 523.4,373 523.8,372.6 524.2,373 524.6,372.9 525,373.3 525.3,373.5 525.7,373.4 526.1,373.6 526.5,372.9 526.9,373.4 527.3,374.3 527.7,374.1 528.1,374.6 528.5,374.6 528.9,375.1 529.3,374.4 529.7,374.4 530.1,374.2 530.5,373.7 530.9,373.3 531.3,373.6 531.6,373.3 532,373.4 532.4,373.3 532.8,373.1 533.2,373 533.6,373.4 534,373.3 534.4,373.5 534.8,373.5 535.2,373.3 535.6,373.2 536,373.4 536.4,373 536.8,372.4 537.2,372.7 537.6,372.4 537.9,372 538.3,371.6 538.7,371.9 539.1,372 539.5,372 539.9,371.7 540.3,371.6 540.7,371.7 541.1,371.5 541.5,371.2 541.9,371.1 542.3,371.1 542.7,371.1 543.1,371 543.5,371.1 543.9,371.4 544.2,371 544.6,371.2 545,371.4 545.4,371.1 545.8,370.9 546.2,371 546.6,370.8 547,371 547.4,370.8 547.8,370.8 548.2,370.6 548.6,370.4 549,370.6 549.4,370.7 549.8,370.4 550.2,370 550.5,369.6 550.9,369.4 551.3,369.5 551.7,369.3 552.1,369.4 552.5,369.8 552.9,369.2 553.3,369.1 553.7,369.3 554.1,369.2 554.5,368.9 554.9,369 555.3,369.1 555.7,369.6 556.1,369.8 556.5,369.3 556.8,369 557.2,369.1 557.6,369.2 558,369.4 558.4,369.5 558.8,369.3 559.2,369.2 559.6,369 560,369.2 560.4,369.3 560.8,369.5 561.2,369.6 561.6,370.2 562,369.9 562.4,369.6 562.8,370.1 563.1,370.2 563.5,370 563.9,370.1 564.3,370.3 564.7,370.9 565.1,370.8 565.5,370.9 565.9,370.9 566.3,370.6 566.7,370.5 567.1,370.2 567.5,369.6 567.9,370 568.3,370 568.7,370.2 569.1,370.4 569.4,370.3 569.8,370.3 570.2,370.5 570.6,370.1 571,369.8 571.4,369.7 571.8,369.6 572.2,369.4 572.6,368.9 573,368.9 573.4,368.4 573.8,368 574.2,368 574.6,367.5 575,367.4 575.4,367 575.7,367 576.1,366.9 576.5,367.3 576.9,367.4 577.3,367.7 577.7,367.6 578.1,367.5 578.5,367.3 578.9,367.5 579.3,367.4 579.7,367.5 580.1,367.3 580.5,367.5 580.9,367.5 581.3,367.4 581.7,367.2 582,367 582.4,367 582.8,366.8 583.2,367.1 583.6,367 584,367.2 584.4,367.3 584.8,367.2 585.2,367.2 585.6,367.5 586,367.2 586.4,367.3 586.8,367.1 587.2,367.1 587.6,366.9 588,367.1 588.3,366.9 588.7,367.1 589.1,367.4 589.5,367.7 589.9,367.7 590.3,367.9 590.7,367.5 591.1,367.4 591.5,367.3 591.9,367.3 592.3,367.1 592.7,367.2 593.1,367.3 593.5,367.1 593.9,367.2 594.3,367.2 594.6,367.1 595,367.6 595.4,367.6 595.8,367.7 596.2,367.6 596.6,367.4 597,367.3 597.4,367.2 597.8,367.3 598.2,367.4 598.6,367.7 599,367.6 599.4,367.6 599.8,367.8 600.2,367.7 600.6,367.7 600.9,367.5 601.3,367.3 601.7,367.2 602.1,367.3 602.5,366.9 602.9,366.7 603.3,366.9 603.7,366.8 604.1,366.7 604.5,366.6 604.9,366.2 605.3,366 605.7,365.8 606.1,366 606.5,365.9 606.9,365.9 607.2,366.1 607.6,366.2 608,366.1 608.4,366 608.8,366 609.2,365.8 609.6,366 610,366.2 610.4,366.1 610.8,366 611.2,366 611.6,366.3 612,366.1 612.4,366.2 612.8,366 613.2,366.4 613.5,366.2 613.9,366.2 614.3,366.2 614.7,366.6 615.1,366.4 615.5,366.4 615.9,366.6 616.3,366.5 616.7,366.2 617.1,366.2 617.5,366.8 617.9,367.1 618.3,367 618.7,367.2 619.1,367.7 619.5,367.7 619.8,367.4 620.2,367.8 620.6,368.7 621,369 621.4,369.1 621.8,369.5 622.2,369.4 622.6,369.5 623,369.8 623.4,370.5 623.8,371.1 624.2,371.3 624.6,371.5 625,371.7 625.4,371.1 625.8,371.6 626.1,371.7 626.5,371.6 626.9,371.8 627.3,371.8 627.7,372 628.1,371.5 628.5,371.8 628.9,372.4 629.3,372.1 629.7,372.2 630.1,371.9 630.5,372.2 630.9,371.7 631.3,371.8 631.7,371.4 632.1,371.5 632.4,371.9 632.8,372.5 633.2,373 633.6,372.8 634,372.2 634.4,372.1 634.8,371.7 635.2,371.7 635.6,371.3 636,371.1 636.4,370.8 636.8,370.4 637.2,370.6 637.6,370.6 638,370.2 638.4,370.3 638.7,370.4 639.1,370 639.5,369.8 639.9,369.5 640.3,369.2 640.7,368.9 641.1,369.1 641.5,369.2 641.9,369.6 642.3,369.3 642.7,369.3 643.1,368.9 643.5,369.3 643.9,368.9 644.3,369 644.7,369 645,368.9 645.4,368.6 645.8,368.3 646.2,368 646.6,368 647,368.1 647.4,368.2 647.8,368.1 649,368.1"/>
<g shape-rendering="crispEdges"><rect x="82" y="84" width="566" height="1" fill="#000" fill-opacity="0.03"/><rect x="82" y="367" width="566" height="1" fill="#000" fill-opacity="0.03"/></g>
<g shape-rendering="crispEdges">
<rect x="81" y="234" width="28" height="6" fill="#ff9f10"/>
<rect x="109" y="234" width="1" height="6" fill="#ffc40a"/>
<rect x="110" y="234" width="7" height="6" fill="#ff9f10"/>
<rect x="117" y="234" width="1" height="6" fill="#ffc40a"/>
<rect x="118" y="234" width="10" height="6" fill="#ff9f10"/>
<rect x="128" y="234" width="1" height="6" fill="#ffc40a"/>
<rect x="129" y="234" width="3" height="6" fill="#ff9f10"/>
<rect x="132" y="234" width="1" height="6" fill="#ffc40a"/>
<rect x="133" y="234" width="14" height="6" fill="#ff9f10"/>
<rect x="147" y="234" width="1" height="6" fill="#ffc40a"/>
<rect x="148" y="234" width="5" height="6" fill="#ff9f10"/>
<rect x="153" y="234" width="1" height="6" fill="#ffc40a"/>
<rect x="154" y="234" width="12" height="6" fill="#ff9f10"/>
<rect x="166" y="234" width="1" height="6" fill="#ffc40a"/>
<rect x="167" y="234" width="14" height="6" fill="#ff9f10"/>
<rect x="181" y="234" width="1" height="6" fill="#ffc40a"/>
<rect x="182" y="234" width="7" height="6" fill="#ff9f10"/>
<rect x="189" y="234" width="12" height="6" fill="#ff2a10"/>
<rect x="201" y="234" width="1" height="6" fill="#ff4512"/>
<rect x="202" y="234" width="3" height="6" fill="#ff5a14"/>
<rect x="205" y="234" width="1" height="6" fill="#ff4512"/>
<rect x="206" y="234" width="6" height="6" fill="#ff2a10"/>
<rect x="212" y="234" width="1" height="6" fill="#ff5a14"/>
<rect x="213" y="234" width="9" height="6" fill="#ff2a10"/>
<rect x="222" y="234" width="1" height="6" fill="#ff5a14"/>
<rect x="223" y="234" width="4" height="6" fill="#ff2a10"/>
<rect x="227" y="234" width="1" height="6" fill="#ff5a14"/>
<rect x="228" y="234" width="13" height="6" fill="#ff2a10"/>
<rect x="241" y="234" width="1" height="6" fill="#ff5a14"/>
<rect x="242" y="234" width="9" height="6" fill="#ff2a10"/>
<rect x="251" y="234" width="1" height="6" fill="#ff5a14"/>
<rect x="252" y="234" width="13" height="6" fill="#ff2a10"/>
<rect x="265" y="234" width="1" height="6" fill="#ff5a14"/>
<rect x="266" y="234" width="2" height="6" fill="#ff2a10"/>
<rect x="268" y="234" width="1" height="6" fill="#ff5a14"/>
<rect x="269" y="234" width="16" height="6" fill="#ff2a10"/>
<rect x="285" y="234" width="1" height="6" fill="#ff5a14"/>
<rect x="286" y="234" width="18" height="6" fill="#ff2a10"/>
<rect x="304" y="234" width="1" height="6" fill="#ff5a14"/>
<rect x="305" y="234" width="11" height="6" fill="#ff2a10"/>
<rect x="316" y="234" width="21" height="6" fill="#ff9f10"/>
<rect x="337" y="234" width="2" height="6" fill="#ffdc05"/>
<rect x="339" y="234" width="2" height="6" fill="#ffee00"/>
<rect x="341" y="234" width="25" height="6" fill="#ff9f10"/>
<rect x="366" y="234" width="1" height="6" fill="#ffc40a"/>
<rect x="367" y="234" width="22" height="6" fill="#ff9f10"/>
<rect x="389" y="234" width="1" height="6" fill="#ffc40a"/>
<rect x="390" y="234" width="58" height="6" fill="#ff9f10"/>
<rect x="448" y="234" width="1" height="6" fill="#ffc40a"/>
<rect x="449" y="234" width="64" height="6" fill="#ff9f10"/>
<rect x="513" y="234" width="1" height="6" fill="#ffc40a"/>
<rect x="514" y="234" width="3" height="6" fill="#ff9f10"/>
<rect x="517" y="234" width="1" height="6" fill="#ffc40a"/>
<rect x="518" y="234" width="2" height="6" fill="#ff9f10"/>
<rect x="520" y="234" width="1" height="6" fill="#ffc40a"/>
<rect x="521" y="234" width="52" height="6" fill="#ff9f10"/>
<rect x="573" y="234" width="1" height="6" fill="#ffc40a"/>
<rect x="574" y="234" width="17" height="6" fill="#ff9f10"/>
<rect x="591" y="234" width="1" height="6" fill="#ffc40a"/>
<rect x="592" y="234" width="16" height="6" fill="#ff9f10"/>
<rect x="608" y="234" width="1" height="6" fill="#ffc40a"/>
<rect x="609" y="234" width="2" height="6" fill="#ff9f10"/>
<rect x="611" y="234" width="1" height="6" fill="#ffdc05"/>
<rect x="612" y="234" width="23" height="6" fill="#ff2a10"/>
<rect x="635" y="234" width="1" height="6" fill="#ff5a14"/>
<rect x="636" y="234" width="12" height="6" fill="#ff2a10"/>
<rect x="648" y="234" width="1" height="6" fill="#ff9f10"/>
<rect x="81" y="234" width="568" height="1" fill="#000" fill-opacity="0.22"/>
<rect x="81" y="234" width="1" height="6" fill="#a86000" fill-opacity="0.7"/>
<rect x="648" y="234" width="1" height="6" fill="#a06000" fill-opacity="0.8"/>
<rect x="82" y="240" width="567" height="1" fill="#d2dada"/>
</g>
<text x="81.8" y="21.9" font-size="21" textLength="106.1" lengthAdjust="spacing" fill="#000" stroke="#000" style="stroke-width:0.15px">2019/10/28</text>
<text x="234.8" y="21.9" font-size="21.8" textLength="187.7" lengthAdjust="spacing" fill="#000" stroke="#000" style="stroke-width:0.15px">AE(11) (Real-Time)</text>
<text x="479.4" y="21.7" font-size="11" textLength="167.4" lengthAdjust="spacing" fill="#000" stroke="#000">WDC for Geomagnetism, Kyoto</text>
<text x="11" y="69.9" font-size="22" textLength="30.4" lengthAdjust="spacing" fill="#000" stroke="#000">AU</text>
<text x="10.9" y="120.9" font-size="22" textLength="28" lengthAdjust="spacing" fill="#000" stroke="#000">AL</text>
<text x="11" y="345.9" font-size="22" textLength="29" lengthAdjust="spacing" fill="#000" stroke="#000">AE</text>
<text x="11" y="388.6" font-size="22" textLength="31.7" lengthAdjust="spacing" fill="#000" stroke="#000">AO</text>
<text x="45.8" y="30.8" font-size="11.5" textLength="28.8" lengthAdjust="spacing" fill="#000" stroke="#000">1000</text>
<text x="53" y="59.5" font-size="11.5" textLength="21.5" lengthAdjust="spacing" fill="#000" stroke="#000">500</text>
<text x="67.5" y="88.5" font-size="11.5" textLength="7" lengthAdjust="spacing" fill="#000" stroke="#000">0</text>
<text x="53" y="116.5" font-size="11.5" textLength="21.5" lengthAdjust="spacing" fill="#000" stroke="#000">500</text>
<text x="45.2" y="116.5" font-size="11.5" textLength="4.8" lengthAdjust="spacing" fill="#000" stroke="#000">-</text>
<text x="45.8" y="144.5" font-size="11.5" textLength="28.8" lengthAdjust="spacing" fill="#000" stroke="#000">1000</text>
<text x="38.3" y="144.5" font-size="11.5" textLength="4.8" lengthAdjust="spacing" fill="#000" stroke="#000">-</text>
<text x="45.8" y="173.5" font-size="11.5" textLength="28.8" lengthAdjust="spacing" fill="#000" stroke="#000">1500</text>
<text x="38.3" y="173.5" font-size="11.5" textLength="4.8" lengthAdjust="spacing" fill="#000" stroke="#000">-</text>
<text x="46.1" y="201.5" font-size="11.5" textLength="28.5" lengthAdjust="spacing" fill="#000" stroke="#000">2000</text>
<text x="38.3" y="201.5" font-size="11.5" textLength="4.8" lengthAdjust="spacing" fill="#000" stroke="#000">-</text>
<text x="52.4" y="42.7" font-size="12" textLength="23.5" lengthAdjust="spacing" fill="#000" stroke="#000">(nT)</text>
<text x="46.1" y="257.8" font-size="11.5" textLength="28.5" lengthAdjust="spacing" fill="#000" stroke="#000">2000</text>
<text x="45.8" y="286.5" font-size="11.5" textLength="28.8" lengthAdjust="spacing" fill="#000" stroke="#000">1500</text>
<text x="45.8" y="314.5" font-size="11.5" textLength="28.8" lengthAdjust="spacing" fill="#000" stroke="#000">1000</text>
<text x="53" y="343.5" font-size="11.5" textLength="21.5" lengthAdjust="spacing" fill="#000" stroke="#000">500</text>
<text x="67.5" y="371.5" font-size="11.5" textLength="7" lengthAdjust="spacing" fill="#000" stroke="#000">0</text>
<text x="53" y="399.5" font-size="11.5" textLength="21.5" lengthAdjust="spacing" fill="#000" stroke="#000">500</text>
<text x="45.2" y="399.5" font-size="11.5" textLength="4.8" lengthAdjust="spacing" fill="#000" stroke="#000">-</text>
<text x="52.4" y="269.6" font-size="12" textLength="23.5" lengthAdjust="spacing" fill="#000" stroke="#000">(nT)</text>
<text x="74.9" y="207.8" font-size="11" textLength="12.6" lengthAdjust="spacingAndGlyphs" fill="#000" stroke="#000">00</text>
<text x="215.6" y="207.8" font-size="11" textLength="13.9" lengthAdjust="spacingAndGlyphs" fill="#000" stroke="#000">06</text>
<text x="357.7" y="207.8" font-size="11" textLength="13.7" lengthAdjust="spacingAndGlyphs" fill="#000" stroke="#000">12</text>
<text x="500.1" y="207.8" font-size="11" textLength="12.3" lengthAdjust="spacingAndGlyphs" fill="#000" stroke="#000">18</text>
<text x="641.6" y="207.8" font-size="11" textLength="12.4" lengthAdjust="spacingAndGlyphs" fill="#000" stroke="#000">24</text>
<text x="353.2" y="221.8" font-size="14" textLength="23.7" lengthAdjust="spacing" fill="#000" stroke="#000">U T</text>
<text x="74.9" y="406.4" font-size="11" textLength="12.6" lengthAdjust="spacingAndGlyphs" fill="#000" stroke="#000">00</text>
<text x="215.6" y="406.4" font-size="11" textLength="13.9" lengthAdjust="spacingAndGlyphs" fill="#000" stroke="#000">06</text>
<text x="357.7" y="406.4" font-size="11" textLength="13.7" lengthAdjust="spacingAndGlyphs" fill="#000" stroke="#000">12</text>
<text x="500.1" y="406.4" font-size="11" textLength="12.3" lengthAdjust="spacingAndGlyphs" fill="#000" stroke="#000">18</text>
<text x="641.6" y="406.4" font-size="11" textLength="12.4" lengthAdjust="spacingAndGlyphs" fill="#000" stroke="#000">24</text>
<text x="353.2" y="420.6" font-size="14" textLength="23.7" lengthAdjust="spacing" fill="#000" stroke="#000">U T</text>
<text x="656.5" y="65.3" font-size="11.6" textLength="13" lengthAdjust="spacing" fill="#ff0a80" stroke="#ff0a80" style="stroke-width:0.2px">12</text>
<text x="656.5" y="263.8" font-size="11.6" textLength="13" lengthAdjust="spacing" fill="#ff0a80" stroke="#ff0a80" style="stroke-width:0.2px">12</text>
<text x="656.5" y="77.3" font-size="11.6" textLength="12.9" lengthAdjust="spacing" fill="#ff2a10" stroke="#ff2a10" style="stroke-width:0.2px">11</text>
<text x="656.5" y="275.8" font-size="11.6" textLength="12.9" lengthAdjust="spacing" fill="#ff2a10" stroke="#ff2a10" style="stroke-width:0.2px">11</text>
<text x="656.5" y="89.3" font-size="11.6" textLength="13" lengthAdjust="spacing" fill="#ff9f10" stroke="#ff9f10" style="stroke-width:0.2px">10</text>
<text x="656.5" y="287.8" font-size="11.6" textLength="13" lengthAdjust="spacing" fill="#ff9f10" stroke="#ff9f10" style="stroke-width:0.2px">10</text>
<text x="662.8" y="101.4" font-size="11.6" textLength="6.6" lengthAdjust="spacing" fill="#ffee00" stroke="#ffee00" style="stroke-width:0.2px">9</text>
<text x="662.8" y="299.9" font-size="11.6" textLength="6.6" lengthAdjust="spacing" fill="#ffee00" stroke="#ffee00" style="stroke-width:0.2px">9</text>
<text x="662.8" y="113.4" font-size="11.6" textLength="6.5" lengthAdjust="spacing" fill="#99ff00" stroke="#99ff00" style="stroke-width:0.2px">8</text>
<text x="662.8" y="311.9" font-size="11.6" textLength="6.5" lengthAdjust="spacing" fill="#99ff00" stroke="#99ff00" style="stroke-width:0.2px">8</text>
<text x="662.7" y="125.4" font-size="11.6" textLength="6.8" lengthAdjust="spacing" fill="#00f0d0" stroke="#00f0d0" style="stroke-width:0.2px">7</text>
<text x="662.7" y="323.9" font-size="11.6" textLength="6.8" lengthAdjust="spacing" fill="#00f0d0" stroke="#00f0d0" style="stroke-width:0.2px">7</text>
<text x="662.8" y="137.4" font-size="11.6" textLength="6.6" lengthAdjust="spacing" fill="#1080ff" stroke="#1080ff" style="stroke-width:0.2px">6</text>
<text x="662.8" y="335.9" font-size="11.6" textLength="6.6" lengthAdjust="spacing" fill="#1080ff" stroke="#1080ff" style="stroke-width:0.2px">6</text>
<text x="662.8" y="149.4" font-size="11.6" textLength="6.5" lengthAdjust="spacing" fill="#2010ff" stroke="#2010ff" style="stroke-width:0.2px">5</text>
<text x="662.8" y="347.9" font-size="11.6" textLength="6.5" lengthAdjust="spacing" fill="#2010ff" stroke="#2010ff" style="stroke-width:0.2px">5</text>
<text x="663" y="161.5" font-size="11.6" textLength="6" lengthAdjust="spacing" fill="#f010f0" stroke="#f010f0" style="stroke-width:0.2px">4</text>
<text x="663" y="360" font-size="11.6" textLength="6" lengthAdjust="spacing" fill="#f010f0" stroke="#f010f0" style="stroke-width:0.2px">4</text>
<text x="662.9" y="173.5" font-size="11.6" textLength="6.5" lengthAdjust="spacing" fill="#000000" stroke="#000000" style="stroke-width:0.2px">3</text>
<text x="662.9" y="372" font-size="11.6" textLength="6.5" lengthAdjust="spacing" fill="#000000" stroke="#000000" style="stroke-width:0.2px">3</text>
<text x="662.8" y="185.5" font-size="11.6" textLength="6.7" lengthAdjust="spacing" fill="#606060" stroke="#606060" style="stroke-width:0.2px">2</text>
<text x="662.8" y="384" font-size="11.6" textLength="6.7" lengthAdjust="spacing" fill="#606060" stroke="#606060" style="stroke-width:0.2px">2</text>
<text x="663.5" y="197.5" font-size="11.6" textLength="5.9" lengthAdjust="spacing" fill="#c0c0c0" stroke="#c0c0c0" style="stroke-width:0.2px">1</text>
<text x="663.5" y="396" font-size="11.6" textLength="5.9" lengthAdjust="spacing" fill="#c0c0c0" stroke="#c0c0c0" style="stroke-width:0.2px">1</text>
<text x="478.5" y="443.5" font-size="12" textLength="45.3" lengthAdjust="spacingAndGlyphs" fill="#000" stroke="#000" style="font-weight:normal;stroke-width:0.55px">[Created</text>
<text x="527.4" y="443.5" font-size="12" textLength="9.7" lengthAdjust="spacingAndGlyphs" fill="#000" stroke="#000" style="font-weight:normal;stroke-width:0.55px">at</text>
<text x="541" y="443.5" font-size="12" textLength="58.7" lengthAdjust="spacingAndGlyphs" fill="#000" stroke="#000" style="font-weight:normal;stroke-width:0.55px">2019-10-29</text>
<text x="602" y="443.5" font-size="12" textLength="46.1" lengthAdjust="spacingAndGlyphs" fill="#000" stroke="#000" style="font-weight:normal;stroke-width:0.55px">04:20UT]</text>
</svg></body></html>
